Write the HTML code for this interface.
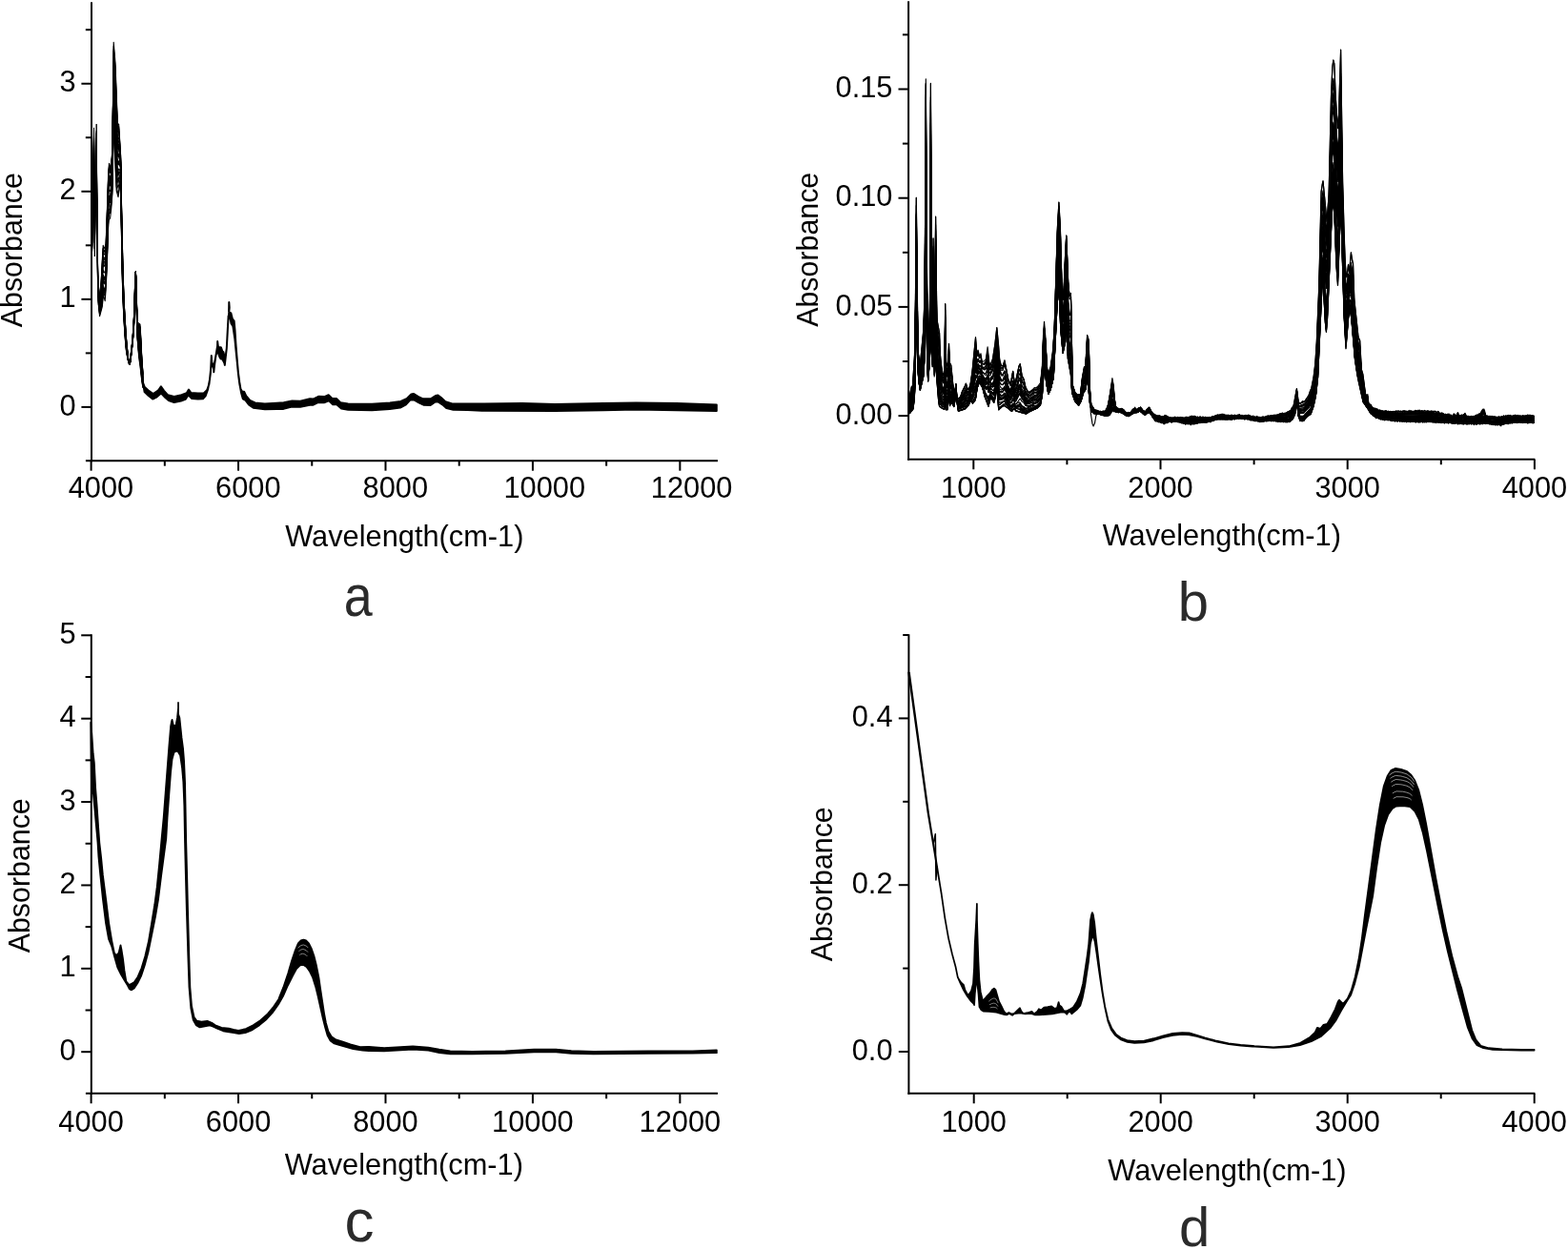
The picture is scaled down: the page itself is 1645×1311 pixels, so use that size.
<!DOCTYPE html>
<html lang="en"><head><meta charset="utf-8"><title>Spectra</title>
<style>
html,body{margin:0;padding:0;background:#fff;}
svg{display:block;font-family:"Liberation Sans", Arial, Helvetica, sans-serif;}
</style></head><body>
<svg width="1645" height="1311" viewBox="0 0 1645 1311">
<rect width="1645" height="1311" fill="#fff"/>
<g id="curves">
<g fill="none" stroke="#000" stroke-width="0.95" stroke-linejoin="round"><path d="M95.80,270.0 96.80,262.0 97.80,230.0 98.50,200.0 98.90,240.0 99.30,269.0 100.60,205.0 101.30,188.0 101.60,215.0 101.90,250.0 102.50,296.0 103.20,318.6 103.60,322.3"/>
<path d="M95.80,267.6 96.60,258.9 96.80,255.9 97.80,220.4 98.50,189.8 98.90,226.6 99.30,253.7 100.00,228.6 100.60,199.2 101.20,180.2 101.30,180.4 101.60,209.9 101.90,246.0 102.50,292.1 103.20,315.9 103.60,320.0"/>
<path d="M95.80,268.5 96.60,260.8 96.80,258.4 97.80,224.7 98.50,194.5 98.90,232.9 99.30,261.0 100.00,231.7 100.60,202.1 101.20,185.3 101.30,184.2 101.60,212.4 101.90,248.0 102.50,294.0 103.20,317.3 103.60,321.1"/>
<path d="M95.80,267.6 96.60,259.1 96.80,256.2 97.80,221.2 98.50,190.7 98.90,227.8 99.30,255.1 100.00,229.2 100.60,199.6 101.20,180.9 101.30,180.9 101.60,210.2 101.90,246.2 102.50,292.2 103.20,315.9 103.60,319.9"/>
<path d="M95.80,264.5 96.60,253.3 96.80,248.7 97.80,210.0 98.50,179.2 98.90,213.0 99.30,238.6 100.00,222.5 100.60,193.7 101.20,170.8 101.30,173.5 101.90,242.3 102.10,260.3 102.50,288.5 103.10,310.9 103.20,313.5 103.60,317.8"/>
<path d="M95.80,263.2 96.60,251.0 96.80,246.0 97.80,206.3 98.50,175.8 98.90,208.7 99.30,234.0 100.00,220.8 100.60,192.2 101.20,168.4 101.30,171.7 101.90,241.4 102.10,259.7 102.50,287.6 103.10,310.4 103.20,312.9 103.60,317.3"/>
<path d="M95.80,261.0 96.60,246.5 96.80,240.0 98.50,164.8 98.90,194.1 99.30,217.2 100.00,213.7 101.20,157.1 101.30,163.3 101.80,225.4 102.10,256.8 102.50,283.4 103.10,308.0 103.20,310.2 103.60,315.0"/>
<path d="M95.80,260.2 96.60,245.1 96.80,238.3 98.50,163.0 98.90,192.0 99.30,215.1 100.00,212.9 101.20,155.9 101.30,162.4 101.80,224.9 102.10,256.5 102.50,282.9 102.70,292.4 103.10,307.6 103.20,309.8 103.60,314.6"/>
<path d="M95.80,259.1 96.60,243.0 96.80,235.5 98.50,157.7 98.90,184.8 99.30,206.6 100.00,209.2 100.60,181.6 101.20,149.7 101.30,157.8 101.80,222.4 102.10,254.8 102.50,280.4 102.70,290.4 103.10,306.1 103.20,308.1 103.60,313.1"/>
<path d="M95.80,257.0 96.60,239.1 97.60,191.2 98.50,150.9 98.90,176.3 99.30,197.3 100.00,205.6 100.60,178.5 101.20,144.5 102.10,253.6 102.70,289.0 103.10,305.1 103.20,306.9 103.60,312.0"/>
<path d="M95.80,255.0 96.60,235.4 97.60,184.6 98.50,144.1 99.20,184.1 99.30,188.0 100.00,202.0 100.60,175.4 101.20,139.4 101.80,218.6 102.10,252.4 102.70,287.8 103.10,304.1 103.60,311.2"/>
<path d="M95.80,254.2 96.60,234.1 97.60,182.4 98.50,141.8 99.20,181.0 99.30,184.7 100.00,200.7 100.60,174.2 101.20,137.4 101.80,217.8 102.10,251.9 102.70,287.1 103.10,303.6 103.60,310.6"/>
<path d="M95.80,254.3 96.60,234.5 97.60,183.5 98.50,143.4 99.20,183.5 99.30,187.4 100.00,201.9 100.60,175.4 101.20,139.5 101.80,218.7 102.10,252.4 102.70,287.8 103.10,304.2 103.60,311.2"/>
<path d="M95.80,252.0 96.60,230.0 97.60,175.0 98.50,133.9 99.20,170.0 100.00,196.0 100.60,170.0 101.20,130.1 101.80,215.0 102.10,250.0 102.70,285.0 103.10,302.0 103.60,309.0"/></g>
<g fill="none" stroke="#000" stroke-width="1.1" stroke-linejoin="round"><path d="M103.40,320.5 104.60,331.6 107.30,321.7 108.40,309.5 110.20,315.6 111.10,303.4 112.20,280.5 113.00,257.6 113.50,240.0 114.20,231.0 115.60,228.8 116.80,218.0 117.90,203.0 118.30,180.0 118.90,150.0 119.50,135.0 121.40,184.0 122.20,200.0 124.00,206.7 125.20,199.0 126.30,190.0 126.53,180.4 126.99,216.4 127.90,272.4 128.22,288.4 128.55,300.4 129.27,320.4 129.65,328.4 130.30,340.4 130.80,348.4 131.38,356.4 131.72,360.4 132.50,368.4 134.00,376.9 135.30,381.1 136.00,382.2 136.85,379.4 138.45,366.5 139.30,358.5 139.98,350.5 140.52,342.5 140.94,334.5 141.28,326.5 141.53,318.5 141.70,302.5 141.84,294.5 141.97,290.5 142.40,285.6 143.10,315.0 143.60,340.1 144.10,355.1 145.73,375.2 146.98,383.9 148.86,400.2 150.00,407.0"/>
<path d="M103.40,319.2 104.60,329.3 106.10,322.8 107.30,316.0 108.20,305.2 108.40,303.3 109.00,305.3 110.20,308.5 111.10,297.6 112.20,273.9 113.00,251.2 113.50,233.9 113.70,231.0 114.20,224.8 114.50,224.2 115.60,223.6 115.80,222.2 116.80,213.6 117.60,203.4 117.90,198.0 118.90,145.0 119.20,136.0 119.50,129.5 121.40,178.7 122.20,195.4 123.40,201.4 124.00,203.6 125.20,196.6 126.30,188.6 126.53,179.6 126.99,214.8 127.90,270.5 128.22,286.3 128.68,302.5 129.27,318.8 129.65,326.9 130.30,339.0 130.80,347.0 131.38,355.0 131.74,359.3 132.50,367.2 134.00,376.3 135.30,381.0 136.00,382.1 136.85,379.2 138.45,365.8 139.30,357.7 139.98,349.5 140.52,341.3 140.94,333.1 141.42,320.5 141.60,312.7 141.76,298.0 141.97,290.4 142.40,285.5 143.10,314.2 143.60,338.4 144.10,353.0 144.48,357.9 145.73,372.6 146.98,381.3 148.86,399.1 150.00,406.5"/>
<path d="M103.40,319.4 104.60,329.9 106.10,324.0 107.30,318.3 108.40,305.7 109.00,307.7 110.20,310.8 111.10,299.1 112.20,275.0 113.00,251.8 113.50,234.1 113.70,231.0 114.20,224.4 114.50,223.5 115.60,222.1 115.80,220.6 116.80,211.3 117.60,200.8 117.90,194.0 118.90,139.8 119.20,128.6 119.50,122.7 120.40,143.7 121.40,169.3 122.20,186.5 123.40,195.0 124.00,197.3 124.60,194.2 125.20,192.3 126.30,186.7 126.53,178.6 126.99,213.0 127.90,268.9 128.22,284.9 128.68,301.5 129.27,318.2 129.65,326.5 130.30,338.9 130.80,347.1 131.38,355.2 131.74,359.6 132.50,367.6 134.00,376.5 135.30,381.1 136.00,382.2 136.85,379.3 137.97,370.1 138.90,362.0 139.66,353.9 140.27,345.7 140.74,337.4 141.17,328.0 141.53,316.7 141.70,301.8 141.84,294.2 141.97,290.4 142.40,285.5 143.10,314.1 143.60,338.0 144.10,352.4 144.48,357.2 145.73,370.7 146.98,378.4 148.86,397.0 150.00,405.1"/>
<path d="M103.40,318.5 103.60,320.5 104.60,328.3 106.10,321.6 107.30,314.2 108.20,303.1 108.40,301.3 109.00,303.3 110.20,306.0 111.10,295.2 112.20,270.8 113.00,247.7 113.50,230.3 113.70,226.9 114.20,220.6 114.50,219.5 115.60,218.9 115.80,217.5 116.80,208.5 117.60,198.2 117.90,190.5 118.90,136.0 119.20,123.4 119.50,118.1 121.00,152.6 121.40,163.3 122.20,180.7 123.40,190.3 124.00,192.2 124.60,189.1 125.20,187.9 126.30,184.1 126.53,177.1 127.05,214.3 127.90,265.3 128.32,285.2 128.81,302.6 129.46,319.7 130.36,337.8 130.80,345.0 131.38,353.3 132.00,360.8 132.50,366.2 134.00,375.9 134.60,378.4 135.30,381.0 136.00,382.1 136.75,379.6 136.85,379.1 138.45,365.7 139.30,357.6 139.98,349.4 140.52,341.1 140.94,332.8 141.42,320.1 141.60,312.4 141.76,297.8 141.92,291.6 141.97,290.3 142.40,285.5 143.10,313.9 143.60,337.7 144.10,352.1 144.48,357.1 145.73,370.7 146.98,378.4 148.86,397.0 150.00,405.0"/>
<path d="M103.40,317.4 103.60,319.5 104.60,326.7 106.10,320.0 107.30,312.0 108.20,301.1 108.40,299.5 109.00,301.8 110.20,304.7 111.10,294.4 112.20,270.1 113.00,247.2 113.50,229.8 113.70,226.5 114.20,220.2 114.50,219.2 115.60,218.7 115.80,217.4 116.80,208.3 117.60,198.0 117.90,190.1 118.90,135.4 119.20,122.6 119.50,117.2 121.00,151.0 121.40,161.5 122.20,178.5 123.40,188.1 124.00,189.6 124.60,186.4 125.20,185.4 126.30,182.4 126.53,176.1 127.11,216.1 127.90,262.7 128.32,282.5 128.81,300.2 129.46,317.7 130.36,335.9 130.80,343.2 131.38,351.6 132.00,359.3 132.50,364.8 134.00,375.2 134.60,378.1 135.30,380.9 136.00,382.0 136.75,379.4 136.85,378.8 137.43,373.4 138.45,365.0 139.12,358.6 139.73,351.5 140.42,341.5 140.94,331.0 141.42,317.7 141.60,310.2 141.76,297.2 141.92,291.3 141.97,290.2 142.40,285.4 143.10,312.8 143.60,335.4 144.10,349.1 144.48,354.4 145.73,366.4 146.98,373.6 148.86,394.5 150.00,403.6"/>
<path d="M103.40,316.5 103.60,318.6 104.60,325.0 106.10,317.4 107.30,307.4 108.20,295.6 108.40,294.3 109.00,296.4 110.20,298.3 111.10,288.9 112.20,263.6 113.00,240.6 113.50,223.3 113.70,219.5 114.20,213.3 114.50,211.9 115.60,212.2 115.80,211.2 116.80,202.2 117.60,192.5 117.90,182.3 118.30,159.4 118.70,140.9 118.90,127.0 119.20,111.3 119.50,107.3 121.00,139.5 121.40,150.3 122.20,168.5 123.40,181.3 124.00,182.9 124.60,180.3 125.20,180.7 126.30,180.1 126.53,174.8 127.12,214.7 127.90,260.4 128.32,280.3 128.92,301.9 129.27,312.0 129.65,320.9 130.54,338.2 131.38,351.0 132.00,358.9 132.50,364.5 134.00,375.1 134.60,378.1 135.30,380.9 136.00,382.0 136.75,379.4 136.85,378.8 137.43,373.5 138.45,365.0 139.12,358.6 139.73,351.6 140.42,341.6 140.94,331.2 141.42,317.9 141.60,310.4 141.76,297.2 141.92,291.3 141.97,290.2 142.40,285.4 143.10,312.9 143.60,335.6 144.10,349.3 144.48,354.6 145.73,366.6 146.98,373.6 148.86,394.3 150.00,403.4"/>
<path d="M103.40,315.5 103.60,317.7 104.60,323.5 106.10,315.8 107.30,305.3 108.20,293.5 108.40,292.4 109.00,294.8 110.20,296.9 111.10,288.1 112.20,263.0 113.00,240.3 113.50,223.2 113.70,219.4 114.20,213.4 114.50,212.1 115.60,212.6 115.80,211.7 116.80,202.8 117.60,193.2 117.90,183.5 118.30,160.6 118.70,142.1 118.90,128.5 119.20,113.3 119.50,109.2 121.00,142.1 121.40,152.9 122.20,171.0 123.40,183.1 124.00,184.7 124.60,182.0 125.20,182.1 126.30,180.8 126.53,175.2 127.12,215.3 127.90,261.0 128.32,280.9 128.82,299.2 129.46,316.7 130.36,335.2 130.80,342.5 131.38,351.0 132.00,358.8 132.50,364.4 134.00,375.0 134.60,378.0 135.30,380.9 136.00,382.0 136.75,379.4 136.85,378.8 137.43,373.3 138.45,364.8 139.12,358.3 139.73,351.2 140.42,341.0 140.94,330.4 141.42,316.7 141.60,309.3 141.76,296.9 141.92,291.2 141.97,290.1 142.40,285.3 143.10,312.3 143.60,334.1 144.10,347.4 144.48,352.8 145.73,363.4 146.98,369.5 147.86,379.4 148.61,389.1 148.86,391.8 150.00,401.8"/>
<path d="M103.40,314.6 103.60,316.9 104.60,322.0 106.10,313.8 107.30,302.1 108.20,289.9 108.40,288.9 109.00,291.4 110.20,292.9 111.10,284.7 112.20,259.1 113.00,236.3 113.50,219.3 113.70,215.2 114.20,209.2 114.50,207.7 115.60,208.7 115.80,207.9 116.80,199.1 117.60,189.8 117.90,178.6 118.30,155.8 118.70,137.7 118.90,123.1 119.20,106.1 119.50,102.8 121.00,134.3 121.40,145.3 122.20,163.9 123.40,178.0 124.00,179.5 124.60,177.1 125.20,178.1 126.30,178.7 126.53,174.0 127.19,217.7 127.90,258.6 128.32,278.4 128.92,300.4 129.46,315.2 130.36,334.0 130.80,341.4 131.38,350.0 132.00,358.0 132.50,363.7 134.00,374.7 134.60,377.9 135.30,380.8 136.00,381.9 136.75,379.4 136.85,378.7 137.43,373.1 138.45,364.6 139.12,358.1 139.73,351.0 140.27,343.2 140.78,333.8 141.28,320.7 141.53,312.2 141.76,296.8 141.92,291.2 141.97,290.1 142.40,285.3 143.10,312.1 143.60,333.8 144.10,347.0 144.48,352.5 145.73,363.0 146.98,369.0 147.86,379.0 148.61,388.9 148.86,391.6 150.00,401.7"/>
<path d="M103.40,314.9 103.60,317.1 104.60,322.4 106.10,314.4 107.30,303.0 108.20,290.9 108.40,289.9 109.00,292.4 110.20,294.2 111.10,285.8 112.20,260.4 113.00,237.7 113.50,220.7 113.70,216.7 114.20,210.8 114.50,209.4 115.60,210.3 115.80,209.5 116.80,200.7 117.60,191.3 117.90,180.8 118.30,158.1 118.70,139.8 118.90,125.7 119.20,109.6 119.50,106.0 121.00,138.4 121.40,149.4 122.20,167.8 123.40,181.0 124.00,182.6 124.60,180.1 125.20,180.6 126.30,180.1 126.53,174.8 127.16,217.3 127.90,260.2 128.32,280.1 128.92,301.7 129.27,311.8 129.65,320.7 130.54,338.0 131.38,350.7 132.00,358.6 132.50,364.2 134.00,374.9 134.60,378.0 135.30,380.9 136.00,382.0 136.75,379.4 136.85,378.7 137.43,373.2 138.45,364.7 139.12,358.2 139.73,351.1 140.27,343.3 140.78,333.9 141.28,320.9 141.53,312.4 141.76,296.8 141.92,291.2 141.97,290.1 142.40,285.3 143.10,312.1 143.60,333.8 144.10,347.0 144.48,352.5 145.73,362.8 146.98,368.7 147.86,378.7 148.61,388.6 148.86,391.3 150.00,401.5"/>
<path d="M103.40,314.7 103.60,317.0 104.60,322.2 106.10,314.0 107.30,302.2 108.20,289.9 108.40,288.9 109.00,291.2 110.00,292.4 110.20,292.6 111.10,284.3 112.20,258.3 113.00,235.3 113.50,218.2 113.70,214.0 114.20,207.9 114.50,206.2 115.60,207.0 115.80,206.3 116.80,197.2 117.60,187.8 117.90,175.7 118.30,152.8 118.70,134.7 119.20,100.9 119.50,98.0 121.00,127.4 121.40,138.1 122.20,156.6 123.40,172.0 124.00,173.0 124.60,170.6 125.20,172.7 126.30,175.5 126.53,172.2 127.22,216.2 127.90,254.2 128.43,278.5 128.96,298.0 129.53,313.8 130.36,331.3 130.80,338.8 131.38,347.6 132.00,355.9 132.50,361.8 133.30,368.5 134.00,373.8 134.60,377.5 135.30,380.7 136.00,381.8 136.75,379.2 137.43,372.3 138.36,364.5 139.12,357.1 139.73,349.7 140.27,341.5 140.78,331.8 141.17,321.6 141.53,309.1 141.74,296.7 141.92,290.8 141.97,289.9 142.40,285.2 143.60,330.7 144.10,343.0 144.48,348.9 145.73,357.0 146.98,361.8 147.86,373.2 148.61,384.6 149.86,398.1 150.00,399.2"/>
<path d="M103.40,314.6 103.60,316.9 104.60,322.0 106.10,313.7 107.30,301.7 108.20,289.3 108.40,288.4 109.00,290.7 110.00,291.8 110.20,291.9 111.10,283.6 112.20,257.5 113.00,234.4 113.50,217.2 113.70,212.9 114.20,206.8 114.50,205.1 115.60,205.9 115.80,205.2 116.80,196.1 117.60,186.7 117.90,174.1 118.30,151.2 118.70,133.1 119.20,98.3 119.50,95.7 121.00,124.5 121.40,135.2 122.20,153.8 123.40,170.0 124.00,171.0 124.60,168.7 125.20,171.1 126.30,174.7 126.53,171.8 127.22,215.5 127.90,253.4 128.47,279.6 129.02,299.6 129.68,316.8 130.54,334.2 131.38,347.4 132.00,355.8 132.50,361.8 133.30,368.5 134.00,373.8 134.60,377.5 135.30,380.7 136.00,381.8 136.75,379.2 137.43,372.4 138.36,364.7 139.12,357.3 139.73,350.0 140.27,342.0 140.78,332.3 141.27,319.1 141.53,310.1 141.76,296.2 141.92,290.9 141.97,289.9 142.40,285.2 143.10,311.2 143.60,331.9 144.10,344.6 144.48,350.4 145.73,359.7 146.98,365.4 147.86,376.3 148.61,387.0 148.86,389.8 150.00,400.7"/>
<path d="M103.40,313.3 103.60,315.6 104.60,319.7 106.10,310.7 107.30,296.7 108.20,283.7 108.40,283.1 109.00,285.4 110.00,285.9 110.20,285.9 111.10,278.7 112.20,251.8 113.00,228.8 113.50,211.7 113.70,207.0 114.20,201.1 114.50,199.1 115.60,200.6 115.80,200.3 116.80,191.2 117.60,182.2 117.90,167.9 118.30,145.0 118.70,127.5 119.20,89.1 119.50,87.6 121.00,114.8 121.40,125.7 122.20,145.1 123.40,163.7 124.00,164.5 124.60,162.6 125.20,166.3 126.30,172.1 126.50,170.2 126.53,170.3 126.97,195.4 127.22,213.1 127.83,246.9 128.47,276.6 129.02,297.2 129.53,311.3 130.36,329.3 130.80,336.9 131.38,346.0 132.00,354.6 132.50,360.7 133.30,367.8 134.00,373.3 134.60,377.3 135.30,380.7 136.00,381.8 136.75,379.1 137.43,372.0 138.36,364.2 139.12,356.7 139.73,349.3 140.21,342.1 140.78,331.3 141.17,321.0 141.53,308.4 141.74,296.5 141.92,290.7 141.97,289.8 142.40,285.2 143.60,330.1 144.10,342.4 144.48,348.4 145.73,356.3 146.98,361.2 147.86,372.8 148.61,384.4 149.65,395.8 150.00,399.2"/>
<path d="M103.40,312.1 103.60,314.5 104.60,317.5 106.10,307.5 107.30,291.3 108.20,277.3 108.40,277.0 109.00,279.3 110.00,278.9 110.20,278.7 111.10,272.6 112.20,244.9 113.00,222.0 113.50,205.2 113.70,200.1 114.20,194.4 114.50,192.2 115.60,195.1 115.80,195.0 116.80,186.5 117.60,178.3 118.30,140.0 118.70,123.2 119.20,82.6 119.50,82.2 121.00,110.0 122.20,141.7 123.40,161.9 124.00,162.9 124.60,161.3 125.20,165.3 126.30,171.6 126.50,169.9 126.53,170.0 126.97,194.8 127.22,212.6 127.83,246.1 128.47,275.7 129.02,296.3 129.53,310.5 130.36,328.5 130.80,336.1 131.38,345.1 132.00,353.8 132.50,359.9 133.30,367.1 134.00,372.8 134.60,377.1 135.30,380.6 136.00,381.7 136.75,379.0 137.43,371.5 138.36,363.7 139.12,356.0 139.73,348.5 140.21,341.2 140.74,330.8 141.05,322.9 141.53,306.6 141.70,297.6 141.84,292.6 141.97,289.7 142.40,285.1 143.60,328.5 144.10,340.3 144.48,346.6 145.73,353.7 146.98,358.4 147.86,370.6 148.61,382.8 149.86,397.2 150.00,398.3"/>
<path d="M103.40,310.8 103.60,313.3 104.60,315.5 106.10,305.2 107.30,287.9 108.20,273.8 108.40,273.8 109.00,276.3 110.00,275.9 110.20,275.7 111.10,270.3 112.20,242.3 113.00,219.5 113.50,202.8 113.70,197.5 114.20,191.8 114.50,189.4 115.60,192.4 115.80,192.5 116.80,183.7 117.60,175.5 118.30,135.9 118.70,119.2 119.20,75.9 119.50,76.1 121.00,101.7 122.20,133.7 123.40,155.9 124.00,156.7 124.60,155.5 125.20,160.7 126.30,169.3 126.50,168.4 126.53,168.7 126.97,192.4 127.22,210.6 127.83,243.8 128.56,277.2 129.11,297.6 129.68,313.0 130.54,331.0 131.08,340.0 131.72,349.7 132.50,359.8 133.30,367.1 134.00,372.9 134.60,377.1 135.30,380.6 136.00,381.7 136.75,379.0 137.43,371.6 138.36,363.8 139.12,356.2 139.73,348.7 140.21,341.3 140.78,330.2 141.12,320.8 141.53,306.7 141.70,297.6 141.84,292.6 141.97,289.7 142.40,285.1 143.60,328.1 144.10,339.6 144.48,345.9 145.73,351.8 146.98,355.2 147.86,367.5 148.61,380.3 149.86,395.5 150.00,396.7"/>
<path d="M103.40,311.5 103.60,313.9 104.60,316.7 106.10,306.7 107.30,290.2 108.20,276.3 108.40,276.1 109.00,278.6 110.00,278.2 110.20,278.0 111.10,272.1 112.20,244.1 113.00,221.1 113.50,204.2 113.70,198.9 114.20,193.1 114.50,190.7 115.60,193.2 115.80,193.2 116.80,184.1 117.60,175.7 118.30,135.9 118.70,119.1 119.20,75.4 119.50,75.5 121.00,100.2 122.20,131.6 123.40,153.9 124.00,154.6 124.60,153.3 126.30,168.1 126.50,167.6 126.53,168.0 126.97,191.0 127.29,213.4 127.83,242.2 128.64,279.2 129.14,297.3 129.84,315.6 130.57,330.6 131.72,349.0 132.58,360.1 133.30,366.8 134.00,372.7 134.60,377.0 135.30,380.6 136.00,381.7 136.75,379.0 137.43,371.5 138.36,363.7 139.12,356.1 139.73,348.6 140.21,341.2 140.78,330.2 141.12,320.8 141.53,306.7 141.70,297.6 141.84,292.6 141.97,289.7 142.40,285.1 143.60,328.4 144.10,340.1 144.48,346.4 145.73,352.9 146.98,356.9 147.86,369.1 148.61,381.6 149.86,396.3 150.00,397.5"/>
<path d="M103.40,310.5 103.60,313.0 104.60,315.0 106.10,304.6 107.30,286.8 108.20,272.6 108.40,272.6 109.00,275.1 110.00,274.4 110.20,274.1 111.10,268.8 112.20,240.4 113.00,217.3 113.70,195.0 114.20,189.2 114.50,186.6 115.60,189.6 115.80,189.7 116.80,180.7 117.60,172.6 118.30,131.4 118.70,114.9 119.20,68.5 119.50,69.4 121.00,92.6 122.20,124.4 123.40,148.5 124.00,148.9 124.60,147.8 126.30,165.6 126.50,166.1 126.53,166.6 126.97,188.3 127.22,207.1 127.71,233.2 128.64,276.4 129.14,294.9 129.84,313.7 130.57,328.9 131.74,347.9 132.58,359.0 133.30,366.0 134.00,372.1 134.60,376.8 135.30,380.5 136.00,381.6 136.75,378.9 137.43,371.1 138.36,363.2 138.90,357.9 139.44,351.7 139.98,344.1 140.52,334.5 140.93,325.4 141.53,305.0 141.76,294.8 141.92,290.3 142.40,285.0 143.60,326.7 144.10,337.9 144.48,344.4 145.73,349.6 146.98,353.0 147.86,365.9 148.61,379.3 149.86,395.0 150.00,396.2"/>
<path d="M103.40,310.1 103.60,312.6 104.60,314.3 106.10,303.5 108.20,270.3 108.40,270.4 109.00,272.9 110.00,271.9 110.20,271.6 111.10,266.7 112.20,238.0 113.00,215.1 113.70,192.8 114.20,187.2 114.50,184.6 115.60,188.1 115.80,188.4 116.80,179.7 117.60,172.0 118.30,131.0 118.70,114.7 119.20,68.7 119.50,69.8 121.00,94.5 122.20,127.3 123.40,151.4 124.00,152.2 124.60,151.3 125.20,157.3 126.30,167.5 126.50,167.2 126.53,167.7 126.97,190.4 127.22,208.9 127.78,239.2 128.56,275.0 129.14,296.7 129.84,315.1 130.57,330.1 131.74,348.8 132.58,359.6 133.30,366.4 134.00,372.3 134.60,376.9 135.30,380.5 136.00,381.6 136.75,378.9 137.43,371.1 138.36,363.2 138.90,357.8 139.44,351.5 139.98,343.9 140.52,334.2 140.93,324.9 141.27,313.9 141.84,292.2 141.97,289.5 142.40,285.0 143.60,325.7 144.10,336.6 144.48,343.2 145.73,347.6 146.98,350.4 147.86,363.8 148.61,377.9 149.86,394.2 150.00,395.4"/>
<path d="M103.40,308.9 103.60,311.6 104.60,312.6 106.10,301.8 108.20,268.3 108.40,268.6 109.00,271.3 110.00,270.5 110.20,270.2 111.10,265.8 112.20,237.2 113.00,214.3 113.70,192.0 114.20,186.4 114.50,183.7 115.60,187.1 115.80,187.5 116.80,178.5 117.60,170.6 118.30,128.8 118.70,112.5 119.20,64.6 119.50,65.9 121.00,88.2 122.20,120.3 123.40,145.3 124.00,145.5 124.60,144.5 126.30,164.0 126.50,165.0 126.97,186.4 127.22,205.4 127.69,230.3 128.64,274.2 129.14,293.0 129.84,312.0 130.54,326.9 131.74,346.6 132.58,357.9 133.30,365.2 134.60,376.6 135.30,380.4 136.00,381.5 136.75,378.8 137.43,370.5 138.36,362.5 139.12,354.7 139.66,347.9 139.98,343.0 140.52,333.0 140.93,323.6 141.84,291.9 141.97,289.4 142.40,284.9 143.60,323.8 144.48,341.0 145.73,343.7 146.98,345.5 147.86,359.6 148.61,374.6 149.86,392.1 150.00,393.4"/>
<path d="M103.40,308.3 103.60,310.9 104.60,311.4 106.10,300.0 108.20,264.2 108.40,264.7 109.00,267.3 110.00,265.6 110.20,265.2 111.10,261.4 112.20,231.7 113.00,208.5 113.70,185.7 114.50,176.9 115.80,181.4 117.60,164.7 117.90,143.2 118.30,120.3 118.70,104.6 119.20,51.5 119.50,54.3 121.00,73.7 122.20,106.7 123.40,135.3 124.00,135.3 124.60,134.8 126.50,162.4 126.97,182.0 127.22,201.6 127.60,221.9 128.73,274.0 129.26,293.6 129.84,309.4 130.57,325.2 131.26,337.1 132.00,348.9 132.50,355.7 132.92,360.6 133.70,368.3 134.60,376.4 135.30,380.4 136.00,381.5 136.75,378.7 137.43,370.2 138.36,362.3 139.12,354.5 139.66,347.6 139.98,342.7 140.52,332.8 140.93,323.3 141.84,291.9 141.97,289.4 142.40,284.9 143.60,323.8 144.48,341.2 145.73,344.2 146.98,346.3 147.86,360.3 148.61,375.2 149.86,392.5 150.00,393.8"/>
<path d="M103.40,307.4 103.60,310.1 104.60,309.9 106.10,298.1 108.20,261.1 108.40,261.8 109.00,264.5 110.00,262.8 110.20,262.3 111.10,259.1 113.00,206.2 113.70,183.3 114.50,174.6 115.80,179.6 117.60,163.2 117.90,141.1 118.30,118.3 118.70,102.8 119.20,48.6 119.50,51.7 121.00,70.7 122.20,103.9 123.40,133.2 124.00,133.1 124.60,132.7 126.50,161.7 126.97,180.7 127.22,200.6 127.52,216.6 128.73,272.7 129.26,292.5 129.84,308.3 130.57,324.2 132.00,348.1 132.58,356.0 132.92,359.9 133.70,367.8 134.60,376.2 135.30,380.3 136.00,381.4 136.75,378.6 137.43,369.9 138.36,361.9 139.12,353.9 139.73,346.0 139.98,342.0 140.61,330.1 140.93,322.2 141.76,293.5 141.92,289.8 142.40,284.8 143.60,322.1 144.48,339.2 145.73,340.9 146.98,342.4 147.86,357.1 148.61,372.9 149.86,391.2 150.00,392.5"/>
<path d="M103.40,306.9 103.60,309.7 104.60,309.2 106.10,297.4 107.30,275.7 108.20,260.4 109.00,264.1 110.00,262.6 110.20,262.1 111.10,259.2 113.00,206.9 113.70,184.3 114.50,175.9 115.80,181.1 117.60,165.1 117.90,143.8 118.30,121.1 118.70,105.5 119.20,53.3 119.50,56.1 121.00,76.8 122.20,110.1 123.40,138.2 124.00,138.4 124.60,137.9 126.30,161.3 126.50,163.3 126.97,183.6 127.22,203.0 127.60,223.4 128.73,275.5 129.26,294.8 129.84,310.4 130.57,326.0 131.26,337.8 132.00,349.4 132.50,356.1 132.92,360.9 133.70,368.5 134.60,376.4 135.30,380.4 136.00,381.5 136.75,378.7 137.43,370.3 138.36,362.3 139.12,354.4 139.66,347.5 139.98,342.6 140.61,330.8 140.93,323.0 141.70,295.5 141.84,291.8 141.97,289.4 142.40,284.9 143.60,323.0 144.48,340.1 145.73,342.2 146.98,343.6 147.86,357.9 148.61,373.4 149.86,391.3 150.00,392.6"/>
<path d="M103.40,306.2 103.60,309.0 104.60,308.0 106.10,295.8 107.30,272.9 108.20,257.2 109.00,261.0 110.00,259.0 111.10,256.0 113.00,202.9 113.70,180.0 114.50,171.3 115.80,177.0 117.60,161.0 117.90,138.0 118.30,115.3 118.70,100.0 119.20,44.2 121.00,66.3 122.20,100.0 123.40,130.5 124.60,130.1 126.50,161.0 126.97,179.6 127.22,199.6 127.52,215.6 128.73,271.6 129.26,291.6 129.84,307.6 130.57,323.6 132.00,347.6 132.58,355.6 132.92,359.6 133.70,367.6 134.60,376.1 135.30,380.3 136.00,381.4 136.75,378.6 137.43,369.7 138.36,361.7 139.12,353.7 139.73,345.7 139.98,341.7 140.61,329.7 140.93,321.7 141.48,301.7 141.74,293.7 141.92,289.7 142.40,284.8 143.60,321.3 144.48,338.2 146.98,340.1 147.86,355.1 148.61,371.4 149.86,390.2 150.00,391.6"/></g>
<path d="M146.0,340.5 L146.9,355.2 L147.6,371.5 L148.9,390.3 L150.1,401.7 L151.8,406.0 L155.7,409.5 L160.7,413.1 L165.8,409.7 L168.9,405.2 L171.9,409.6 L175.9,414.2 L182.7,416.0 L190.5,414.3 L195.8,412.3 L198.0,408.5 L200.4,412.1 L207.7,412.5 L213.7,412.4 L217.3,408.9 L219.4,402.8 L221.0,390.2 L221.8,373.0 L222.3,380.4 L224.5,383.4 L226.5,372.7 L228.1,362.8 L228.2,358.0 L228.8,363.1 L230.7,364.9 L231.8,364.2 L233.2,368.2 L234.4,369.3 L236.3,376.9 L237.8,365.2 L239.1,340.1 L240.7,322.6 L240.3,317.0 L240.1,326.6 L241.4,328.5 L242.3,328.2 L243.8,334.3 L245.6,336.7 L246.5,346.4 L247.4,360.2 L248.7,376.5 L249.9,390.3 L251.2,400.4 L252.5,408.1 L254.2,410.8 L256.1,410.8 L258.2,415.2 L262.2,419.8 L267.6,422.5 L277.8,423.5 L290.4,422.7 L297.6,422.3 L306.4,420.4 L315.1,420.8 L325.2,418.3 L329.0,418.5 L334.1,415.8 L340.3,416.1 L344.7,414.2 L348.5,417.9 L352.9,417.9 L357.2,422.2 L365.1,423.6 L390.2,423.8 L409.1,422.6 L420.5,421.0 L427.1,417.8 L431.4,413.4 L433.8,412.9 L438.6,415.9 L443.8,418.3 L451.8,418.3 L456.9,415.0 L459.5,414.5 L462.8,417.1 L467.3,421.2 L475.2,423.6 L490.4,423.6 L505.5,423.6 L548.1,423.1 L582.1,424.0 L633.2,423.1 L667.2,422.4 L709.8,423.1 L751.8,424.5 L751.8,431.0 L709.8,430.3 L667.2,429.6 L633.2,430.3 L582.1,431.0 L505.6,430.7 L490.4,430.1 L475.5,429.7 L468.3,428.0 L464.1,424.3 L460.0,421.6 L456.3,421.6 L451.3,425.1 L444.3,424.7 L439.5,422.3 L434.3,419.4 L430.5,419.4 L425.9,424.3 L419.9,427.6 L408.9,429.1 L390.2,430.3 L365.2,429.7 L358.1,428.6 L353.0,424.1 L349.2,424.2 L345.0,420.3 L339.9,422.2 L333.6,422.2 L328.6,424.7 L325.0,424.7 L315.0,426.8 L306.2,426.6 L297.4,428.9 L290.4,429.0 L277.9,429.3 L265.7,427.8 L261.0,424.5 L257.2,419.5 L254.8,418.3 L253.2,412.5 L251.3,402.6 L250.0,392.6 L248.8,380.1 L247.5,367.5 L246.3,355.0 L244.4,342.3 L242.5,339.2 L240.8,329.4 L239.6,331.2 L238.7,348.8 L237.8,365.1 L236.4,377.6 L235.8,382.9 L235.5,381.0 L233.4,376.9 L231.5,376.2 L230.6,374.8 L228.1,368.0 L226.5,372.5 L225.1,382.6 L224.3,390.2 L224.3,387.5 L222.3,380.9 L221.3,385.2 L220.1,397.7 L218.0,408.7 L215.6,415.3 L212.9,418.3 L207.7,418.6 L201.3,418.1 L197.6,414.2 L194.5,418.9 L189.9,420.5 L182.7,422.0 L176.9,420.0 L173.4,417.0 L168.9,412.4 L164.6,416.3 L160.2,418.6 L154.5,413.9 L151.6,411.0 L149.8,400.1 L148.0,384.0Z" fill="#000" stroke="#000" stroke-width="2.0" stroke-linejoin="round"/>
<path d="M95.2,757.7 L96.4,770.2 L97.7,790.2 L98.9,800.2 L100.2,826.5 L101.7,845.3 L103.2,867.8 L104.4,884.1 L106.1,898.9 L107.9,917.7 L111.1,942.7 L114.2,967.8 L117.3,986.6 L119.9,999.2 L121.9,1002.3 L124.6,999.3 L126.1,993.0 L126.5,991.3 L127.4,995.4 L129.0,1005.4 L130.5,1017.9 L132.4,1029.4 L135.6,1033.0 L140.7,1030.3 L144.6,1024.4 L148.4,1015.5 L152.2,1002.9 L156.0,986.6 L159.1,967.8 L162.2,949.0 L164.7,930.2 L167.2,905.1 L169.5,880.1 L171.6,857.8 L173.5,832.8 L175.4,807.7 L177.3,782.7 L179.1,761.4 L180.0,756.6 L180.6,754.9 L181.9,760.8 L184.5,760.7 L186.0,752.7 L187.0,742.6 L187.0,736.9 L187.1,749.0 L188.4,752.7 L189.3,761.4 L190.6,773.9 L192.1,785.2 L193.1,797.7 L194.1,820.2 L194.6,845.3 L195.3,884.1 L196.2,917.6 L197.1,955.2 L198.1,992.7 L198.2,997.6 L199.4,1035.2 L201.1,1055.3 L203.6,1066.8 L206.5,1070.7 L211.3,1071.7 L217.5,1070.8 L222.2,1072.8 L225.9,1075.3 L232.4,1077.9 L240.0,1078.6 L244.9,1079.8 L250.1,1080.8 L257.9,1079.1 L265.6,1075.3 L273.2,1070.2 L280.8,1063.3 L287.1,1055.7 L292.2,1048.1 L297.3,1035.4 L302.3,1020.4 L306.0,1007.8 L309.8,996.6 L312.8,989.3 L315.7,986.4 L318.4,985.6 L321.1,986.4 L324.0,989.3 L327.0,995.4 L329.5,1002.8 L332.0,1012.8 L334.5,1025.3 L336.3,1037.8 L338.2,1050.3 L340.1,1062.8 L342.0,1072.9 L344.5,1081.8 L347.8,1087.1 L352.4,1090.4 L358.8,1092.3 L367.6,1095.4 L377.8,1098.0 L386.9,1097.8 L403.1,1099.0 L433.1,1097.3 L449.2,1098.5 L460.7,1100.6 L472.3,1102.4 L495.5,1102.9 L530.2,1102.4 L560.2,1100.6 L583.2,1100.6 L599.4,1102.0 L622.5,1102.9 L680.3,1102.4 L726.5,1102.4 L751.9,1101.3 L751.9,1104.2 L726.5,1104.7 L680.3,1104.9 L622.6,1105.4 L599.5,1104.9 L583.3,1103.5 L560.2,1103.5 L530.1,1104.9 L495.5,1105.4 L472.4,1105.4 L461.0,1104.2 L449.4,1101.7 L433.1,1100.7 L403.1,1102.3 L387.0,1102.1 L380.5,1101.7 L370.5,1100.1 L361.8,1097.6 L355.6,1095.9 L350.7,1094.5 L346.6,1091.6 L343.6,1086.2 L341.1,1077.5 L338.6,1067.5 L336.1,1056.2 L333.6,1045.0 L331.1,1034.9 L327.9,1024.8 L324.7,1018.4 L321.5,1013.9 L317.9,1011.8 L314.8,1012.5 L310.8,1016.5 L307.0,1023.5 L302.0,1033.5 L297.0,1044.8 L292.0,1053.5 L285.8,1062.2 L279.6,1069.0 L272.2,1075.2 L264.8,1080.1 L257.4,1083.2 L250.8,1084.1 L245.2,1083.1 L240.2,1082.5 L234.1,1081.3 L227.9,1078.8 L224.2,1076.9 L220.2,1075.4 L214.9,1076.3 L209.6,1077.5 L205.7,1075.2 L202.7,1069.9 L200.3,1057.6 L198.4,1035.1 L197.1,997.5 L197.0,992.7 L195.8,955.1 L194.8,917.5 L194.0,884.0 L193.3,845.2 L192.3,820.1 L191.0,805.1 L189.1,792.4 L186.1,787.4 L182.6,789.0 L180.6,796.2 L179.1,810.1 L177.4,832.6 L175.6,857.7 L174.3,879.9 L171.8,898.7 L169.3,917.5 L166.2,942.5 L163.1,961.2 L159.3,980.0 L155.5,998.8 L151.8,1012.5 L148.1,1023.7 L144.4,1031.1 L140.8,1036.5 L137.6,1038.4 L135.7,1037.2 L133.9,1033.6 L130.8,1028.6 L127.1,1022.4 L123.4,1014.9 L120.2,1003.8 L117.1,992.4 L114.0,985.0 L110.9,967.5 L107.8,942.5 L105.2,917.5 L103.4,898.7 L102.5,884.0 L101.5,872.7 L99.6,851.4 L97.8,832.1 L96.0,831.9Z" fill="#000" stroke="#000" stroke-width="1.7" stroke-linejoin="round"/>
<path d="M954.0,705.6 L974.1,852.9 L979.3,885.2 L983.3,910.2 L987.7,937.8 L991.3,962.8 L995.1,984.2 L998.9,1000.5 L1002.6,1014.2 L1004.8,1025.2 L1008.2,1030.4 L1010.9,1032.8 L1012.5,1038.5 L1015.7,1044.1 L1019.0,1039.2 L1021.0,1031.5 L1022.0,1015.1 L1022.7,990.0 L1024.2,965.0 L1024.9,947.9 L1025.0,965.0 L1025.8,990.0 L1026.5,1008.8 L1027.4,1027.6 L1028.7,1040.2 L1031.0,1049.7 L1034.6,1045.7 L1038.3,1041.9 L1041.4,1037.6 L1042.9,1036.6 L1044.5,1038.1 L1046.2,1044.1 L1048.1,1050.4 L1050.7,1055.5 L1053.2,1060.6 L1055.7,1063.5 L1058.4,1062.0 L1061.4,1063.5 L1064.4,1062.7 L1067.7,1059.3 L1070.0,1057.2 L1071.4,1060.6 L1073.7,1063.1 L1078.0,1062.2 L1082.5,1060.9 L1085.0,1063.5 L1088.4,1060.7 L1089.9,1058.2 L1092.3,1059.5 L1095.6,1056.5 L1099.2,1056.0 L1103.2,1055.3 L1106.4,1057.8 L1109.0,1057.0 L1110.4,1051.7 L1110.6,1051.0 L1111.5,1054.4 L1113.4,1055.7 L1116.1,1060.2 L1119.3,1060.3 L1122.6,1058.4 L1125.9,1056.4 L1129.8,1050.5 L1133.6,1041.6 L1136.2,1031.5 L1138.7,1015.2 L1140.6,1002.6 L1142.2,990.1 L1144.0,965.2 L1145.2,959.1 L1145.9,957.1 L1146.8,959.1 L1148.2,967.7 L1149.8,983.9 L1152.0,1002.7 L1154.2,1021.5 L1156.7,1040.3 L1159.2,1055.4 L1162.4,1069.3 L1166.2,1078.2 L1170.7,1084.6 L1175.9,1088.5 L1182.4,1091.1 L1190.1,1092.1 L1200.3,1091.7 L1210.4,1089.2 L1220.4,1086.3 L1230.3,1083.9 L1240.2,1083.0 L1247.6,1083.4 L1255.0,1085.5 L1263.8,1088.3 L1276.3,1091.7 L1288.9,1094.3 L1301.5,1095.9 L1314.0,1096.8 L1315.9,1097.2 L1336.0,1098.4 L1352.1,1097.2 L1364.3,1093.8 L1374.5,1087.7 L1379.7,1082.5 L1381.9,1077.8 L1385.3,1078.8 L1388.5,1074.7 L1392.5,1073.7 L1396.7,1066.4 L1400.8,1058.3 L1403.7,1050.5 L1405.0,1048.8 L1409.0,1052.8 L1413.7,1047.4 L1417.8,1038.3 L1421.8,1024.2 L1425.8,1004.1 L1428.8,984.1 L1431.8,960.1 L1435.8,930.1 L1439.8,900.1 L1443.8,870.1 L1447.8,844.1 L1451.8,824.2 L1455.8,813.4 L1459.5,807.7 L1464.1,805.8 L1469.8,806.8 L1475.6,808.7 L1480.4,812.6 L1484.2,818.4 L1488.2,828.3 L1492.2,844.2 L1496.2,864.2 L1501.2,892.1 L1506.2,920.2 L1511.2,946.2 L1517.2,976.2 L1523.2,1002.2 L1529.2,1024.2 L1533.2,1036.2 L1539.2,1060.2 L1544.2,1080.3 L1548.3,1090.4 L1553.5,1096.7 L1561.8,1099.2 L1576.0,1100.4 L1596.0,1100.8 L1609.6,1100.8 L1609.6,1101.6 L1596.0,1101.6 L1576.0,1101.2 L1566.1,1100.8 L1556.2,1099.2 L1549.5,1096.3 L1544.7,1089.6 L1539.8,1077.7 L1534.8,1059.8 L1528.8,1037.8 L1524.8,1021.8 L1518.8,997.8 L1513.8,975.8 L1508.8,951.8 L1504.8,931.8 L1500.8,911.8 L1496.8,891.8 L1492.8,873.8 L1488.8,859.7 L1484.7,851.5 L1479.4,846.2 L1472.0,845.2 L1464.7,845.6 L1460.4,848.4 L1456.2,854.6 L1452.2,865.8 L1448.2,883.8 L1444.2,909.9 L1440.2,939.9 L1436.6,957.8 L1433.2,974.8 L1429.6,993.8 L1425.6,1014.8 L1421.2,1031.8 L1417.2,1043.6 L1413.3,1049.5 L1407.3,1059.6 L1401.3,1070.5 L1395.4,1078.4 L1385.5,1087.3 L1375.7,1092.2 L1363.8,1096.2 L1351.9,1098.2 L1336.0,1098.8 L1316.0,1097.6 L1314.1,1097.6 L1301.7,1096.7 L1289.2,1095.1 L1276.7,1092.6 L1264.2,1089.5 L1255.5,1087.0 L1247.8,1085.4 L1240.2,1085.0 L1230.1,1085.9 L1220.0,1088.2 L1210.0,1091.3 L1200.0,1093.4 L1190.2,1093.8 L1182.8,1093.0 L1175.5,1090.2 L1170.1,1085.9 L1165.8,1079.9 L1162.4,1071.2 L1159.4,1057.6 L1156.9,1043.8 L1154.4,1027.5 L1152.2,1012.5 L1150.3,998.7 L1148.6,987.4 L1146.3,980.5 L1143.9,989.9 L1142.0,1008.7 L1140.1,1021.2 L1138.3,1033.7 L1135.8,1046.2 L1133.3,1054.7 L1129.7,1058.9 L1126.1,1061.9 L1124.3,1063.3 L1122.3,1060.5 L1120.3,1062.1 L1119.3,1063.8 L1117.5,1061.9 L1114.0,1061.5 L1108.9,1062.4 L1103.9,1063.3 L1097.7,1064.0 L1090.2,1064.3 L1085.4,1064.3 L1081.6,1063.0 L1075.3,1063.3 L1070.3,1062.5 L1064.3,1063.1 L1062.0,1064.8 L1059.0,1063.0 L1056.3,1064.3 L1054.1,1064.1 L1050.4,1063.1 L1045.3,1061.6 L1037.7,1060.8 L1031.6,1060.6 L1029.5,1059.3 L1027.5,1056.1 L1026.5,1042.5 L1024.6,1024.8 L1022.8,1042.5 L1022.1,1054.1 L1021.4,1052.6 L1018.3,1049.6 L1014.6,1044.6 L1010.9,1038.4 L1007.4,1031.0 L1004.7,1024.7 L1002.5,1013.8 L998.8,1000.1 L995.0,983.8 L991.3,962.6 L987.7,937.5 L983.1,910.0 L978.9,884.9 L973.5,852.7 L953.2,705.4Z" fill="#000" stroke="#000" stroke-width="1.7" stroke-linejoin="round"/>
<path d="M979.40,883.8 L981.30,874.7 L981.95,923.0 L983.00,908.5" fill="none" stroke="#000" stroke-width="1.5" stroke-linejoin="round"/>
<g fill="none" stroke="#fff" stroke-width="0.55" stroke-linecap="round"><path d="M1458.0,813.0 1459.0,811.5 1464.0,809.2 1470.0,810.0 1476.0,811.9 1481.0,815.7 1483.5,819.3"/>
<path d="M1458.8,816.3 1459.3,815.8 1460.8,814.9 1463.8,813.5 1464.3,813.4 1469.8,814.0 1471.8,814.5 1475.8,815.7 1478.8,817.6 1480.8,819.2 1483.3,822.6"/>
<path d="M1459.6,820.1 1461.1,819.0 1464.1,817.6 1465.1,817.5 1469.6,818.0 1471.6,818.4 1476.1,819.6 1478.6,821.1 1481.1,823.2 1482.6,825.3"/>
<path d="M1460.4,824.7 1461.4,824.0 1463.9,822.7 1464.9,822.5 1469.9,822.8 1471.9,823.2 1475.9,824.2 1478.9,825.7 1480.9,827.5 1481.9,828.7"/>
<path d="M1461.2,831.8 1463.7,830.4 1465.2,829.9 1471.7,830.2 1475.7,831.1 1478.7,832.2 1479.2,832.5 1481.2,834.4"/>
<path d="M1462.0,837.3 1465.0,835.7 1472.0,835.8 1476.0,836.5 1479.0,837.5 1480.5,838.9"/></g>
<g fill="none" stroke="#fff" stroke-width="0.45" stroke-linecap="round"><path d="M1037.5,1050.0 1041.0,1047.4 1043.0,1046.9 1045.0,1047.9 1047.0,1051.8"/>
<path d="M1038.3,1053.6 1040.8,1052.5 1042.8,1052.1 1044.8,1052.8 1045.3,1053.1 1046.8,1055.3"/>
<path d="M1039.1,1056.8 1041.1,1056.4 1043.1,1056.4 1045.1,1056.9 1046.1,1057.8"/></g>
<g fill="none" stroke="#fff" stroke-width="0.5" stroke-linecap="round"><path d="M313.0,994.0 315.0,992.0 315.5,991.7 318.0,991.0 318.5,991.0 321.5,992.2 323.0,993.8"/>
<path d="M313.8,997.6 315.3,996.1 317.8,995.5 318.3,995.5 321.3,996.8 322.8,998.4"/>
<path d="M314.6,1001.5 315.1,1001.0 315.6,1000.7 317.6,1000.2 318.1,1000.2 320.6,1001.3 321.1,1001.6 322.1,1002.7"/></g>
<g fill="none" stroke="#000" stroke-width="1.15" stroke-linejoin="round"><path d="M953.6,434.0 955.0,432.4 955.2,433.1 955.6,431.9 958.1,429.0 959.4,416.6 960.2,397.4 961.3,289.0 962.6,379.5 963.8,399.7 965.3,409.5 968.8,394.8 970.0,374.8 970.7,329.5 971.3,199.7 972.0,329.9 972.8,384.9 973.7,399.8 975.6,369.7 976.4,229.8 977.2,369.7 978.2,384.6 979.1,329.9 980.2,395.0 981.0,384.3 981.6,319.6 982.3,389.8 982.8,398.0 984.8,422.1 985.6,426.2 986.4,427.2 986.8,427.0 988.4,428.4 989.6,428.6 990.4,429.3 991.0,429.4 991.7,394.5 992.6,429.9 992.8,429.2 993.2,429.8 994.0,429.8 995.5,414.5 996.5,425.8 998.0,421.5 1000.8,426.5 1002.9,414.5 1005.4,431.1 1007.6,430.4 1007.6,430.0 1008.9,430.3 1009.2,429.5 1010.4,429.6 1011.2,428.8 1012.4,428.5 1012.6,428.8 1015.0,425.8 1016.0,425.3 1018.9,419.1 1020.4,423.2 1023.3,419.4 1025.2,406.8 1027.6,400.5 1029.6,404.8 1030.8,406.4 1033.3,416.4 1037.0,426.1 1039.6,416.6 1042.8,422.4 1044.5,416.5 1045.8,404.4 1047.7,429.9 1048.5,429.4 1049.6,427.5 1050.0,427.4 1050.0,427.9 1050.8,426.8 1053.0,425.5 1053.2,426.0 1054.4,425.7 1055.8,427.0 1056.8,427.2 1059.6,430.2 1060.4,430.3 1061.2,431.5 1062.0,431.1 1064.0,428.1 1065.8,431.1 1069.6,432.1 1070.2,431.8 1072.4,432.9 1072.8,432.5 1073.2,433.1 1073.6,432.8 1074.0,433.4 1076.4,434.2 1080.8,431.2 1081.5,430.9 1082.0,431.2 1082.8,429.9 1083.2,430.2 1084.0,429.7 1084.4,429.9 1084.8,429.2 1086.4,429.1 1087.2,428.3 1087.6,428.5 1090.4,426.1 1091.5,424.8 1093.4,414.9 1095.9,383.3 1097.8,402.2 1099.9,413.4 1102.2,408.2 1105.2,396.4 1109.0,320.7 1110.9,298.9 1112.8,345.9 1115.1,370.4 1117.8,358.4 1118.7,329.8 1120.3,375.7 1123.4,392.9 1124.7,412.6 1128.0,421.2 1131.6,425.4 1134.0,421.0 1136.6,412.1 1139.1,407.9 1140.6,394.7 1143.5,423.6 1145.4,431.6 1147.9,433.4 1148.0,434.0 1148.0,433.7 1148.8,433.8 1149.2,433.3 1150.4,433.7 1150.4,434.2 1151.2,432.9 1152.0,434.0 1153.2,433.4 1153.6,434.5 1154.4,434.4 1154.8,433.8 1155.2,435.4 1155.6,433.4 1156.0,435.7 1156.4,434.8 1156.8,435.1 1157.2,434.6 1157.6,435.9 1158.0,434.8 1158.4,435.6 1159.2,435.3 1159.6,436.3 1160.0,435.5 1160.4,436.1 1160.8,435.8 1161.6,436.3 1162.4,435.5 1163.2,436.0 1163.6,435.4 1163.8,435.7 1164.8,433.7 1165.6,433.8 1165.7,432.5 1166.9,429.8 1168.2,431.8 1168.4,431.3 1168.8,431.6 1170.0,430.9 1170.4,432.5 1170.8,431.5 1171.2,432.5 1171.6,431.6 1172.4,431.4 1173.2,432.0 1173.6,433.0 1174.0,431.8 1174.8,432.3 1175.2,431.7 1175.6,432.6 1176.8,433.1 1177.2,432.2 1177.6,433.7 1178.0,432.8 1178.8,434.3 1179.6,434.4 1180.8,435.4 1181.6,434.7 1182.0,435.9 1182.0,435.5 1182.8,436.4 1183.6,435.7 1184.4,436.2 1184.8,435.3 1185.2,436.0 1185.7,435.5 1186.0,435.9 1186.4,434.6 1186.8,435.1 1187.2,434.0 1188.0,433.4 1188.4,433.8 1189.2,432.5 1190.0,433.4 1190.1,432.6 1190.4,433.1 1190.7,432.5 1190.8,433.3 1191.6,431.6 1192.0,433.0 1193.2,431.4 1193.6,431.9 1194.0,431.4 1194.4,432.3 1195.1,430.6 1195.6,431.2 1196.0,430.6 1196.4,431.5 1197.2,431.6 1198.0,433.2 1198.4,432.9 1198.8,433.7 1198.9,433.1 1200.0,434.8 1200.4,434.3 1201.2,435.3 1201.4,434.4 1202.0,434.6 1203.6,433.2 1203.9,433.7 1204.8,431.8 1205.6,433.1 1206.4,432.0 1206.8,433.6 1207.6,435.1 1207.6,434.2 1208.8,437.1 1208.9,436.6 1209.6,437.6 1210.0,439.0 1210.4,438.6 1211.2,439.5 1211.6,441.2 1212.0,440.3 1212.8,441.9 1213.2,441.4 1214.4,442.3 1214.8,442.0 1215.6,442.9 1216.0,441.8 1216.4,442.8 1216.4,441.8 1216.8,441.9 1217.2,442.9 1217.6,442.4 1218.0,443.1 1218.4,442.6 1218.8,443.9 1219.6,443.0 1220.2,444.0 1220.4,443.4 1221.2,444.9 1222.0,443.6 1222.4,444.0 1222.8,442.2 1223.2,443.1 1223.6,442.8 1224.0,443.9 1225.2,442.2 1225.6,442.8 1226.0,442.0 1227.7,442.0 1228.4,442.8 1228.8,441.2 1229.2,443.2 1229.6,442.1 1230.0,442.6 1230.4,441.7 1232.0,442.4 1232.8,441.5 1233.6,442.3 1235.6,441.5 1236.0,442.9 1236.4,442.1 1237.2,442.2 1238.0,443.5 1238.4,442.7 1238.8,443.2 1239.2,442.7 1239.6,444.0 1240.4,443.1 1240.8,444.1 1242.4,443.8 1242.8,444.5 1243.6,444.0 1243.9,445.5 1244.0,444.5 1244.4,444.3 1246.4,445.0 1246.8,443.9 1248.4,444.8 1248.8,443.6 1249.2,446.0 1249.6,444.2 1250.4,444.9 1251.2,443.2 1252.0,444.9 1252.8,443.5 1253.2,445.0 1254.0,443.8 1254.8,444.0 1255.2,443.4 1256.8,444.1 1258.4,442.6 1258.8,443.6 1259.0,442.9 1259.6,443.3 1260.0,442.5 1260.4,443.2 1261.6,443.0 1262.4,441.8 1263.6,443.1 1264.4,442.5 1265.2,443.3 1266.4,442.5 1267.7,442.6 1268.8,441.4 1269.6,442.5 1270.4,440.9 1270.8,441.8 1271.6,440.6 1272.0,441.5 1272.4,441.0 1272.7,441.3 1272.8,440.9 1273.2,441.0 1274.0,440.0 1274.8,439.9 1275.2,440.5 1275.6,439.3 1276.0,440.2 1276.8,440.4 1277.6,438.8 1278.4,439.4 1278.8,438.5 1279.2,439.4 1280.0,439.0 1280.4,439.9 1280.8,439.4 1281.6,439.9 1282.4,439.3 1282.8,440.0 1283.6,439.2 1284.0,439.8 1284.4,439.2 1285.2,440.1 1285.3,439.7 1286.0,440.1 1286.8,439.0 1287.6,440.3 1288.4,438.7 1289.2,439.7 1289.6,439.2 1290.0,439.9 1290.8,439.1 1291.6,440.5 1292.0,439.2 1292.4,440.2 1293.6,438.9 1295.2,439.8 1296.4,438.5 1297.2,439.2 1298.0,438.1 1298.4,438.5 1298.8,438.0 1299.2,438.7 1299.6,438.1 1300.8,439.1 1301.6,437.7 1302.4,439.4 1304.0,439.0 1304.4,438.5 1305.2,439.4 1305.3,438.9 1305.6,440.1 1306.0,438.5 1306.8,439.8 1307.8,438.7 1308.4,440.1 1309.2,439.3 1309.6,440.0 1310.4,439.4 1311.6,440.6 1312.0,440.1 1312.8,441.2 1313.6,439.9 1314.0,441.0 1315.3,440.7 1316.4,441.4 1316.8,440.6 1318.4,441.7 1319.2,441.3 1319.6,441.7 1320.4,441.0 1322.8,442.6 1323.6,441.7 1324.0,442.5 1324.8,441.4 1325.6,442.1 1326.0,441.6 1327.2,441.7 1327.6,441.2 1328.4,441.6 1328.8,440.5 1329.6,441.7 1330.8,440.8 1332.4,441.6 1332.8,440.8 1333.2,441.6 1333.6,440.5 1334.8,441.7 1335.6,440.2 1336.0,441.4 1336.4,440.7 1338.0,441.6 1338.4,440.7 1338.8,442.5 1339.6,441.3 1340.0,441.8 1340.4,441.6 1340.8,442.7 1341.6,441.5 1342.4,441.6 1342.8,442.1 1343.2,441.6 1343.6,442.6 1344.0,441.9 1344.8,442.4 1345.2,441.2 1346.0,442.4 1348.0,442.3 1348.8,441.6 1348.8,443.0 1349.2,442.0 1350.0,443.0 1350.8,442.2 1351.6,442.4 1352.0,442.0 1352.4,442.7 1353.6,441.9 1353.8,442.2 1354.4,440.1 1354.8,440.9 1355.6,439.2 1356.0,439.9 1357.2,436.9 1358.0,436.1 1359.8,427.1 1360.4,415.7 1361.9,435.9 1363.6,440.3 1364.4,441.3 1364.4,440.6 1364.8,440.9 1365.2,441.9 1365.6,440.8 1366.3,440.5 1366.8,441.7 1367.6,440.6 1368.4,440.5 1368.8,439.4 1368.8,440.0 1369.2,439.0 1371.3,437.0 1371.6,436.0 1372.6,436.4 1374.0,434.7 1375.1,434.4 1375.7,431.6 1376.0,432.1 1377.2,427.8 1378.2,425.9 1380.8,412.3 1382.6,395.4 1386.8,303.2 1388.0,292.7 1390.3,337.7 1391.4,348.4 1392.5,334.4 1397.5,220.4 1398.9,211.7 1400.5,238.8 1402.0,279.3 1403.5,299.1 1406.6,216.0 1410.0,328.7 1412.0,365.1 1414.6,334.0 1416.0,325.3 1417.6,332.3 1421.6,378.7 1425.2,399.9 1430.2,422.4 1432.0,423.8 1432.8,425.9 1433.2,425.5 1433.6,426.7 1433.9,426.2 1438.4,434.2 1440.0,434.2 1440.8,436.5 1441.2,434.9 1442.7,437.4 1443.6,437.6 1444.0,437.0 1445.2,438.5 1445.6,437.5 1446.4,438.8 1446.8,438.6 1447.2,439.1 1447.6,438.5 1448.8,440.2 1449.6,439.3 1450.4,440.2 1450.8,439.8 1451.2,440.2 1451.6,440.0 1452.4,440.8 1452.8,439.5 1453.2,440.7 1453.6,440.2 1454.4,440.0 1454.8,440.5 1455.2,439.7 1456.8,440.9 1457.6,440.7 1458.4,439.9 1458.8,440.9 1460.0,441.6 1461.2,440.1 1461.5,441.4 1462.0,440.9 1462.4,441.4 1462.8,440.8 1463.6,442.1 1464.0,441.6 1465.6,441.4 1466.0,442.4 1466.4,441.4 1466.8,441.7 1467.6,441.3 1468.0,440.4 1468.8,442.2 1469.6,441.4 1470.4,441.9 1470.8,441.2 1471.2,442.4 1471.6,441.2 1472.0,441.3 1472.4,440.4 1472.8,442.4 1473.2,441.7 1473.6,442.5 1474.0,441.3 1474.0,441.9 1474.8,441.9 1475.6,442.9 1476.4,441.7 1477.2,442.5 1478.4,442.2 1478.8,441.6 1479.6,442.8 1480.0,441.6 1480.8,442.5 1481.2,441.5 1481.6,442.1 1482.0,441.4 1482.4,442.0 1482.8,441.6 1484.4,442.2 1484.8,441.3 1485.2,443.1 1486.0,441.9 1486.5,442.6 1486.8,442.0 1488.0,442.7 1488.4,442.1 1488.8,442.6 1489.6,442.3 1490.0,442.9 1490.8,441.8 1491.2,442.5 1492.4,442.4 1492.8,443.4 1493.2,442.4 1494.0,442.2 1494.4,442.9 1495.6,441.7 1496.4,442.6 1496.8,441.5 1498.0,442.7 1498.4,441.6 1499.2,442.6 1499.6,442.0 1500.8,441.6 1501.2,442.3 1501.6,441.6 1502.4,442.8 1502.8,442.4 1503.2,442.8 1503.6,442.1 1504.0,443.0 1504.4,442.1 1504.8,443.3 1505.6,442.2 1507.2,442.3 1508.4,443.1 1508.8,442.5 1509.2,443.3 1509.6,442.3 1510.4,442.3 1510.8,443.1 1510.9,442.1 1512.0,443.7 1512.8,442.3 1513.6,443.4 1514.3,442.3 1514.4,442.9 1514.8,442.3 1515.6,444.1 1516.4,442.5 1517.2,443.4 1517.6,443.0 1517.6,443.5 1518.0,443.0 1518.8,443.4 1519.6,442.5 1522.0,443.7 1522.4,443.1 1523.2,444.5 1523.6,443.8 1524.3,444.2 1525.6,443.2 1526.4,444.3 1526.8,443.3 1527.6,444.0 1528.4,443.7 1528.8,443.0 1529.6,444.9 1530.4,443.8 1531.2,444.8 1532.4,443.4 1532.8,444.0 1533.6,443.8 1534.0,445.0 1534.4,443.4 1535.6,445.0 1536.0,443.6 1536.8,444.4 1537.6,444.0 1537.8,444.8 1538.0,443.9 1538.4,444.1 1538.8,445.1 1539.6,444.0 1540.8,443.9 1541.6,444.9 1543.2,443.8 1543.6,444.9 1544.0,443.5 1544.4,444.5 1544.8,443.7 1545.6,443.7 1546.4,445.6 1546.8,443.9 1547.8,444.6 1548.4,443.4 1548.8,445.0 1549.6,444.0 1550.0,444.5 1550.4,444.0 1551.2,444.1 1551.6,444.7 1552.0,443.9 1552.8,444.6 1553.6,444.0 1554.0,444.5 1554.4,443.7 1555.2,444.9 1555.6,443.6 1556.0,443.4 1556.4,444.0 1557.1,443.2 1557.9,444.2 1558.0,443.2 1558.4,444.6 1558.8,443.6 1559.2,444.4 1560.0,444.5 1560.8,443.3 1561.2,444.3 1561.6,443.7 1562.4,445.0 1563.6,444.3 1564.4,444.9 1564.6,444.3 1564.8,445.2 1565.2,444.6 1566.4,445.6 1567.6,445.1 1568.4,445.9 1569.6,445.5 1570.0,446.0 1570.4,444.6 1570.8,445.6 1571.2,445.0 1571.6,446.0 1572.0,445.2 1572.8,445.0 1573.6,446.2 1574.0,444.8 1574.8,446.9 1575.2,445.5 1575.6,445.0 1576.0,445.2 1576.4,443.7 1576.8,445.5 1577.6,444.0 1578.0,445.1 1578.8,443.9 1579.2,444.5 1581.2,443.3 1581.6,444.4 1583.6,443.1 1584.0,444.3 1584.4,443.2 1584.8,443.6 1585.6,442.7 1586.0,444.1 1586.8,442.8 1588.0,443.0 1588.4,442.5 1588.8,443.1 1589.6,442.1 1589.8,443.2 1590.4,442.2 1591.6,443.6 1592.0,442.4 1592.4,443.2 1593.6,442.7 1594.4,443.1 1595.2,442.0 1595.6,442.9 1596.8,443.3 1597.2,442.9 1597.6,443.6 1598.0,443.0 1598.4,443.4 1600.0,442.8 1601.2,443.5 1601.6,442.9 1602.8,444.1 1603.2,443.2 1603.6,443.7 1606.0,443.2 1608.4,444.0 1608.8,442.9 1609.6,443.6"/>
<path d="M953.6,433.0 956.5,429.6 956.8,429.7 958.1,427.5 959.4,415.1 960.2,396.6 961.3,289.5 962.6,379.1 963.8,399.5 965.3,409.0 968.8,394.8 970.0,374.7 970.7,329.5 971.3,199.7 972.0,329.6 972.8,385.0 973.7,400.3 975.6,369.5 976.4,229.8 977.3,371.3 978.2,384.7 979.1,329.5 980.4,392.6 981.0,384.4 981.6,319.4 982.3,389.6 982.8,397.7 984.8,422.1 985.6,426.2 986.0,426.1 986.3,426.8 988.6,428.5 989.2,428.4 989.4,429.0 991.0,428.4 991.7,392.4 992.6,428.2 994.0,427.9 995.5,412.0 996.5,423.4 998.0,419.8 1000.8,426.0 1002.9,414.4 1005.6,431.4 1006.8,430.6 1008.4,430.1 1008.8,430.4 1008.9,429.6 1009.5,430.0 1010.4,429.1 1010.8,429.6 1011.2,428.8 1012.4,429.1 1013.4,427.4 1013.6,427.7 1016.4,424.6 1018.9,419.2 1020.4,423.1 1023.3,419.3 1025.2,406.6 1027.6,400.5 1028.4,402.6 1030.8,406.5 1033.2,415.8 1037.0,424.2 1039.5,414.3 1042.0,419.1 1042.8,419.8 1044.4,414.5 1045.8,402.7 1047.7,429.3 1048.4,429.5 1048.5,428.6 1049.2,428.5 1050.0,427.4 1053.6,425.3 1054.6,425.7 1054.8,426.5 1056.4,427.1 1057.6,428.5 1057.7,428.1 1058.0,428.7 1058.4,428.5 1059.2,429.8 1060.0,429.8 1060.2,430.5 1061.5,431.4 1063.2,429.0 1064.0,428.7 1064.0,428.0 1065.8,431.0 1066.4,431.2 1066.8,430.8 1067.1,431.4 1068.4,431.4 1068.8,431.9 1069.2,431.5 1071.6,432.9 1072.0,432.3 1073.2,433.4 1073.6,433.0 1076.4,433.8 1077.2,432.5 1077.6,432.9 1081.6,429.2 1082.4,429.3 1082.7,428.7 1082.8,429.0 1084.0,428.2 1085.2,428.1 1086.0,427.2 1087.8,427.2 1089.6,425.2 1091.5,424.1 1093.4,414.4 1094.6,395.6 1095.9,383.3 1097.8,402.5 1099.9,413.2 1102.2,408.5 1105.3,395.9 1109.0,320.6 1110.9,299.4 1112.8,345.7 1115.1,370.1 1117.8,356.9 1118.7,327.8 1120.3,371.8 1123.4,386.4 1124.7,410.0 1125.6,413.8 1128.0,420.5 1128.4,420.3 1128.8,421.3 1129.6,421.6 1131.6,424.3 1134.4,419.0 1136.6,410.7 1136.8,411.0 1139.1,407.7 1140.6,394.4 1143.6,424.0 1145.6,432.0 1146.8,432.6 1147.9,433.9 1148.4,433.3 1148.8,434.0 1149.2,433.4 1150.0,433.9 1150.4,435.1 1150.4,433.6 1152.0,434.5 1153.2,433.2 1153.6,434.4 1154.0,434.0 1154.4,435.1 1154.8,433.9 1155.2,434.7 1156.0,434.4 1156.0,435.6 1156.4,435.0 1157.2,435.5 1157.6,434.9 1158.4,435.2 1158.8,436.5 1159.2,435.9 1160.0,436.5 1160.8,435.0 1161.2,435.9 1162.0,435.2 1162.4,435.9 1162.5,434.4 1162.8,435.3 1163.2,434.3 1163.6,434.2 1164.0,435.0 1164.8,432.4 1165.2,433.2 1166.0,431.6 1166.8,427.8 1167.6,429.9 1168.0,428.6 1168.2,429.6 1169.1,430.5 1170.0,430.5 1171.6,431.8 1172.0,431.5 1172.4,432.6 1172.8,431.4 1173.2,431.4 1173.6,432.4 1173.8,431.6 1174.4,432.5 1175.2,432.0 1175.6,432.7 1177.2,431.9 1178.4,433.9 1178.8,433.5 1179.6,433.8 1181.2,435.8 1182.0,434.8 1182.0,436.5 1183.6,436.3 1184.0,436.9 1184.4,435.7 1184.8,436.2 1186.4,434.3 1186.8,434.8 1188.4,432.9 1188.8,433.9 1188.8,433.0 1189.6,432.1 1190.0,432.0 1190.1,432.9 1190.7,432.3 1191.2,433.2 1192.6,432.2 1192.8,433.2 1193.2,431.5 1193.6,431.9 1194.0,430.9 1194.8,431.6 1196.0,431.1 1196.6,431.3 1197.2,432.4 1197.6,431.7 1198.8,433.2 1198.9,432.5 1199.2,434.3 1200.4,434.4 1200.8,435.5 1201.2,434.5 1202.0,435.2 1203.2,433.2 1203.9,433.3 1204.0,432.6 1204.4,432.9 1205.2,431.6 1206.0,432.9 1206.4,432.2 1206.8,432.7 1207.6,434.7 1207.6,433.8 1208.0,435.5 1208.4,435.5 1209.6,438.1 1210.0,438.4 1210.1,437.8 1210.4,438.1 1210.8,439.6 1212.0,439.7 1212.4,441.8 1213.2,440.9 1213.6,441.2 1214.0,440.0 1214.8,441.9 1215.1,442.0 1215.2,440.6 1215.6,442.2 1216.4,442.3 1216.4,441.8 1217.2,441.6 1218.0,442.8 1218.4,442.1 1220.0,443.5 1220.2,442.0 1220.8,443.8 1222.0,442.7 1222.7,443.7 1222.8,443.2 1223.2,443.6 1224.4,442.6 1225.2,443.3 1226.4,441.6 1227.6,442.0 1227.7,440.9 1228.0,441.9 1229.2,441.5 1229.6,442.9 1230.4,441.2 1231.2,442.2 1233.6,441.4 1234.0,442.1 1234.4,440.5 1235.2,442.4 1235.2,441.5 1235.6,441.4 1236.0,442.9 1237.2,442.1 1238.8,442.4 1239.2,443.1 1240.0,442.3 1240.8,443.4 1241.6,442.4 1242.0,444.4 1242.8,443.7 1243.6,444.8 1243.9,444.0 1244.0,444.5 1244.4,444.0 1244.8,444.4 1245.6,443.4 1246.0,444.2 1246.8,444.5 1247.2,443.8 1247.6,444.8 1248.0,444.2 1248.4,444.8 1248.8,443.9 1249.2,444.8 1249.6,444.0 1250.2,444.5 1250.4,443.2 1251.2,444.9 1251.6,443.3 1252.7,444.7 1252.8,443.7 1253.2,443.9 1253.6,443.3 1254.4,444.1 1257.2,442.5 1257.6,443.2 1257.7,442.3 1258.0,443.3 1259.0,443.7 1259.2,442.1 1259.6,442.7 1260.8,441.7 1261.6,442.9 1262.8,442.9 1263.6,442.0 1264.8,443.0 1265.6,442.1 1266.0,443.1 1267.2,441.9 1267.6,442.4 1267.7,441.4 1268.0,442.0 1268.8,441.6 1269.6,441.9 1270.0,443.0 1270.2,441.5 1271.2,440.4 1272.0,441.8 1272.4,440.3 1272.8,441.1 1273.6,439.3 1274.0,440.8 1274.4,440.1 1274.8,440.4 1275.2,439.6 1275.3,440.4 1275.6,440.4 1276.0,439.5 1276.4,440.0 1277.6,439.0 1278.4,439.9 1279.2,438.9 1279.6,440.0 1281.6,438.9 1282.8,439.8 1283.2,438.6 1283.6,439.6 1284.0,439.1 1284.8,439.8 1285.3,439.3 1285.6,440.0 1286.0,439.6 1286.8,440.2 1287.6,439.1 1288.4,440.0 1289.6,438.8 1290.3,439.1 1290.4,439.9 1290.8,439.6 1291.2,439.9 1291.6,439.5 1292.0,440.3 1292.8,439.3 1294.4,439.8 1294.8,438.9 1295.3,439.9 1295.6,439.2 1296.8,438.6 1297.6,439.4 1299.2,438.0 1299.6,439.5 1300.0,438.1 1301.2,438.2 1302.0,439.2 1302.4,438.3 1303.6,439.1 1304.0,438.5 1304.4,439.1 1305.2,438.2 1306.8,439.6 1307.2,438.6 1307.6,439.4 1308.4,438.8 1308.8,439.5 1309.2,439.2 1310.0,439.6 1310.4,439.1 1311.6,440.7 1312.0,439.4 1312.8,440.2 1313.2,440.0 1315.2,441.0 1315.3,440.0 1315.6,441.1 1316.0,439.9 1316.4,441.8 1317.2,440.9 1317.6,441.7 1318.0,441.2 1320.0,441.9 1321.6,441.1 1321.6,442.6 1322.4,441.2 1322.8,442.0 1323.2,441.9 1323.6,440.7 1324.8,442.4 1326.0,441.7 1326.4,441.9 1326.8,440.9 1327.6,441.7 1327.9,440.8 1328.4,442.0 1329.2,441.8 1329.6,440.8 1330.4,441.7 1330.8,440.8 1331.6,440.4 1332.0,441.3 1333.2,440.8 1334.0,441.8 1334.4,440.6 1334.8,441.1 1336.0,441.7 1336.4,441.3 1336.8,441.9 1338.4,440.8 1338.8,441.4 1339.6,440.9 1340.0,441.3 1340.4,440.7 1341.6,441.7 1342.0,441.5 1342.5,442.4 1343.2,441.2 1343.6,440.9 1344.4,441.4 1344.8,440.9 1345.6,441.1 1346.8,442.8 1347.2,441.6 1347.6,441.9 1348.4,441.4 1348.8,442.2 1349.2,441.9 1349.6,442.5 1350.0,442.0 1350.4,442.7 1350.8,442.0 1351.2,442.6 1351.6,442.1 1352.4,442.5 1352.5,441.6 1353.8,441.4 1354.4,440.2 1355.2,440.3 1355.6,439.4 1356.0,440.0 1356.9,437.5 1357.2,438.2 1357.6,436.0 1358.4,434.9 1359.8,427.3 1360.4,415.7 1361.9,435.7 1363.6,439.8 1363.8,441.6 1364.0,440.1 1365.2,441.3 1366.0,440.7 1366.3,441.8 1367.6,440.5 1368.0,441.5 1369.2,438.2 1369.6,439.4 1370.0,437.7 1371.2,437.5 1371.6,435.7 1372.0,435.6 1372.4,436.2 1372.6,435.0 1372.8,435.7 1373.2,435.2 1374.0,435.5 1374.4,433.6 1375.1,434.5 1378.2,425.9 1378.4,423.3 1379.6,419.6 1380.7,412.9 1382.6,395.5 1386.8,304.2 1388.0,292.3 1390.3,337.7 1391.2,345.9 1391.4,346.6 1391.6,345.6 1392.5,334.7 1396.8,233.8 1397.5,221.0 1398.9,211.6 1400.4,236.8 1402.0,279.4 1403.5,299.3 1406.6,215.2 1410.2,334.2 1412.0,365.8 1414.6,333.7 1416.0,324.9 1417.4,332.1 1417.5,330.8 1421.2,374.7 1423.9,393.8 1430.0,421.2 1430.2,420.9 1431.2,423.5 1431.4,422.6 1432.7,425.9 1433.2,425.2 1433.9,427.1 1434.8,427.5 1436.4,431.4 1436.8,430.8 1437.6,433.6 1437.7,432.8 1438.4,434.1 1438.8,433.6 1439.2,434.1 1439.6,433.9 1440.0,435.3 1440.8,435.5 1440.8,434.5 1441.2,436.5 1442.0,436.4 1442.4,437.6 1442.7,436.2 1442.8,437.3 1443.2,436.7 1443.6,438.8 1444.0,436.5 1445.2,438.4 1446.4,438.3 1446.8,439.5 1447.2,438.4 1448.0,439.7 1448.4,438.5 1449.0,439.7 1449.6,438.7 1450.4,440.3 1450.8,439.4 1451.2,439.9 1452.0,439.4 1452.4,440.5 1453.2,440.4 1453.6,439.8 1454.8,440.3 1455.6,440.0 1456.0,440.9 1456.4,439.8 1457.2,440.3 1458.0,440.0 1458.8,441.1 1459.6,440.5 1460.0,441.6 1460.4,440.3 1460.8,441.5 1461.5,440.5 1462.4,441.7 1464.0,440.5 1464.4,441.2 1464.8,440.6 1466.4,441.8 1467.6,441.3 1468.8,442.2 1470.0,440.9 1470.8,442.1 1471.2,441.3 1471.6,442.3 1473.6,440.9 1474.8,441.7 1475.2,440.6 1476.0,442.0 1476.4,440.8 1476.8,441.7 1477.6,441.0 1478.0,442.4 1479.2,441.8 1479.6,442.6 1480.4,442.0 1480.8,442.5 1481.6,442.0 1482.0,442.4 1482.4,442.0 1482.8,442.4 1484.0,442.0 1484.8,442.7 1485.6,441.9 1486.0,442.6 1486.5,441.9 1487.2,442.7 1488.4,443.0 1489.2,442.2 1489.6,442.7 1490.0,442.2 1490.8,442.6 1491.6,441.6 1492.0,442.2 1492.8,442.2 1494.0,441.6 1494.4,442.6 1495.6,442.2 1496.0,443.1 1496.8,442.2 1498.0,442.5 1499.6,442.0 1500.4,442.7 1501.2,441.7 1501.6,442.6 1502.0,442.1 1502.4,442.7 1502.8,441.9 1503.2,442.7 1503.6,442.1 1504.4,442.6 1505.2,442.2 1505.6,442.9 1506.0,442.5 1506.8,443.7 1507.2,442.3 1508.0,441.9 1508.8,442.9 1510.0,443.0 1510.8,442.0 1510.9,443.3 1511.2,442.9 1511.6,443.4 1512.0,442.9 1512.4,443.2 1512.8,442.7 1514.3,443.6 1514.8,441.7 1515.2,443.0 1516.0,443.4 1516.8,442.8 1517.6,442.8 1518.0,443.8 1518.8,443.2 1519.6,444.2 1520.0,443.1 1521.2,442.7 1523.2,443.8 1523.6,443.1 1524.0,443.9 1524.3,443.0 1524.8,444.0 1525.6,444.4 1526.4,443.5 1527.2,443.3 1527.6,443.8 1527.7,443.4 1528.8,443.0 1529.2,444.9 1529.6,442.9 1530.0,444.0 1530.8,443.0 1531.2,444.1 1532.0,444.5 1532.4,443.7 1533.2,444.4 1534.4,444.2 1534.8,444.8 1535.3,443.6 1535.6,445.0 1537.2,444.1 1538.4,444.3 1539.2,445.1 1539.6,444.1 1540.4,444.8 1541.2,443.3 1541.6,444.6 1543.2,444.1 1543.6,444.9 1544.4,444.5 1545.2,444.8 1546.0,443.9 1546.4,444.7 1546.8,444.4 1547.2,444.9 1548.0,443.8 1548.8,445.4 1549.5,444.0 1550.0,444.9 1550.8,443.8 1552.0,444.2 1552.8,445.2 1554.0,443.6 1554.8,444.4 1555.4,443.7 1555.6,444.0 1556.8,443.5 1557.6,444.0 1558.0,443.5 1558.8,444.3 1559.2,443.5 1559.6,444.5 1560.4,443.5 1560.8,444.0 1561.2,443.6 1562.4,444.7 1562.8,443.8 1564.0,445.2 1564.4,444.7 1564.8,445.3 1565.2,444.2 1565.6,444.5 1566.0,444.0 1566.8,444.9 1567.6,445.0 1570.0,444.2 1570.8,445.2 1572.0,444.1 1572.8,445.2 1573.0,444.6 1573.2,445.3 1573.6,444.9 1574.0,445.1 1574.8,444.2 1575.6,445.0 1576.8,444.2 1577.6,444.9 1578.4,443.8 1578.8,444.4 1579.6,443.8 1580.0,444.2 1580.4,442.6 1581.2,444.6 1581.6,442.9 1582.4,444.7 1583.2,443.0 1584.8,443.8 1585.6,442.2 1586.8,443.8 1587.6,442.3 1588.4,442.9 1588.8,441.9 1589.2,443.2 1589.6,442.6 1591.2,443.4 1591.6,442.5 1592.4,443.1 1593.2,442.4 1594.4,442.5 1594.8,441.2 1595.6,443.5 1597.2,442.4 1597.6,443.0 1598.8,442.5 1600.0,443.2 1600.4,442.8 1600.8,443.1 1601.6,441.7 1602.4,442.6 1602.8,442.2 1603.2,443.0 1603.6,442.1 1606.8,443.0 1607.6,442.5 1608.8,442.6 1609.6,444.0"/>
<path d="M953.6,433.6 957.2,429.2 958.1,427.3 959.4,414.1 960.2,394.2 961.3,285.1 962.6,377.6 963.8,398.1 965.3,407.9 968.8,391.9 970.0,371.1 970.7,323.0 971.3,193.7 972.0,323.4 972.8,381.2 973.7,397.4 974.6,388.5 975.6,367.4 976.4,224.9 977.2,366.6 978.2,382.3 979.1,328.0 980.2,393.5 981.0,383.6 981.6,319.0 982.3,389.4 984.8,422.0 985.6,426.1 991.0,429.6 991.7,394.6 992.5,429.6 994.0,429.6 995.5,414.6 996.5,425.6 998.0,421.6 1000.8,426.6 1002.9,414.6 1005.4,431.2 1012.6,428.7 1016.4,424.4 1018.9,419.3 1020.4,423.1 1023.3,419.3 1025.2,406.8 1027.6,400.6 1030.8,406.8 1033.3,416.2 1037.0,425.1 1039.5,414.9 1042.7,419.4 1044.5,412.1 1045.8,400.2 1047.7,424.6 1048.5,424.8 1053.0,421.4 1053.9,421.2 1060.2,427.9 1061.5,428.3 1062.7,426.5 1064.0,425.9 1065.8,428.5 1070.2,429.2 1072.1,430.8 1076.5,433.4 1087.8,428.3 1091.5,424.6 1093.4,414.6 1094.6,395.8 1095.9,383.3 1097.8,402.1 1099.9,413.3 1102.2,408.3 1105.3,395.8 1109.0,320.6 1110.9,299.6 1112.8,344.7 1115.1,369.0 1117.8,354.1 1118.7,325.5 1120.3,370.5 1123.4,386.3 1124.7,409.6 1125.3,412.9 1127.8,419.8 1130.3,422.5 1131.6,423.7 1133.5,420.7 1136.6,408.8 1137.5,406.8 1138.5,406.3 1139.1,404.1 1140.6,387.9 1142.2,400.2 1143.5,421.1 1145.4,430.6 1148.0,433.0 1150.4,433.2 1160.0,435.7 1163.8,434.4 1166.9,428.7 1170.1,431.3 1176.9,432.7 1182.0,436.2 1185.7,435.4 1190.1,432.4 1192.6,432.4 1195.1,431.3 1197.6,432.0 1200.7,435.1 1203.9,432.9 1206.0,432.3 1212.0,440.9 1221.4,443.7 1227.7,441.8 1235.2,441.8 1243.9,444.4 1252.7,444.5 1259.0,443.0 1267.7,442.5 1277.8,439.5 1292.8,439.6 1300.3,438.4 1309.1,439.5 1321.6,441.9 1329.6,441.1 1336.3,441.1 1352.5,442.4 1356.3,439.3 1358.6,434.3 1359.8,426.7 1360.4,415.5 1361.9,435.5 1363.8,440.5 1367.6,441.1 1371.3,436.8 1375.1,434.3 1378.2,425.5 1380.7,413.0 1382.6,395.4 1386.8,302.8 1388.0,291.5 1390.3,334.3 1391.4,344.4 1392.5,330.9 1397.5,215.2 1398.9,204.6 1400.3,226.8 1402.0,270.9 1403.5,290.7 1406.6,206.2 1410.2,329.5 1412.0,360.7 1414.6,331.1 1416.0,322.8 1417.5,327.6 1421.4,373.7 1423.9,390.5 1430.2,420.7 1437.7,432.8 1442.7,437.1 1449.0,439.0 1461.5,440.7 1486.5,441.4 1500.8,441.2 1537.8,444.3 1547.8,444.3 1557.9,443.7 1564.6,444.8 1573.0,445.3 1589.8,442.6 1609.6,443.4"/>
<path d="M953.6,434.1 956.5,431.1 958.1,428.7 959.4,416.2 960.2,397.6 961.3,289.6 962.6,379.6 963.8,399.6 965.3,409.4 968.8,394.0 970.0,373.0 970.7,325.7 971.3,195.3 972.0,324.1 972.8,381.0 973.7,396.7 974.6,387.9 975.6,365.3 976.4,218.8 977.3,364.5 978.2,376.8 979.1,322.5 980.4,383.7 981.0,375.3 981.6,310.7 982.3,380.6 982.8,391.4 984.8,414.6 985.6,418.8 986.3,421.4 987.9,424.2 989.4,426.0 990.8,426.6 991.7,389.5 992.5,426.1 992.6,426.6 994.0,427.3 995.5,412.5 996.5,424.2 998.0,421.0 1000.8,426.6 1002.9,414.6 1005.4,431.2 1012.6,428.7 1016.4,424.4 1018.9,419.3 1020.4,423.1 1023.3,419.3 1025.2,406.5 1027.6,399.7 1030.8,405.0 1033.3,412.8 1036.1,417.2 1037.0,419.9 1039.5,411.7 1042.7,414.9 1044.5,407.4 1045.8,396.0 1047.7,420.8 1048.5,422.1 1053.9,420.8 1057.7,426.1 1061.5,430.1 1064.0,427.7 1065.8,430.7 1076.5,434.0 1087.8,427.1 1091.5,422.5 1093.4,411.3 1094.6,390.2 1095.9,378.0 1097.8,397.8 1099.9,409.8 1102.2,404.3 1104.7,392.9 1105.3,389.2 1106.3,370.0 1109.0,309.2 1110.9,286.3 1112.8,332.7 1115.1,363.2 1117.8,348.7 1118.7,321.9 1120.3,369.0 1123.4,389.0 1124.7,411.0 1127.8,420.7 1131.6,425.2 1134.1,420.8 1136.6,412.1 1139.1,408.3 1140.6,394.6 1143.5,423.1 1145.4,431.4 1148.0,433.5 1150.4,433.4 1159.2,435.1 1160.0,435.6 1163.8,433.8 1166.9,427.4 1170.1,431.0 1176.9,432.5 1182.0,436.1 1185.7,435.3 1190.1,432.4 1192.6,432.4 1195.1,431.3 1197.6,432.0 1200.7,435.2 1203.9,433.0 1206.0,432.4 1212.0,440.9 1221.4,443.6 1227.7,441.8 1235.2,441.8 1243.9,444.5 1252.7,444.5 1259.0,443.0 1267.7,442.5 1277.8,439.4 1292.8,439.5 1300.3,438.4 1309.1,439.5 1321.6,441.9 1329.6,441.1 1336.3,441.1 1352.5,442.3 1356.3,439.2 1358.6,434.2 1359.8,426.7 1360.4,415.5 1361.9,435.5 1363.8,440.5 1367.6,441.1 1371.3,436.8 1375.1,434.3 1378.2,425.5 1380.7,413.0 1382.6,395.4 1386.8,304.2 1388.0,293.2 1390.3,337.2 1391.4,347.6 1392.5,334.2 1397.5,220.0 1398.9,209.2 1400.3,231.3 1402.0,275.2 1403.5,294.6 1406.6,209.3 1410.2,330.7 1412.0,361.9 1414.6,331.8 1416.0,323.4 1417.5,328.6 1421.4,374.7 1423.9,391.5 1430.2,421.3 1437.7,433.0 1442.7,437.3 1449.0,439.1 1461.5,440.6 1486.5,441.7 1500.8,441.7 1527.7,443.1 1529.4,442.8 1531.1,443.2 1536.9,443.1 1538.6,443.6 1547.8,443.7 1557.1,443.1 1564.6,444.7 1573.0,445.1 1589.8,442.1 1609.6,443.0"/>
<path d="M953.6,432.6 957.2,428.9 958.1,427.2 959.4,414.6 960.2,395.4 961.3,287.5 962.6,379.0 963.8,399.3 965.3,409.2 968.8,394.6 970.0,374.6 970.7,329.4 971.3,199.3 972.0,329.0 972.8,384.1 973.7,399.3 975.6,368.4 976.4,226.0 977.3,368.6 978.2,381.2 979.1,326.1 980.4,387.3 981.0,378.8 981.6,313.6 982.3,383.1 982.8,392.8 984.8,414.8 986.3,420.7 989.4,424.2 990.8,423.9 991.0,421.7 991.7,383.4 992.6,422.1 994.0,422.3 995.5,405.6 996.5,418.0 998.0,415.3 1000.8,423.5 1002.9,412.6 1005.4,429.1 1012.6,426.3 1015.2,424.4 1016.4,423.4 1018.9,418.4 1020.4,422.1 1023.3,419.0 1025.2,406.8 1027.6,400.6 1030.8,406.8 1033.3,416.2 1037.0,426.2 1039.5,415.7 1042.7,420.4 1044.5,412.8 1045.8,400.6 1047.7,424.5 1048.5,424.5 1053.9,419.6 1054.8,420.2 1060.2,426.4 1061.5,426.3 1062.7,424.2 1064.0,424.3 1064.6,425.7 1065.8,426.7 1069.0,426.3 1070.2,426.8 1072.1,429.2 1076.5,432.7 1087.8,428.3 1091.5,424.6 1093.4,414.6 1094.6,395.8 1095.9,383.3 1097.8,402.1 1099.9,413.3 1102.2,408.3 1105.3,395.1 1109.0,317.1 1110.9,293.9 1112.8,338.4 1115.1,365.0 1117.8,348.2 1118.7,320.5 1120.3,365.9 1123.4,383.5 1124.7,409.0 1125.3,412.7 1127.8,419.9 1131.6,424.4 1134.1,420.1 1136.6,411.4 1139.1,408.1 1140.6,394.6 1143.5,423.3 1145.4,431.6 1148.0,433.7 1150.4,433.6 1160.0,436.1 1163.8,435.5 1166.9,430.5 1170.1,431.7 1176.9,432.7 1182.0,436.2 1185.7,435.3 1190.1,432.4 1192.6,432.4 1195.1,431.3 1197.6,432.0 1200.7,435.2 1203.9,433.1 1206.0,432.5 1212.0,441.1 1221.4,444.0 1227.7,442.0 1235.2,441.9 1243.9,444.4 1252.7,444.4 1259.0,443.0 1267.7,442.5 1277.8,439.5 1292.8,439.6 1300.3,438.4 1309.1,439.4 1321.6,441.9 1329.6,441.1 1336.3,441.1 1348.8,442.3 1352.5,442.2 1356.3,438.8 1358.6,433.6 1359.8,426.0 1360.4,415.1 1361.9,434.7 1363.8,439.5 1367.6,439.9 1371.3,435.6 1375.1,432.8 1378.2,423.8 1380.7,410.9 1382.6,392.5 1386.8,300.7 1388.0,290.2 1390.3,334.2 1391.4,344.9 1392.5,331.9 1397.5,218.8 1398.9,208.7 1400.3,231.4 1402.0,276.0 1403.5,295.8 1406.6,210.6 1410.2,331.0 1412.0,361.7 1414.6,331.2 1416.0,322.6 1417.5,327.0 1421.4,372.2 1423.9,388.8 1430.2,419.3 1437.7,432.3 1442.7,436.7 1449.0,438.7 1461.5,440.7 1500.8,441.0 1522.4,443.1 1538.6,443.7 1547.8,443.4 1557.1,442.2 1558.8,443.1 1564.6,444.2 1573.0,444.9 1589.8,442.3 1609.6,442.7"/>
<path d="M953.6,432.2 957.2,428.2 958.1,426.1 959.4,413.0 960.2,392.9 961.3,284.2 962.6,377.5 963.8,398.2 965.3,408.2 968.8,393.0 970.0,372.7 970.7,326.2 971.3,196.6 972.0,326.5 972.8,382.9 973.7,398.7 975.6,368.4 976.4,226.8 977.3,369.5 978.2,382.8 979.1,328.0 980.2,392.8 981.0,382.3 981.6,317.3 982.3,387.2 982.8,395.8 984.8,419.4 985.6,423.3 987.9,425.9 989.4,426.9 990.8,427.1 991.0,426.2 991.7,389.7 992.6,426.2 994.0,426.0 995.5,409.9 996.5,421.4 998.0,417.9 1000.8,424.4 1002.9,413.0 1005.4,429.2 1007.6,428.2 1012.6,424.4 1013.4,423.3 1016.4,421.5 1018.9,415.2 1020.4,416.0 1023.3,407.6 1025.2,400.1 1027.6,395.9 1029.0,397.9 1033.3,410.7 1036.1,416.2 1037.0,419.7 1039.5,412.6 1042.7,418.2 1044.5,412.1 1045.8,401.1 1047.7,427.0 1048.5,427.1 1053.0,425.1 1054.6,425.7 1061.5,431.5 1064.0,428.3 1065.8,430.9 1076.5,434.0 1081.5,430.6 1087.8,427.2 1091.5,423.0 1093.4,412.2 1094.6,391.9 1095.9,379.6 1097.8,399.2 1099.9,411.0 1102.2,405.6 1105.3,391.3 1109.0,312.5 1110.9,289.9 1112.8,335.8 1115.1,364.6 1117.8,349.9 1118.7,322.6 1120.3,369.1 1123.4,388.3 1124.7,410.7 1127.8,420.5 1131.6,425.1 1134.1,420.8 1136.6,412.1 1139.1,408.3 1140.6,394.6 1143.5,423.3 1145.4,431.6 1148.0,433.7 1150.4,433.6 1160.0,436.1 1163.8,435.5 1166.9,430.5 1170.1,431.7 1176.9,432.7 1182.0,436.2 1185.7,435.3 1190.1,432.3 1192.6,432.3 1195.1,431.2 1197.6,431.8 1200.7,435.0 1203.9,432.8 1206.0,432.2 1212.0,440.8 1221.4,443.7 1227.7,441.8 1235.2,441.8 1243.9,444.3 1252.7,444.1 1259.0,442.6 1267.7,442.0 1277.8,439.0 1292.8,439.1 1300.3,438.1 1309.1,439.1 1321.6,441.6 1330.0,440.8 1336.3,440.7 1348.8,441.5 1352.5,441.2 1356.3,437.9 1358.6,432.4 1359.8,424.7 1360.4,414.6 1361.9,433.6 1363.8,438.4 1367.6,438.7 1371.3,434.4 1375.1,431.3 1378.2,422.0 1380.1,412.0 1382.6,388.5 1386.1,307.8 1386.8,294.3 1388.0,284.1 1390.3,327.2 1391.4,338.1 1392.5,326.0 1397.5,212.7 1398.9,203.0 1400.3,226.1 1402.0,271.5 1403.5,292.3 1406.6,209.4 1410.2,331.9 1412.0,363.3 1414.6,333.0 1416.0,324.3 1417.5,329.9 1421.4,375.6 1423.9,392.0 1430.2,421.1 1437.7,432.8 1442.7,437.0 1449.0,438.9 1461.5,440.7 1486.0,442.4 1500.8,442.2 1538.6,444.0 1547.8,443.8 1557.1,443.0 1564.6,444.6 1573.0,445.2 1589.8,442.4 1609.6,442.8"/>
<path d="M953.6,433.6 956.5,430.3 958.1,427.8 959.4,414.8 960.2,395.4 961.3,286.6 962.6,378.2 963.8,398.5 965.3,408.1 968.8,391.3 970.0,369.8 970.7,319.8 971.3,190.1 972.0,318.6 972.8,378.0 973.7,394.4 974.6,386.9 975.6,363.0 976.4,213.4 977.2,357.4 978.2,373.1 979.1,319.1 980.2,381.5 981.0,370.7 981.6,306.1 982.3,375.8 982.8,387.9 984.8,409.5 986.3,417.2 987.9,420.6 989.4,422.5 990.8,422.4 991.7,380.7 992.6,420.5 994.0,421.1 995.5,404.6 996.5,417.3 998.0,415.0 1000.8,423.5 1002.9,412.6 1005.4,429.2 1012.6,426.2 1015.2,424.3 1016.4,423.3 1018.9,418.2 1020.4,421.6 1023.3,418.0 1025.2,406.5 1027.6,400.6 1030.8,406.8 1033.3,416.2 1037.0,426.2 1039.5,416.2 1042.7,422.5 1044.5,416.2 1045.8,404.6 1047.7,429.7 1050.0,426.8 1053.0,424.0 1053.9,423.8 1054.8,423.9 1060.2,428.2 1061.2,428.3 1062.7,426.2 1064.0,425.4 1064.6,426.6 1065.8,427.4 1070.2,425.9 1072.1,427.8 1076.5,430.7 1081.5,428.6 1087.8,426.6 1091.5,423.4 1093.4,413.4 1094.6,394.4 1095.9,382.4 1097.8,401.9 1099.9,413.3 1102.2,408.3 1105.3,395.8 1109.0,320.6 1110.9,299.6 1112.8,345.7 1115.1,370.5 1117.8,358.2 1118.7,329.6 1120.3,375.8 1123.4,393.3 1124.7,412.1 1127.8,420.8 1131.6,425.1 1134.1,420.4 1136.6,411.0 1139.1,406.5 1140.6,391.3 1142.2,403.9 1143.5,422.0 1145.4,430.9 1148.0,433.2 1152.8,433.7 1159.2,435.2 1160.0,435.8 1163.8,434.3 1166.9,428.4 1170.1,431.3 1176.9,432.6 1182.0,436.1 1185.7,435.3 1190.1,432.4 1192.6,432.3 1195.1,431.2 1197.6,431.9 1200.7,435.1 1203.9,432.8 1206.4,432.3 1208.9,436.6 1212.0,440.7 1221.4,443.2 1227.7,441.5 1235.2,441.5 1243.9,443.7 1252.7,443.7 1259.0,442.5 1267.7,442.1 1277.8,439.1 1292.8,439.1 1300.3,438.0 1309.1,438.9 1321.6,441.3 1330.0,440.5 1336.3,440.6 1348.8,441.6 1352.5,441.5 1356.3,438.3 1358.6,433.0 1359.8,425.4 1360.4,414.9 1361.9,434.2 1363.8,439.0 1367.6,439.4 1371.3,434.9 1375.1,431.7 1378.2,422.3 1380.7,408.2 1382.6,388.0 1386.1,305.7 1386.8,292.1 1388.0,281.7 1390.3,323.5 1391.4,334.1 1392.5,322.1 1397.5,206.5 1398.9,196.4 1400.3,218.9 1402.0,263.8 1403.5,284.5 1406.6,202.1 1410.2,328.4 1412.0,360.2 1414.6,331.1 1416.0,323.0 1417.5,328.2 1421.4,374.6 1423.9,391.5 1430.2,421.2 1437.7,432.9 1442.7,437.2 1449.0,439.0 1461.5,440.6 1538.6,443.9 1547.8,443.7 1557.1,442.7 1564.6,444.4 1573.0,445.0 1589.8,442.3 1609.6,442.7"/>
<path d="M953.6,430.3 956.4,425.6 957.2,425.7 958.1,422.3 959.4,407.8 960.2,384.7 961.3,274.1 963.0,383.1 963.8,395.2 965.3,405.2 968.8,388.3 970.0,367.0 970.7,315.5 971.3,187.1 972.0,316.6 972.8,377.6 973.7,394.8 974.6,387.4 975.6,364.9 976.4,219.1 977.3,365.5 978.2,378.6 979.1,324.6 980.4,386.9 981.0,378.9 981.6,314.3 982.3,384.4 982.8,394.0 984.8,417.5 985.6,421.5 986.3,423.2 987.9,425.1 989.4,426.2 990.8,426.3 991.0,425.0 991.7,387.9 992.6,425.0 994.0,424.9 995.5,408.3 996.5,420.0 998.0,416.6 1000.8,423.7 1002.9,412.4 1005.4,428.6 1007.6,427.5 1013.4,422.0 1016.4,420.9 1018.9,414.4 1020.4,415.0 1025.2,400.0 1027.6,396.2 1029.0,398.5 1030.8,403.2 1033.3,412.0 1036.1,418.8 1037.0,422.1 1039.5,414.2 1042.7,420.4 1044.5,414.2 1045.8,402.9 1047.7,428.2 1053.0,424.0 1053.9,423.8 1054.6,423.9 1060.2,428.2 1061.5,428.4 1062.7,426.0 1064.0,425.2 1064.6,426.3 1065.8,427.0 1070.2,424.4 1072.1,426.4 1074.0,427.2 1076.5,429.3 1079.0,428.8 1085.3,425.8 1087.8,425.3 1091.5,422.1 1093.4,411.8 1094.6,392.1 1095.9,380.6 1097.8,400.7 1099.9,412.6 1102.2,408.0 1105.3,395.8 1109.0,320.6 1110.9,299.6 1112.8,345.7 1115.1,370.5 1117.8,358.2 1118.7,329.6 1120.3,375.8 1123.4,391.6 1124.7,411.3 1127.8,420.3 1131.6,424.2 1133.5,421.0 1136.6,409.4 1137.5,407.5 1138.5,406.8 1139.1,404.7 1140.6,388.8 1142.2,401.2 1143.5,421.3 1145.4,430.7 1148.0,433.1 1150.4,433.3 1160.0,435.9 1163.8,434.9 1166.9,429.5 1170.1,431.5 1176.9,432.7 1182.0,436.2 1185.7,435.3 1190.7,432.0 1192.6,432.3 1195.1,431.1 1197.6,431.8 1200.7,434.9 1203.9,432.7 1206.0,432.0 1212.0,440.5 1221.4,443.3 1227.7,441.7 1235.2,441.7 1243.9,444.0 1252.7,443.7 1259.0,442.4 1267.7,441.8 1277.8,438.8 1292.8,439.1 1300.3,438.1 1309.1,439.1 1321.6,441.3 1330.0,440.3 1336.3,440.2 1352.5,440.9 1356.3,437.7 1358.6,432.4 1359.8,424.8 1360.4,414.7 1361.9,433.8 1363.8,438.7 1367.6,439.3 1371.3,435.0 1375.1,431.8 1378.2,422.4 1380.1,412.2 1382.6,388.1 1386.1,305.3 1386.8,291.6 1388.0,281.0 1390.3,322.1 1391.4,332.5 1392.0,326.8 1394.1,285.1 1396.5,222.2 1397.5,202.9 1398.9,192.4 1400.3,214.4 1402.0,258.7 1403.5,279.2 1406.6,196.6 1410.2,325.6 1412.0,357.5 1414.6,329.4 1416.0,321.6 1417.5,326.2 1421.4,373.1 1423.9,390.3 1430.2,420.7 1437.7,432.7 1442.7,437.0 1449.0,438.8 1461.5,440.4 1486.5,442.1 1500.8,441.9 1546.2,443.8 1557.1,443.0 1564.6,444.5 1573.0,444.8 1581.4,442.9 1589.8,441.7 1609.6,442.5"/>
<path d="M953.6,430.9 956.4,427.0 957.2,426.9 958.1,424.3 959.4,410.7 960.2,389.5 961.3,280.3 962.6,376.0 963.8,397.2 965.3,407.2 968.8,391.0 970.0,370.0 970.7,320.5 971.3,191.0 972.0,320.0 972.8,378.9 973.7,395.3 974.6,387.3 975.6,364.1 976.4,215.7 977.3,362.7 978.2,374.4 979.1,320.1 980.4,380.2 981.0,371.2 981.6,306.3 982.3,375.7 982.8,387.7 984.8,408.5 986.3,416.0 987.9,419.3 989.4,421.2 990.8,420.7 991.0,417.1 991.7,377.1 992.6,418.1 994.0,418.7 995.5,401.6 996.5,414.7 998.0,412.9 1000.8,422.5 1002.9,412.0 1005.4,428.6 1012.6,425.9 1015.6,423.9 1016.4,423.2 1018.9,418.0 1020.4,421.1 1023.3,416.3 1025.2,405.0 1027.6,399.1 1030.8,404.7 1033.3,412.5 1034.5,414.8 1036.1,416.4 1037.0,419.1 1039.5,410.8 1041.4,412.4 1042.7,412.6 1044.5,404.1 1045.8,392.4 1047.7,416.1 1048.5,418.2 1052.1,417.6 1053.9,416.3 1057.7,423.1 1060.2,426.4 1061.5,426.8 1062.7,425.2 1064.0,425.3 1065.8,428.2 1069.0,429.3 1072.1,431.6 1076.5,433.7 1087.8,426.8 1091.5,422.2 1093.4,410.8 1094.6,389.5 1095.9,377.4 1097.8,397.4 1099.9,409.5 1102.2,404.1 1104.7,392.7 1105.3,389.0 1106.3,369.9 1109.0,309.4 1110.9,287.1 1112.8,334.2 1115.1,364.5 1117.8,351.4 1118.7,324.4 1120.3,371.8 1123.4,391.8 1124.7,411.9 1127.8,420.8 1131.6,425.2 1134.1,420.8 1136.6,412.0 1139.1,407.7 1140.6,393.0 1142.2,405.6 1143.5,422.4 1145.4,431.1 1148.0,433.2 1151.6,433.5 1159.2,435.0 1160.0,435.6 1163.8,433.9 1166.9,427.8 1170.1,431.1 1176.9,432.6 1182.0,436.1 1185.7,435.3 1190.7,432.1 1192.6,432.3 1195.1,431.2 1197.6,431.8 1200.7,434.9 1203.9,432.7 1206.0,432.0 1212.0,440.5 1221.4,443.3 1227.7,441.7 1235.2,441.7 1243.9,444.1 1252.7,443.8 1259.0,442.4 1267.7,441.9 1277.8,439.0 1292.8,439.3 1300.3,438.1 1309.1,439.0 1321.6,441.2 1330.0,440.4 1348.8,441.2 1352.5,440.9 1356.3,437.4 1358.6,431.7 1359.8,423.9 1360.4,414.2 1361.9,432.8 1363.8,437.4 1367.6,437.5 1375.1,429.4 1378.2,419.7 1380.7,405.0 1381.3,398.6 1382.6,383.4 1383.9,357.7 1386.1,299.4 1386.8,286.7 1388.0,276.9 1390.3,318.5 1391.4,329.5 1392.0,324.4 1394.1,283.7 1396.5,220.6 1397.5,201.5 1398.9,190.9 1400.3,212.5 1402.0,256.2 1403.5,275.8 1406.6,191.0 1410.2,320.9 1412.0,352.0 1414.6,324.5 1416.0,317.3 1417.4,318.8 1418.8,331.0 1421.4,365.6 1423.9,383.3 1426.7,396.4 1428.3,408.2 1430.2,416.7 1432.7,423.1 1434.9,425.9 1435.8,428.7 1437.7,431.6 1442.7,436.1 1449.0,438.1 1461.5,439.8 1500.8,441.0 1524.3,442.7 1525.2,442.4 1527.7,442.8 1529.4,442.4 1531.1,442.9 1536.9,442.8 1538.6,443.4 1547.8,443.6 1557.1,442.9 1564.6,444.5 1573.0,444.9 1581.4,443.0 1589.8,442.0 1609.6,443.1"/>
<path d="M953.6,430.5 956.4,425.3 957.2,425.3 957.6,423.7 959.4,406.4 960.2,382.1 961.3,270.0 963.0,382.0 963.8,393.3 965.3,403.0 968.8,383.0 970.2,348.5 971.3,173.0 972.6,356.0 973.7,387.5 974.6,383.9 975.6,357.0 976.4,200.3 977.3,354.9 978.2,366.7 979.1,314.4 980.4,375.5 981.0,367.3 981.6,303.5 982.3,374.0 982.8,387.0 984.8,410.3 986.3,418.7 988.6,423.6 989.4,424.6 990.8,425.2 991.7,386.8 992.6,424.8 994.0,425.6 995.5,410.4 996.5,422.4 998.0,419.3 1000.8,425.7 1002.9,414.1 1005.4,430.8 1012.6,428.0 1016.4,423.9 1018.9,418.4 1020.4,421.3 1023.3,415.5 1025.2,404.2 1027.6,398.4 1030.8,404.0 1033.3,411.7 1034.5,414.1 1036.1,415.9 1037.0,418.8 1039.5,411.0 1041.4,413.0 1042.7,413.6 1044.5,405.6 1045.8,394.0 1047.7,418.0 1048.5,419.6 1052.1,418.5 1053.9,417.0 1057.7,422.9 1060.2,425.7 1061.5,425.6 1062.7,423.5 1064.0,423.9 1064.6,425.4 1065.8,426.3 1069.0,425.7 1070.2,426.1 1072.1,428.5 1076.5,431.9 1087.8,427.9 1091.5,424.5 1093.4,414.5 1094.6,395.7 1095.9,383.2 1097.8,402.0 1099.9,413.2 1102.2,408.1 1105.3,395.0 1109.0,317.9 1110.9,295.3 1112.8,340.1 1115.1,366.0 1117.8,349.3 1118.7,321.3 1120.3,366.1 1123.4,381.9 1124.7,408.1 1125.3,412.4 1127.8,419.3 1130.3,422.0 1131.6,423.2 1133.5,420.3 1136.6,407.8 1137.5,405.6 1138.5,405.5 1139.1,402.9 1140.6,386.0 1142.2,397.9 1143.5,420.5 1145.4,430.3 1148.0,432.8 1160.0,435.4 1163.8,433.3 1166.9,426.6 1169.1,429.7 1170.7,431.2 1176.9,432.4 1182.0,435.9 1185.7,435.1 1190.7,431.8 1192.6,432.1 1195.1,430.9 1196.6,431.0 1197.6,431.6 1200.7,434.7 1203.9,432.4 1206.0,431.7 1212.0,440.1 1221.4,442.5 1226.8,441.3 1235.2,441.2 1243.9,443.2 1252.7,443.2 1259.0,442.2 1267.7,441.8 1277.8,438.8 1282.1,438.5 1285.3,439.0 1292.8,438.9 1300.3,437.8 1309.1,438.7 1321.6,441.1 1332.4,440.2 1348.8,441.1 1352.5,440.9 1356.3,437.6 1358.6,432.2 1359.8,424.6 1360.4,414.5 1361.1,424.8 1362.3,434.8 1363.8,438.3 1367.6,438.6 1371.3,434.2 1375.1,430.8 1378.2,421.2 1380.7,406.7 1382.6,385.5 1386.1,301.2 1386.8,287.9 1388.0,277.5 1390.3,318.2 1391.4,328.7 1392.5,317.1 1397.5,198.8 1398.9,188.1 1400.3,209.7 1402.0,253.7 1403.5,273.9 1406.6,190.9 1410.2,322.3 1412.0,354.1 1414.6,326.8 1416.0,319.5 1417.4,322.5 1418.8,335.6 1421.4,370.0 1423.9,387.6 1430.2,419.3 1437.7,432.4 1442.7,436.8 1449.0,438.7 1461.5,440.4 1486.5,441.1 1500.8,441.0 1524.3,443.1 1538.6,443.8 1547.8,443.6 1557.1,442.1 1558.8,443.0 1564.6,443.9 1573.0,444.3 1581.4,442.6 1589.8,441.6 1609.6,442.5"/>
<path d="M953.6,431.5 956.4,427.9 957.2,427.6 958.1,425.4 959.4,412.3 960.2,392.0 961.3,283.5 962.6,377.4 963.8,398.2 965.3,408.3 968.8,393.3 970.0,373.0 970.7,326.5 971.3,196.7 972.0,326.3 972.8,382.6 973.7,398.1 974.6,388.7 975.6,367.2 976.4,223.1 977.3,366.9 978.2,379.2 979.1,324.3 980.4,385.1 981.0,376.4 981.6,311.2 982.3,380.6 982.8,391.0 984.8,412.4 986.3,418.8 989.4,422.9 990.8,422.5 991.0,419.6 991.7,380.6 992.6,420.2 994.0,420.6 995.5,403.7 996.5,416.5 998.0,414.2 1000.8,423.1 1002.9,412.4 1005.4,429.0 1012.6,426.5 1015.0,424.7 1016.4,423.5 1018.9,418.4 1020.4,421.9 1023.3,417.6 1025.2,405.7 1027.6,399.6 1030.8,405.2 1033.3,413.1 1034.5,415.3 1036.1,417.1 1037.0,419.7 1039.5,411.0 1041.4,412.6 1042.7,412.8 1044.5,404.1 1045.8,392.3 1047.7,415.8 1048.5,417.9 1052.1,417.1 1053.9,415.7 1057.7,422.5 1060.2,425.8 1061.5,426.0 1062.7,424.2 1064.0,424.5 1064.6,426.0 1065.8,427.3 1070.2,428.3 1072.1,430.2 1076.5,432.6 1087.8,425.6 1091.5,420.8 1093.2,410.2 1094.6,386.6 1095.9,374.7 1098.4,400.4 1099.9,408.0 1102.2,402.3 1104.7,390.3 1105.3,386.1 1106.3,367.2 1109.0,303.8 1110.9,280.1 1112.8,326.6 1115.1,359.5 1117.8,343.2 1118.7,317.1 1120.3,363.9 1123.4,383.8 1124.7,409.2 1125.3,412.8 1127.8,420.0 1131.6,424.2 1133.6,420.8 1136.6,409.5 1137.5,407.5 1138.5,406.7 1139.1,404.6 1140.6,388.0 1142.2,399.5 1143.5,420.7 1145.4,430.3 1148.0,432.6 1159.2,434.5 1160.0,434.9 1162.5,433.3 1163.8,431.7 1166.9,423.6 1168.2,425.6 1169.1,428.5 1170.7,430.8 1176.9,432.0 1182.0,435.8 1185.7,434.9 1190.7,431.5 1192.6,432.0 1195.1,430.6 1196.6,430.6 1200.7,434.5 1203.9,432.1 1205.7,431.3 1206.4,431.6 1208.9,435.9 1212.0,439.7 1215.1,440.7 1221.4,442.3 1226.8,441.3 1235.2,441.3 1243.9,443.2 1252.7,442.9 1259.0,441.8 1267.7,441.5 1277.8,438.7 1292.8,439.0 1300.3,437.9 1309.1,438.8 1321.6,441.1 1330.0,440.3 1348.8,441.2 1352.5,440.9 1356.3,437.4 1358.6,431.7 1359.8,424.0 1360.4,414.3 1361.9,432.9 1363.8,437.5 1367.6,437.7 1371.3,433.4 1375.1,430.1 1378.2,420.7 1380.1,410.5 1382.3,388.9 1386.1,304.2 1386.8,291.1 1388.0,281.1 1390.3,323.7 1391.4,334.6 1392.0,329.0 1396.5,226.3 1397.5,207.3 1398.9,196.8 1400.3,218.7 1402.0,262.6 1403.5,282.2 1406.6,197.1 1410.2,324.1 1412.0,355.1 1414.6,326.7 1416.0,319.1 1417.4,321.6 1418.8,334.1 1421.4,368.2 1423.9,385.7 1430.2,418.1 1432.7,423.8 1434.9,426.7 1435.8,429.1 1437.7,432.1 1442.7,436.5 1449.0,438.5 1461.5,440.2 1500.8,441.2 1524.3,442.5 1525.2,442.1 1527.7,442.6 1529.4,442.2 1531.1,442.7 1536.9,442.5 1538.6,443.2 1547.8,443.3 1557.1,442.1 1558.8,443.0 1564.6,443.9 1573.0,444.1 1581.4,442.3 1589.8,441.3 1609.6,442.3"/>
<path d="M953.6,431.3 956.4,427.6 957.2,427.3 958.1,424.8 959.4,410.9 960.2,389.2 961.3,278.5 962.6,374.5 963.8,395.4 965.3,404.5 968.8,382.6 970.2,346.4 971.3,166.6 972.6,351.0 973.7,382.5 974.5,383.1 975.6,350.7 976.4,184.9 977.3,345.9 978.2,356.6 979.1,305.8 980.4,366.2 981.0,357.8 981.6,294.9 982.8,381.8 984.8,405.4 986.3,415.9 987.9,420.8 989.4,423.4 990.8,423.8 991.0,421.7 991.7,383.8 992.6,422.6 994.0,422.9 995.5,406.0 996.5,417.9 998.0,414.6 1000.8,422.3 1002.9,411.2 1003.9,420.1 1005.4,427.1 1007.6,425.9 1009.5,423.6 1013.4,420.4 1015.0,420.9 1016.4,420.6 1018.9,414.7 1020.4,416.2 1023.3,409.5 1025.2,401.3 1027.6,396.4 1029.0,397.9 1033.3,407.3 1034.5,408.5 1036.1,407.2 1037.0,410.6 1037.7,410.3 1039.5,405.2 1041.4,405.8 1042.7,405.0 1044.5,396.7 1045.8,386.3 1047.7,411.6 1048.5,415.4 1050.8,417.4 1052.1,417.8 1053.9,417.5 1057.7,424.0 1060.2,426.4 1061.5,426.1 1062.7,423.3 1064.0,423.0 1064.6,424.3 1065.8,424.2 1070.2,418.0 1072.1,421.1 1074.0,422.2 1075.9,425.4 1079.0,426.5 1081.5,425.7 1087.8,425.1 1091.5,421.8 1093.4,410.7 1094.6,389.4 1095.9,377.2 1097.8,396.9 1099.9,408.6 1102.2,402.3 1104.7,389.4 1106.3,365.7 1109.0,300.0 1110.9,275.4 1112.8,322.4 1115.1,357.8 1117.8,342.4 1118.7,316.9 1120.3,364.4 1123.4,384.5 1124.7,409.3 1125.3,412.8 1127.8,419.8 1131.6,423.3 1133.5,420.2 1136.6,406.8 1137.5,404.2 1138.5,404.3 1140.6,383.1 1142.2,394.6 1143.5,419.7 1145.4,430.1 1148.0,432.8 1160.0,435.7 1163.8,432.9 1166.9,425.0 1170.7,430.9 1176.9,432.1 1182.0,435.8 1185.7,435.1 1190.7,431.8 1192.6,432.1 1195.1,430.9 1196.6,431.0 1197.6,431.6 1200.7,434.7 1203.9,432.4 1206.0,431.7 1212.0,440.2 1221.4,443.2 1227.7,441.5 1235.2,441.4 1243.9,443.5 1252.7,443.7 1259.0,442.4 1267.7,441.8 1277.8,438.8 1292.8,439.1 1300.3,437.9 1309.1,438.8 1321.6,441.3 1336.3,440.0 1352.5,440.5 1356.3,437.2 1358.6,431.5 1359.8,423.7 1360.4,414.1 1361.9,432.5 1363.8,437.0 1367.6,436.7 1375.1,428.2 1378.2,418.4 1380.1,407.8 1381.3,397.0 1382.6,381.4 1383.9,355.6 1386.1,296.1 1386.8,283.5 1388.0,273.6 1390.3,313.6 1391.4,323.9 1392.0,319.1 1394.1,277.9 1396.0,221.5 1397.8,185.5 1398.9,176.7 1400.3,196.2 1402.0,238.0 1403.5,257.0 1406.6,173.2 1410.2,313.5 1412.0,346.0 1414.6,321.6 1416.0,315.5 1417.4,316.8 1418.8,329.5 1421.4,365.0 1423.9,382.8 1426.7,395.5 1428.3,407.4 1430.2,415.5 1432.7,422.5 1434.9,424.8 1435.8,428.2 1437.7,430.8 1442.7,435.1 1449.0,437.3 1461.5,439.0 1473.2,439.0 1486.5,440.2 1500.8,439.5 1523.2,442.2 1525.2,441.9 1527.7,442.4 1529.4,441.8 1531.1,442.4 1536.9,441.8 1538.6,442.7 1546.2,443.0 1552.9,442.5 1557.1,441.6 1558.8,442.7 1573.0,443.9 1589.8,441.8 1609.6,442.3"/>
<path d="M953.6,429.3 956.4,424.2 957.2,424.6 958.1,420.8 959.4,405.8 960.2,381.6 961.3,270.1 963.0,382.2 963.8,393.8 965.3,403.8 968.8,385.0 970.2,350.9 971.3,178.1 972.0,306.4 972.8,371.5 973.7,389.9 974.6,385.0 975.6,359.2 976.4,205.1 977.3,357.2 978.2,368.9 979.1,315.9 980.4,376.4 981.0,367.8 981.6,303.5 982.3,373.4 982.8,386.4 984.8,408.0 986.3,416.2 987.9,419.8 989.4,421.8 990.8,421.3 991.0,418.0 991.7,378.4 992.6,418.8 994.0,419.2 995.5,401.8 996.5,414.6 998.0,412.3 1000.8,421.7 1001.7,418.7 1002.9,411.1 1003.9,420.1 1005.4,427.2 1007.6,426.0 1013.4,419.3 1015.0,419.6 1016.4,419.0 1018.9,411.6 1020.4,410.0 1023.5,395.9 1024.8,396.1 1026.1,392.1 1027.6,391.6 1029.0,392.8 1030.2,397.3 1033.3,404.7 1034.5,406.6 1035.3,406.3 1036.1,406.9 1037.0,411.4 1037.7,411.5 1039.5,407.2 1041.4,409.3 1042.7,409.7 1044.5,402.3 1045.8,391.6 1047.7,416.5 1048.5,418.8 1051.6,418.8 1053.9,417.6 1057.7,423.5 1060.2,426.1 1061.5,426.0 1062.7,423.8 1064.0,423.8 1064.6,425.3 1065.8,425.9 1070.2,423.5 1072.1,425.8 1074.0,426.6 1076.5,428.6 1079.0,427.9 1085.3,423.5 1087.8,422.4 1091.5,417.9 1093.4,405.5 1094.6,381.6 1095.9,370.7 1098.4,398.7 1099.9,406.3 1102.2,400.7 1104.7,388.3 1106.3,364.9 1109.0,299.2 1110.9,274.1 1112.8,319.7 1114.1,344.5 1115.1,354.6 1116.3,348.1 1117.8,334.6 1118.7,309.3 1120.3,355.4 1122.0,368.8 1123.4,375.2 1124.7,406.4 1125.3,411.9 1127.8,419.1 1131.6,423.4 1133.5,420.7 1136.6,409.2 1137.5,407.4 1138.5,406.9 1139.1,405.0 1140.6,389.5 1142.2,402.4 1143.5,421.7 1145.4,430.9 1148.0,433.2 1150.4,433.2 1160.0,435.2 1162.5,433.6 1163.8,432.1 1166.9,424.0 1168.2,425.8 1169.1,428.5 1170.7,430.8 1176.9,431.9 1182.0,435.6 1185.7,434.8 1190.7,431.4 1192.6,431.9 1195.1,430.7 1196.6,430.7 1200.7,434.6 1203.9,432.3 1205.7,431.6 1206.4,431.8 1208.9,436.2 1212.0,440.2 1215.1,441.2 1221.4,442.9 1227.7,441.4 1235.2,441.4 1243.9,443.5 1252.7,443.2 1259.0,442.1 1267.7,441.6 1277.8,438.7 1282.1,438.5 1285.3,439.0 1292.8,439.0 1300.3,438.0 1309.1,439.0 1321.6,441.3 1330.0,440.3 1348.8,440.5 1352.5,440.1 1356.3,436.7 1358.6,431.0 1359.8,423.2 1360.4,413.9 1361.9,432.3 1363.8,437.0 1367.6,437.3 1375.1,429.7 1378.2,420.1 1380.7,405.4 1381.3,399.0 1382.6,383.9 1383.9,358.0 1386.8,286.2 1388.0,276.1 1390.3,316.7 1391.4,327.3 1392.0,322.3 1394.1,281.3 1396.5,216.2 1397.5,196.5 1398.9,185.4 1400.3,206.4 1402.0,249.4 1403.5,268.8 1406.6,184.0 1410.2,317.5 1412.0,348.8 1414.6,322.4 1416.0,315.6 1417.4,316.4 1418.8,328.4 1421.4,363.4 1423.9,381.3 1426.7,394.2 1428.3,406.9 1430.2,415.2 1432.7,422.5 1434.9,424.9 1435.8,428.2 1437.7,430.9 1442.7,435.3 1449.0,437.2 1461.5,439.1 1486.5,439.9 1500.8,439.3 1524.3,441.6 1525.2,440.9 1527.7,441.7 1529.4,441.0 1531.1,441.9 1535.3,441.9 1536.9,441.4 1538.6,442.5 1540.0,442.5 1547.8,442.4 1552.9,441.8 1555.4,440.6 1557.1,440.6 1558.8,442.2 1564.6,443.1 1573.0,443.5 1581.4,441.8 1589.8,440.7 1609.6,441.6"/>
<path d="M953.6,430.4 956.4,426.1 957.2,426.2 958.1,423.2 959.4,409.2 960.2,387.0 961.3,277.0 962.6,374.5 963.8,396.0 965.3,405.9 968.8,388.3 970.2,354.4 971.3,184.3 972.0,312.6 972.8,374.7 973.7,392.0 974.6,385.8 975.6,360.5 976.4,207.4 977.3,357.9 978.2,369.1 979.1,315.5 980.4,375.0 981.0,365.8 981.6,301.2 982.3,370.7 982.8,384.2 984.8,404.5 986.3,413.2 987.9,417.3 989.4,419.6 990.8,418.8 991.7,373.6 992.6,415.8 994.0,416.6 995.5,399.0 996.5,412.5 998.0,411.0 1000.8,421.5 1001.7,418.8 1002.9,411.3 1003.9,420.2 1005.4,427.8 1007.6,427.1 1013.4,423.3 1016.4,422.1 1018.9,416.4 1020.4,418.5 1023.3,412.5 1025.2,403.0 1027.6,397.9 1030.8,403.8 1033.3,411.6 1034.5,413.8 1036.1,415.3 1037.0,418.2 1039.5,410.2 1041.4,411.7 1042.7,411.6 1044.5,402.7 1045.8,390.6 1047.7,413.6 1048.5,416.0 1050.2,415.8 1052.1,414.8 1053.9,412.6 1057.7,419.8 1060.2,423.0 1061.5,422.1 1062.7,419.6 1064.0,421.1 1064.6,423.0 1065.8,423.5 1069.0,421.9 1070.2,422.2 1072.1,425.8 1076.5,430.3 1079.0,429.9 1087.8,425.9 1091.5,421.7 1093.4,410.3 1094.6,388.7 1095.9,376.6 1097.8,396.7 1099.9,408.8 1102.2,402.9 1105.3,385.9 1109.0,300.5 1110.9,274.1 1114.1,343.0 1115.1,352.7 1116.3,345.5 1117.8,330.2 1118.7,305.1 1120.3,350.5 1122.0,364.3 1123.4,370.0 1125.3,411.3 1127.8,418.6 1131.6,422.9 1133.5,420.3 1136.6,408.4 1137.5,406.6 1138.5,406.3 1139.1,404.1 1140.6,388.3 1142.2,400.9 1143.5,421.3 1145.4,430.7 1148.0,433.0 1160.0,434.8 1162.5,432.8 1163.8,430.9 1166.9,421.5 1168.2,423.8 1169.1,427.4 1170.7,430.4 1176.9,431.6 1182.0,435.5 1185.7,434.7 1190.7,431.2 1192.6,431.8 1195.1,430.5 1196.6,430.5 1200.7,434.4 1201.4,434.3 1203.9,432.0 1205.7,431.3 1206.4,431.6 1208.9,435.9 1212.0,439.6 1220.2,441.7 1226.4,440.8 1235.2,440.7 1243.9,442.5 1252.7,442.5 1259.0,441.7 1267.7,441.3 1277.8,438.3 1282.1,437.9 1290.3,438.5 1300.3,437.5 1309.1,438.5 1321.6,441.0 1330.0,440.0 1348.8,439.9 1352.5,439.4 1356.3,435.9 1356.9,434.7 1358.8,428.7 1359.8,422.3 1360.4,413.6 1362.3,433.3 1363.8,436.3 1367.6,436.7 1375.1,429.1 1378.2,419.4 1380.7,404.3 1382.6,382.1 1386.1,295.3 1386.8,282.5 1388.0,272.3 1390.3,311.6 1391.4,322.0 1392.0,317.4 1394.1,276.8 1396.5,209.0 1397.5,189.0 1398.9,177.5 1400.3,197.9 1402.0,240.6 1403.5,260.1 1406.6,176.5 1410.2,314.6 1412.0,346.6 1414.6,321.6 1416.0,315.3 1417.4,316.4 1418.8,329.1 1421.4,364.9 1423.9,383.2 1426.7,396.9 1428.3,408.5 1430.2,417.1 1432.7,423.3 1434.9,426.1 1435.8,428.8 1437.7,431.6 1442.7,435.9 1449.0,437.7 1461.5,439.2 1486.5,440.4 1500.8,440.3 1524.3,441.9 1525.2,441.4 1527.7,442.1 1529.4,441.4 1531.1,442.2 1536.9,441.8 1538.6,442.8 1547.8,442.7 1552.9,442.2 1555.4,441.2 1557.1,441.1 1558.8,442.5 1564.6,443.3 1573.0,443.6 1581.4,441.8 1589.8,440.8 1609.6,441.8"/>
<path d="M953.6,428.7 956.4,422.4 957.2,423.0 958.1,418.1 959.4,401.6 960.2,374.7 961.3,260.9 963.0,380.1 963.8,390.6 965.3,400.4 968.8,378.8 970.2,343.9 971.3,164.4 972.6,351.5 973.7,384.0 974.5,384.1 975.6,353.7 976.4,193.1 977.3,351.0 978.2,362.6 979.1,311.0 980.4,371.8 981.0,363.3 981.6,299.8 982.8,384.4 984.8,406.8 986.3,415.9 987.9,420.0 989.4,422.2 990.8,422.1 991.0,419.2 991.7,380.1 992.6,420.1 994.0,420.5 995.5,403.4 996.5,416.0 998.0,413.4 1000.8,422.1 1002.9,411.3 1003.9,420.1 1005.4,427.2 1007.6,426.0 1013.4,418.6 1015.0,419.0 1016.4,418.5 1018.9,410.8 1020.4,408.6 1023.5,393.6 1024.8,394.8 1026.1,391.0 1027.6,390.9 1029.0,392.0 1030.2,396.8 1033.3,404.4 1034.5,406.4 1035.3,406.2 1036.1,406.8 1037.0,411.4 1037.7,411.6 1039.5,407.3 1041.4,409.4 1042.7,409.8 1044.5,402.2 1045.8,391.1 1047.7,415.4 1048.5,417.7 1050.2,417.7 1052.1,416.7 1053.9,414.6 1055.8,416.9 1057.7,420.4 1060.2,422.7 1061.5,421.1 1062.7,417.7 1064.0,419.2 1064.6,421.1 1065.8,420.3 1069.0,414.4 1070.2,413.4 1072.1,417.8 1074.0,419.2 1076.5,423.4 1079.0,424.0 1085.3,420.7 1087.8,420.5 1091.5,417.1 1093.4,405.2 1094.6,381.8 1095.9,371.5 1098.4,399.7 1099.9,407.7 1102.2,402.5 1105.3,386.9 1109.0,304.6 1110.9,279.6 1112.8,324.0 1114.1,346.3 1115.1,355.8 1116.3,348.3 1117.8,332.9 1118.7,306.7 1120.3,350.4 1122.0,362.3 1123.4,365.8 1125.3,410.5 1127.8,417.5 1130.3,420.1 1131.6,420.9 1133.5,418.6 1136.6,403.3 1137.5,400.4 1138.5,401.8 1140.6,377.9 1142.2,388.6 1143.5,418.0 1144.7,426.9 1145.4,429.3 1148.0,432.2 1160.0,434.9 1162.5,432.7 1163.8,430.8 1166.9,421.9 1168.2,424.1 1169.1,427.6 1170.7,430.5 1176.9,431.6 1182.0,435.4 1185.7,434.6 1190.7,431.0 1192.6,431.7 1195.1,430.3 1196.6,430.2 1200.7,434.2 1201.4,434.2 1203.9,431.8 1205.7,431.1 1206.4,431.4 1208.9,435.8 1212.0,439.6 1221.4,442.3 1226.8,441.2 1235.2,441.0 1243.9,442.8 1252.7,442.5 1259.0,441.6 1267.7,441.5 1277.8,438.7 1282.1,438.4 1285.3,438.9 1292.8,438.9 1300.3,437.7 1309.1,438.6 1321.6,441.0 1330.0,440.1 1348.8,440.7 1352.5,440.2 1356.3,436.6 1356.9,435.3 1358.8,429.3 1359.8,422.9 1360.4,413.8 1362.3,433.4 1363.8,436.3 1367.6,436.3 1375.1,427.9 1378.2,417.8 1380.7,402.2 1382.6,379.1 1386.1,291.7 1386.8,279.5 1388.0,270.0 1390.3,310.2 1391.4,321.3 1392.0,317.1 1394.1,277.5 1396.5,211.3 1397.5,191.9 1398.9,181.2 1400.3,202.3 1402.0,245.7 1403.5,265.4 1406.6,181.2 1410.2,316.1 1412.0,347.4 1414.6,321.3 1416.0,314.7 1417.4,314.9 1418.8,326.7 1421.4,361.9 1423.9,379.8 1426.7,392.7 1428.3,406.0 1430.2,414.4 1432.7,422.1 1434.9,424.5 1435.8,428.0 1437.7,430.7 1442.7,435.1 1449.0,437.1 1461.5,438.9 1500.8,438.8 1524.3,441.6 1525.2,440.9 1527.7,441.7 1529.4,440.8 1531.1,441.7 1535.3,441.5 1536.9,440.8 1538.6,442.0 1546.2,441.9 1552.9,440.7 1555.4,439.1 1557.1,439.1 1558.8,441.4 1564.6,442.5 1573.0,443.2 1589.8,440.6 1604.9,440.7 1609.6,441.2"/>
<path d="M953.6,429.3 956.4,424.6 957.2,425.0 958.1,421.4 959.4,406.8 960.2,383.3 961.3,272.4 963.0,382.7 963.8,394.5 965.3,404.3 968.8,384.9 970.2,350.2 971.3,175.3 972.6,356.4 973.7,387.1 974.6,383.4 975.6,355.0 976.4,194.0 977.2,343.3 978.0,358.5 979.1,307.5 980.2,366.9 981.0,355.8 981.6,291.7 982.8,377.6 986.3,407.7 987.9,413.4 989.4,416.5 990.8,415.7 991.7,368.0 992.6,412.4 994.0,413.9 994.2,412.8 995.5,396.4 996.5,410.8 997.8,409.7 998.0,410.0 1000.8,421.4 1001.7,418.7 1002.9,411.3 1003.9,420.2 1005.4,428.0 1007.6,427.5 1016.4,422.0 1018.9,415.8 1020.4,416.9 1023.3,407.6 1025.2,399.3 1026.1,396.8 1027.6,394.5 1029.0,395.5 1030.2,399.0 1033.3,405.3 1034.5,406.5 1035.3,405.5 1036.1,405.3 1037.0,409.3 1037.7,409.4 1039.5,404.8 1041.4,405.5 1042.7,404.5 1044.5,395.7 1045.8,384.8 1047.7,409.0 1048.5,412.9 1050.2,414.4 1052.1,414.6 1053.9,413.5 1057.7,421.7 1060.2,425.1 1061.5,425.1 1062.7,423.0 1064.0,423.5 1064.6,425.1 1065.8,425.8 1070.2,423.9 1072.1,426.0 1074.0,426.6 1075.9,428.3 1076.5,428.4 1079.0,427.5 1085.3,422.3 1087.8,421.1 1091.5,416.5 1093.4,403.8 1094.6,379.3 1095.9,368.9 1098.4,398.1 1099.9,405.9 1102.2,400.8 1105.3,384.8 1109.0,303.3 1110.9,279.8 1112.8,326.2 1115.1,358.7 1117.8,340.0 1118.7,313.6 1120.3,358.6 1122.0,370.1 1123.4,375.1 1124.7,405.9 1125.3,411.6 1127.8,418.5 1130.3,421.0 1131.6,421.8 1133.5,419.2 1136.6,404.2 1137.5,401.3 1138.5,402.2 1140.6,378.0 1142.2,388.0 1143.5,417.7 1144.7,426.8 1145.4,429.1 1148.0,431.9 1160.0,434.6 1162.5,432.3 1163.8,430.2 1166.9,420.7 1168.2,423.2 1169.1,427.1 1170.7,430.3 1173.8,431.2 1176.9,431.5 1182.0,435.3 1185.7,434.5 1190.7,430.7 1192.6,431.6 1195.1,430.0 1196.6,429.9 1200.7,434.0 1201.4,434.0 1203.9,431.6 1205.7,430.7 1210.1,437.2 1212.0,439.2 1220.2,441.6 1226.4,440.8 1235.2,440.6 1243.9,442.1 1265.2,441.4 1267.7,441.2 1277.8,438.3 1282.1,437.9 1285.3,438.4 1292.8,438.4 1300.3,437.4 1309.1,438.4 1321.6,440.9 1330.0,440.0 1348.8,439.8 1352.5,439.3 1356.3,435.9 1356.9,434.7 1358.8,428.7 1359.8,422.4 1360.4,413.6 1362.3,433.3 1363.8,436.3 1367.6,436.7 1375.1,428.8 1378.2,418.7 1380.7,403.1 1382.6,379.8 1386.1,290.4 1386.8,277.8 1388.0,267.6 1390.3,305.6 1391.4,315.9 1392.0,312.0 1394.1,272.2 1396.5,202.1 1397.5,182.1 1398.9,170.7 1400.3,191.1 1402.0,234.1 1403.5,254.2 1406.6,172.1 1410.2,313.1 1412.0,345.4 1414.6,320.9 1415.5,318.4 1416.0,314.8 1417.4,315.7 1418.8,328.1 1421.4,363.8 1423.9,381.9 1426.7,395.0 1428.3,407.3 1430.2,415.6 1432.7,422.6 1434.9,424.9 1435.8,428.2 1437.7,430.8 1442.7,434.9 1449.0,436.7 1461.5,438.5 1481.6,439.1 1500.8,438.4 1524.3,441.4 1525.2,440.7 1527.7,441.5 1529.4,440.6 1531.1,441.6 1535.3,441.4 1536.9,440.7 1538.6,441.9 1546.2,441.7 1552.9,440.4 1555.4,438.6 1557.1,438.6 1558.8,441.1 1564.6,442.3 1573.0,443.0 1589.8,440.4 1604.9,440.6 1609.6,441.1"/>
<path d="M953.6,430.0 956.4,423.9 957.2,424.0 958.1,419.3 959.4,402.5 960.2,375.1 961.3,259.9 963.0,379.3 963.8,389.1 965.3,398.3 968.8,373.2 970.2,337.1 971.3,150.3 972.6,343.7 973.7,377.6 974.5,381.4 975.6,347.6 976.4,179.5 977.3,343.8 978.2,355.1 979.1,304.9 980.4,365.4 981.0,356.8 981.6,293.7 982.8,380.3 984.8,401.5 986.3,411.6 987.9,416.1 989.4,418.3 990.8,416.9 991.7,369.2 992.6,412.3 994.0,412.5 994.2,411.3 995.5,392.9 996.5,406.9 997.8,405.2 998.0,405.7 1000.0,416.3 1000.8,418.4 1001.7,417.1 1002.9,409.0 1003.9,419.4 1005.4,425.4 1007.6,424.8 1009.5,422.7 1013.4,419.9 1015.0,420.5 1016.4,420.0 1018.9,413.1 1020.1,412.7 1020.4,412.2 1023.5,397.1 1024.8,395.9 1026.1,391.0 1027.2,390.2 1029.0,389.8 1030.2,394.3 1033.3,398.6 1034.5,399.3 1035.3,397.1 1036.1,396.4 1037.7,403.7 1039.0,402.8 1039.5,401.3 1041.4,402.7 1042.7,402.2 1044.5,394.8 1045.8,384.9 1047.7,409.9 1048.5,413.8 1050.2,414.9 1051.6,414.6 1053.9,412.0 1055.8,414.4 1057.7,418.1 1060.2,420.1 1061.5,417.5 1062.7,413.3 1064.6,418.3 1067.1,414.5 1069.0,410.4 1070.2,409.9 1072.1,416.4 1074.0,419.3 1076.5,424.7 1079.0,426.0 1087.8,422.3 1091.5,417.2 1092.8,408.1 1093.4,403.8 1095.5,368.0 1095.9,367.2 1098.4,396.4 1099.7,403.5 1099.9,403.8 1102.2,398.0 1104.7,385.4 1106.3,362.3 1109.0,296.5 1110.9,273.0 1112.8,320.5 1114.1,345.5 1115.1,356.0 1116.3,349.7 1117.8,336.4 1118.7,310.3 1120.3,354.9 1122.0,366.2 1123.4,369.8 1125.3,410.8 1127.8,417.6 1131.6,420.8 1133.5,418.5 1136.6,403.4 1137.5,400.8 1138.5,402.3 1140.6,380.1 1142.2,392.3 1143.5,419.2 1145.4,430.0 1148.0,432.7 1160.0,434.6 1162.5,432.3 1163.8,430.0 1166.9,420.2 1168.2,422.8 1169.1,426.9 1170.7,430.3 1176.9,431.6 1182.0,435.5 1185.7,434.8 1190.7,431.1 1192.6,431.8 1195.1,430.3 1196.6,430.3 1200.7,434.2 1201.4,434.1 1203.9,431.8 1205.7,431.0 1212.0,439.6 1215.1,440.7 1221.4,442.1 1226.4,441.0 1235.2,440.8 1243.9,442.7 1252.7,442.6 1259.0,441.5 1267.7,441.1 1277.8,438.3 1282.1,438.0 1285.3,438.5 1290.3,438.6 1300.3,437.3 1309.1,438.3 1315.3,439.7 1321.6,440.6 1330.0,439.4 1348.8,439.4 1352.5,438.7 1356.3,434.9 1358.6,428.4 1360.4,412.6 1361.9,429.3 1362.3,431.4 1363.8,433.6 1367.6,433.3 1372.6,428.2 1375.1,424.8 1378.2,414.5 1380.1,402.9 1381.3,390.7 1383.9,345.2 1386.1,278.1 1386.8,266.6 1388.0,256.9 1390.3,292.3 1391.4,302.5 1392.0,299.9 1394.1,261.5 1396.5,185.1 1397.8,160.1 1398.9,152.1 1400.3,171.3 1402.0,213.4 1403.5,233.8 1404.8,208.2 1406.6,153.5 1410.2,304.4 1412.0,337.4 1413.0,331.6 1414.5,315.9 1415.5,314.1 1416.0,310.3 1417.4,308.9 1419.5,328.6 1421.4,357.0 1423.9,375.4 1425.2,382.9 1426.7,387.9 1428.3,403.4 1432.7,421.0 1434.9,423.1 1435.8,427.4 1440.8,433.1 1442.7,434.4 1449.0,436.6 1461.5,437.9 1485.2,439.2 1500.8,438.5 1518.4,441.1 1524.3,441.5 1525.2,440.8 1527.7,441.6 1529.4,440.7 1531.1,441.6 1535.3,441.5 1536.9,441.0 1538.6,442.2 1546.2,442.5 1552.9,441.6 1555.4,440.2 1557.1,440.0 1558.8,441.8 1573.0,443.3 1589.8,440.8 1604.9,441.0 1609.6,441.6"/>
<path d="M953.6,429.2 956.4,423.4 957.2,423.8 958.1,419.2 959.4,403.1 960.2,376.7 961.3,262.9 963.0,380.3 963.8,390.7 965.3,400.1 968.8,376.2 970.2,339.7 971.3,153.9 972.6,344.3 973.7,376.9 974.5,380.7 975.6,344.5 976.4,169.7 977.3,336.7 978.2,345.4 979.1,295.1 980.4,352.0 981.0,341.9 981.6,278.9 982.8,369.4 985.6,392.0 986.3,401.8 987.9,409.3 989.4,413.3 990.8,412.4 991.7,361.7 992.6,408.4 994.0,410.3 994.2,409.4 995.5,392.1 996.5,407.1 997.8,406.5 998.0,407.0 1000.0,417.5 1000.8,419.7 1001.7,417.9 1002.9,410.1 1003.9,419.8 1005.4,426.6 1007.6,425.9 1013.4,420.7 1015.0,420.9 1016.4,420.3 1018.9,413.7 1020.4,413.6 1023.5,402.2 1024.8,399.8 1026.1,395.4 1027.6,393.9 1029.0,395.2 1033.3,406.0 1034.5,407.6 1035.3,406.9 1036.1,407.0 1037.0,410.8 1037.7,410.6 1039.5,405.7 1041.4,406.2 1042.7,404.9 1044.5,395.3 1045.8,383.5 1047.7,406.0 1048.5,410.0 1050.2,410.8 1052.1,410.1 1053.9,407.1 1055.8,410.8 1057.7,416.0 1060.2,419.2 1061.5,417.1 1062.7,413.6 1064.6,419.1 1065.8,418.3 1069.0,413.4 1070.2,413.0 1072.1,418.4 1074.0,420.6 1075.9,424.5 1079.0,425.8 1085.3,423.2 1087.8,422.8 1091.5,419.2 1093.4,407.7 1094.6,385.4 1095.9,374.3 1097.8,395.7 1099.9,408.5 1102.2,403.1 1105.3,387.0 1109.0,303.4 1110.9,277.5 1112.8,321.4 1114.1,344.6 1115.1,354.0 1116.3,346.3 1117.8,330.1 1118.7,304.2 1120.3,348.0 1122.0,360.5 1123.4,364.1 1125.3,410.4 1127.8,417.4 1131.6,420.9 1133.5,418.6 1136.6,403.4 1137.5,400.6 1138.5,401.9 1140.6,377.9 1142.2,388.5 1143.5,417.9 1144.7,426.9 1145.4,429.2 1148.0,432.1 1160.0,434.7 1162.5,432.5 1163.8,430.5 1166.9,421.3 1168.2,423.7 1169.1,427.4 1170.7,430.4 1176.9,431.6 1182.0,435.4 1185.7,434.6 1190.7,430.9 1192.6,431.7 1195.1,430.2 1196.6,430.1 1200.7,434.1 1201.4,434.0 1203.9,431.6 1205.7,430.8 1210.1,437.1 1212.0,439.1 1215.1,440.1 1221.4,441.4 1222.7,440.9 1226.4,440.7 1235.2,440.7 1243.9,442.4 1267.7,441.0 1277.8,438.0 1282.1,437.4 1285.3,438.1 1290.3,438.2 1300.3,437.3 1305.3,438.1 1309.1,438.1 1321.6,440.5 1330.0,439.4 1348.8,438.7 1352.5,437.8 1353.8,436.9 1356.9,432.8 1358.8,426.1 1360.4,412.3 1361.9,428.7 1362.3,430.9 1363.8,433.0 1367.6,432.8 1372.6,427.5 1375.1,423.7 1378.2,412.9 1380.1,400.9 1381.3,388.1 1383.9,341.5 1386.1,273.1 1387.2,259.1 1388.0,253.6 1390.3,290.3 1391.4,301.5 1392.0,299.4 1394.1,262.3 1396.0,201.4 1397.8,164.0 1398.9,156.3 1399.8,167.0 1402.0,217.7 1403.5,237.2 1404.8,210.4 1406.6,153.9 1410.2,302.4 1412.0,334.4 1413.0,328.9 1414.5,312.9 1415.5,311.7 1416.0,307.7 1417.4,304.8 1419.5,323.3 1421.4,353.4 1425.2,380.5 1426.7,385.5 1428.3,402.2 1432.7,420.6 1434.9,422.4 1435.8,427.1 1440.8,432.5 1442.7,433.7 1449.0,435.8 1461.5,437.6 1486.5,438.3 1500.8,437.9 1510.9,438.8 1524.3,440.8 1525.2,439.9 1527.7,441.0 1529.4,440.0 1531.1,441.2 1535.3,441.2 1536.9,440.5 1538.6,441.9 1540.0,441.9 1547.8,441.8 1552.9,441.0 1555.4,439.4 1557.1,439.3 1558.8,441.5 1564.6,442.4 1573.0,442.8 1581.4,441.1 1589.8,440.3 1609.6,441.4"/>
<path d="M953.6,428.2 956.4,421.0 957.2,421.6 958.1,415.6 959.5,395.1 960.2,366.9 961.3,249.6 963.0,377.2 963.8,386.1 965.3,395.7 968.8,370.5 970.2,335.0 971.3,147.8 972.6,343.1 973.7,377.5 974.5,381.5 975.6,347.9 976.4,179.7 977.3,343.5 978.2,353.9 979.1,302.9 980.4,361.2 981.0,351.3 981.6,287.4 982.8,374.4 984.8,391.2 985.6,394.2 986.3,402.6 987.9,408.6 989.4,411.8 990.8,409.9 991.7,356.2 992.6,404.5 994.0,406.6 994.2,405.9 995.5,388.0 996.5,404.1 997.8,404.4 1000.0,417.1 1000.8,419.5 1001.7,417.8 1002.9,410.2 1003.9,419.9 1005.4,426.8 1007.6,425.9 1013.4,417.5 1015.0,417.8 1016.4,417.2 1018.9,408.5 1020.1,405.7 1023.5,387.6 1024.8,391.7 1026.1,388.8 1029.0,391.4 1030.2,396.6 1033.3,404.3 1034.5,406.0 1036.1,405.0 1037.0,408.9 1037.7,408.8 1039.5,403.6 1041.4,402.6 1042.7,399.6 1043.9,392.8 1045.8,376.1 1048.5,404.0 1050.2,406.7 1052.1,407.8 1053.9,406.5 1057.7,418.3 1060.2,422.3 1061.5,421.3 1062.7,418.3 1064.0,419.7 1064.6,421.5 1065.8,420.8 1070.2,411.8 1072.1,415.9 1074.0,417.2 1075.9,421.4 1079.0,423.5 1081.5,422.8 1087.8,422.3 1090.0,420.0 1091.5,418.2 1093.4,405.4 1094.6,380.7 1095.9,369.0 1098.4,396.9 1099.7,403.6 1099.9,403.9 1102.2,397.7 1104.7,384.4 1106.3,361.1 1109.0,294.3 1110.9,270.7 1112.8,318.7 1114.1,344.6 1115.1,355.0 1116.3,348.5 1117.8,334.3 1118.7,308.1 1120.3,351.6 1122.0,362.5 1123.4,364.8 1125.3,410.2 1127.8,417.0 1131.6,420.4 1133.5,418.4 1136.6,404.1 1137.5,401.9 1138.5,403.2 1140.6,382.6 1142.2,395.0 1143.5,419.8 1145.4,430.0 1148.0,432.5 1160.0,434.2 1162.5,431.8 1163.8,429.5 1166.9,420.0 1168.2,422.8 1169.1,427.0 1170.7,430.3 1173.8,431.2 1176.9,431.4 1182.0,435.3 1185.7,434.4 1190.7,430.8 1192.6,431.6 1195.1,430.2 1196.6,430.2 1200.7,434.2 1201.4,434.1 1203.9,431.7 1205.7,430.8 1206.4,431.2 1210.1,437.1 1212.0,439.0 1220.2,441.3 1235.2,440.6 1243.9,442.0 1252.7,442.0 1267.7,440.8 1277.8,438.1 1282.1,437.6 1285.3,438.2 1290.3,438.3 1300.3,437.2 1321.6,440.2 1330.0,439.2 1348.8,438.3 1352.5,437.4 1353.8,436.6 1356.9,432.6 1358.8,426.1 1360.4,412.4 1361.9,429.1 1362.3,431.2 1363.8,433.5 1367.6,433.2 1372.6,427.2 1375.1,422.8 1378.2,411.3 1380.1,398.7 1381.3,385.4 1383.9,337.7 1386.1,268.1 1387.2,255.1 1388.0,250.1 1390.3,287.0 1391.4,298.4 1392.0,296.7 1394.1,259.7 1396.5,182.7 1397.8,157.0 1398.9,148.2 1399.8,157.3 1402.0,205.4 1403.5,223.6 1404.8,197.0 1406.6,140.0 1410.2,296.6 1412.0,329.9 1413.0,326.0 1414.5,311.0 1415.5,310.6 1416.0,306.8 1417.4,304.2 1419.5,323.5 1421.4,353.8 1423.9,372.8 1425.2,380.5 1426.7,385.2 1428.3,401.9 1432.7,420.3 1434.9,422.1 1435.8,426.9 1440.8,432.5 1442.7,433.8 1449.0,435.9 1451.6,436.2 1475.2,437.9 1490.0,437.5 1500.8,438.1 1513.2,439.1 1524.3,440.9 1525.2,440.0 1527.7,441.2 1529.4,440.2 1531.1,441.4 1535.3,441.1 1536.9,440.3 1538.6,441.6 1546.2,441.5 1552.9,440.7 1555.4,439.2 1557.1,439.2 1558.8,441.5 1564.6,442.3 1573.0,442.5 1589.8,440.5 1603.6,440.6 1609.6,441.3"/>
<path d="M953.6,425.8 956.4,417.6 957.2,419.2 958.3,410.0 959.5,391.4 960.2,361.9 961.3,244.6 963.0,376.4 965.3,394.8 968.8,368.2 970.2,331.5 971.3,139.0 972.6,337.1 973.7,371.7 974.5,378.8 975.6,340.8 976.4,162.7 977.3,333.9 978.2,343.4 979.1,294.4 980.4,352.8 981.0,343.5 981.6,281.1 982.8,371.7 986.3,405.4 987.9,412.3 989.4,415.9 990.8,415.2 991.7,367.0 992.6,411.6 994.0,412.8 994.2,411.7 995.5,394.4 996.5,408.6 997.8,407.0 998.0,407.5 1000.0,417.2 1000.8,419.2 1001.7,417.4 1002.9,409.3 1003.9,419.4 1005.4,425.1 1007.6,423.8 1013.4,414.7 1015.0,416.2 1016.4,416.2 1020.1,404.5 1023.5,384.6 1024.8,389.4 1026.1,386.0 1027.6,387.3 1029.0,387.9 1030.2,393.5 1033.3,399.7 1034.5,401.3 1035.3,399.9 1036.1,399.9 1037.0,405.2 1037.7,406.5 1039.0,404.9 1039.5,403.3 1041.4,404.5 1042.7,403.6 1044.5,394.9 1045.8,383.9 1047.7,407.2 1048.5,411.2 1050.2,412.0 1052.1,411.3 1053.9,408.2 1055.8,411.4 1057.7,416.1 1060.2,418.8 1062.7,412.0 1064.6,417.6 1067.1,413.4 1069.0,408.3 1070.2,407.1 1072.1,413.3 1074.0,415.4 1076.5,420.9 1079.0,422.4 1085.3,419.6 1087.8,419.6 1091.5,416.3 1093.4,404.1 1094.6,380.2 1095.9,369.9 1098.4,398.7 1099.9,406.4 1102.2,400.9 1105.3,383.5 1109.0,296.8 1110.9,269.0 1114.1,338.7 1115.1,347.6 1116.3,339.1 1117.8,319.3 1118.7,294.7 1120.3,337.8 1122.0,351.7 1123.4,354.1 1125.3,409.3 1127.8,416.5 1130.3,419.2 1131.6,419.9 1133.5,418.0 1136.6,402.4 1137.5,399.7 1138.5,401.4 1140.6,377.6 1142.2,388.7 1144.0,421.9 1145.4,429.4 1148.0,432.2 1160.0,434.6 1162.5,431.8 1163.8,429.4 1166.9,418.8 1168.2,421.5 1169.1,426.2 1170.7,430.0 1173.8,431.0 1176.9,431.1 1182.0,435.1 1185.7,434.4 1190.7,430.6 1192.6,431.5 1195.1,430.0 1196.6,430.0 1200.7,434.0 1201.4,434.0 1203.9,431.6 1205.7,430.8 1210.1,437.2 1212.0,439.2 1215.1,440.1 1220.4,441.3 1226.0,440.6 1235.2,440.4 1243.9,441.9 1267.7,441.0 1277.8,438.0 1282.1,437.4 1285.3,438.0 1290.3,438.2 1300.3,437.1 1305.3,438.0 1309.1,438.0 1321.6,440.4 1330.0,439.3 1348.8,438.2 1352.5,437.4 1353.8,436.5 1356.9,432.4 1358.8,425.8 1360.4,412.2 1361.9,428.5 1362.3,430.8 1363.8,432.9 1367.6,432.8 1372.6,427.6 1375.1,423.8 1378.2,412.7 1380.1,400.3 1381.3,387.1 1383.9,339.0 1386.1,267.7 1387.2,253.4 1388.0,247.7 1390.3,281.6 1391.4,292.1 1392.0,290.8 1394.1,254.1 1396.5,174.4 1397.8,148.7 1398.9,140.5 1399.8,149.8 1402.0,199.5 1403.5,218.8 1404.8,193.2 1406.6,136.6 1408.6,238.0 1410.2,294.4 1412.0,327.3 1413.0,323.7 1414.5,308.5 1415.5,308.7 1416.0,304.7 1417.4,300.9 1419.5,319.5 1421.4,351.2 1425.2,379.6 1426.7,384.8 1428.3,401.9 1432.7,420.5 1434.9,422.4 1435.8,427.0 1440.8,432.4 1442.7,433.5 1449.0,435.2 1461.5,436.5 1486.5,437.6 1500.8,437.1 1510.9,438.0 1524.3,440.2 1525.2,439.2 1527.7,440.5 1529.4,439.2 1531.1,440.7 1535.3,440.5 1536.9,439.7 1538.6,441.4 1546.2,441.4 1552.9,439.9 1555.4,437.7 1557.1,437.6 1558.8,440.6 1573.0,442.0 1581.4,440.7 1589.8,440.0 1609.6,440.8"/>
<path d="M953.6,426.6 956.4,420.0 957.2,421.2 958.1,415.7 959.5,396.6 960.2,370.5 961.3,255.9 963.0,379.0 963.8,389.0 965.3,398.7 968.8,374.6 970.2,338.3 971.3,151.5 972.6,343.1 973.7,376.0 974.5,380.4 975.6,343.6 976.4,167.5 977.3,335.3 978.2,343.6 979.1,293.3 980.4,349.6 981.0,339.0 981.6,275.9 982.8,366.9 985.6,387.5 986.3,398.2 987.9,406.1 989.4,410.1 990.8,408.3 991.7,353.1 992.6,402.4 994.0,404.1 994.2,403.5 995.5,384.0 996.5,399.9 997.8,399.7 1000.0,413.7 1000.8,416.1 1001.7,415.9 1002.9,407.5 1003.9,418.8 1005.4,423.5 1007.6,422.5 1009.5,419.2 1013.4,414.3 1015.0,416.3 1016.4,416.5 1018.9,408.4 1020.1,406.2 1023.5,388.9 1024.8,392.1 1026.1,388.6 1029.0,389.9 1030.2,395.0 1032.7,400.2 1034.5,402.6 1035.3,401.3 1036.1,401.0 1037.0,405.8 1037.7,406.8 1039.0,404.8 1039.5,403.1 1041.4,403.5 1042.7,401.9 1043.9,396.3 1045.8,380.8 1047.7,403.3 1048.5,407.9 1050.2,409.1 1052.1,408.3 1053.9,405.0 1055.8,408.7 1057.7,414.2 1060.2,417.2 1062.7,410.1 1064.6,416.5 1067.1,412.1 1069.0,407.0 1070.2,405.8 1072.1,412.4 1074.0,414.6 1076.5,420.2 1079.0,421.8 1085.3,418.5 1087.8,418.4 1091.5,414.8 1093.4,402.2 1094.6,377.2 1095.5,367.8 1095.9,367.4 1098.4,397.5 1099.9,405.4 1102.2,400.0 1105.3,383.0 1109.0,298.0 1110.9,272.0 1114.1,342.0 1115.1,351.6 1116.3,344.0 1117.8,327.1 1118.7,301.9 1120.3,345.8 1122.0,358.8 1123.4,362.2 1125.3,410.1 1127.8,417.2 1130.3,419.7 1131.6,420.4 1133.5,418.2 1135.4,407.4 1137.5,398.7 1138.5,400.4 1140.6,374.1 1142.2,383.5 1143.5,416.5 1144.7,426.4 1145.4,428.5 1148.0,431.5 1156.0,433.6 1160.0,434.0 1162.5,431.2 1163.8,428.5 1166.9,417.7 1168.2,420.8 1169.1,425.9 1170.7,429.9 1173.8,431.0 1176.9,431.2 1182.0,435.2 1185.7,434.4 1190.7,430.6 1192.6,431.5 1195.1,429.9 1196.6,429.8 1200.7,433.8 1201.4,433.8 1203.9,431.2 1205.7,430.3 1210.1,436.7 1212.0,438.5 1215.1,439.5 1220.2,440.6 1222.7,440.0 1235.2,440.2 1243.9,441.6 1267.7,440.5 1277.8,437.5 1282.1,436.8 1285.3,437.6 1290.3,437.8 1300.3,436.9 1305.3,437.7 1309.1,437.7 1315.3,439.2 1321.6,440.0 1327.9,439.5 1330.0,438.9 1348.8,437.8 1352.5,436.8 1353.8,436.0 1356.9,431.7 1358.8,424.7 1360.4,411.7 1362.3,429.8 1363.8,431.5 1367.6,431.2 1368.8,430.3 1372.6,426.1 1375.1,422.0 1378.2,410.9 1380.1,398.5 1381.3,385.2 1383.9,337.2 1386.1,266.5 1387.2,253.2 1388.0,248.0 1390.3,283.8 1391.4,295.2 1392.0,294.0 1394.1,257.8 1396.5,181.6 1397.8,157.1 1398.9,149.4 1399.8,159.7 1402.0,210.4 1403.5,229.9 1404.8,203.6 1406.6,147.0 1410.2,299.0 1412.0,331.2 1413.0,326.4 1414.5,310.7 1415.5,310.1 1416.0,306.0 1417.4,302.4 1419.5,320.6 1421.4,351.5 1425.2,379.2 1426.7,384.1 1428.3,401.5 1432.7,420.4 1434.9,422.2 1435.8,426.9 1440.8,432.5 1442.7,433.7 1449.0,435.7 1461.5,437.6 1484.4,438.0 1500.8,437.5 1524.3,440.6 1525.2,439.6 1527.7,440.8 1529.4,439.7 1531.1,440.9 1535.3,440.8 1536.9,440.0 1538.6,441.5 1546.2,441.5 1552.9,440.0 1555.4,437.9 1557.1,437.8 1558.8,440.6 1564.6,441.4 1573.0,441.7 1581.4,440.1 1589.8,439.4 1604.9,439.9 1609.6,440.5"/>
<path d="M953.6,427.0 956.4,418.9 957.2,420.0 958.3,411.0 959.5,392.5 960.2,363.4 961.3,246.3 963.0,376.9 965.3,396.0 968.8,372.6 970.2,337.7 971.3,153.1 972.6,345.8 973.7,379.4 974.5,382.2 975.6,348.9 976.4,181.2 977.2,335.0 977.8,350.6 978.2,353.4 979.1,301.9 980.2,360.1 980.8,352.2 981.6,284.7 982.8,372.2 984.8,388.5 985.6,391.6 986.3,400.8 987.9,407.5 989.4,411.1 990.8,409.4 991.7,355.5 992.6,404.2 994.0,406.5 994.2,405.9 995.5,388.1 996.5,404.2 997.8,404.4 1000.0,417.0 1000.8,419.4 1001.7,417.8 1002.9,410.1 1003.9,419.8 1005.4,426.6 1007.6,425.7 1013.4,417.3 1015.0,417.6 1016.4,417.0 1020.1,404.9 1023.5,384.6 1024.8,389.5 1026.1,386.5 1029.0,389.0 1030.2,394.7 1033.3,401.9 1034.5,403.7 1035.3,402.6 1036.1,402.5 1037.0,407.0 1037.7,407.6 1039.5,403.1 1041.4,402.3 1042.7,399.2 1043.9,392.3 1045.8,374.8 1048.5,401.2 1050.2,403.1 1052.1,403.2 1053.9,400.2 1057.7,413.6 1060.2,418.3 1061.5,416.7 1062.7,413.8 1064.6,419.5 1065.8,418.8 1070.2,411.0 1072.1,415.2 1074.0,415.9 1075.9,419.5 1079.0,420.6 1081.5,418.8 1085.3,416.9 1087.8,417.3 1091.5,414.4 1093.4,401.7 1094.6,376.4 1095.5,366.7 1095.9,366.3 1098.4,396.2 1099.9,403.3 1102.2,396.5 1104.7,381.2 1105.3,374.3 1109.3,271.2 1110.9,246.8 1114.1,327.4 1115.1,336.9 1116.3,329.4 1117.8,309.1 1118.7,287.7 1120.6,338.6 1122.0,351.3 1123.4,355.6 1125.3,409.6 1127.8,416.7 1130.3,419.1 1131.6,419.5 1133.5,417.4 1135.4,405.1 1137.5,395.1 1138.5,397.8 1140.6,368.0 1142.2,376.7 1143.5,414.8 1144.7,425.9 1145.4,428.0 1147.9,431.2 1150.4,432.3 1156.0,433.6 1160.0,433.6 1162.5,429.8 1163.8,426.1 1166.9,412.5 1168.2,416.5 1169.1,423.5 1170.7,429.1 1173.8,430.5 1176.9,430.6 1182.0,434.9 1185.7,434.1 1190.7,430.1 1192.6,431.2 1195.1,429.5 1196.6,429.3 1198.9,431.8 1201.4,433.5 1203.9,430.9 1205.7,429.9 1210.1,436.6 1212.0,438.4 1220.2,440.5 1222.7,439.8 1235.2,440.1 1243.9,441.7 1259.0,440.6 1265.2,440.8 1267.7,440.6 1277.8,437.9 1282.1,437.2 1285.3,437.8 1290.3,438.0 1300.3,437.2 1305.3,438.0 1309.1,438.0 1321.6,440.1 1348.8,438.0 1352.5,437.2 1353.8,436.4 1356.9,432.4 1358.8,425.7 1360.4,412.2 1362.3,430.7 1363.8,432.8 1367.6,432.2 1372.6,426.1 1375.1,421.4 1378.2,409.6 1380.1,396.7 1382.6,361.0 1386.1,261.4 1386.8,251.8 1388.0,243.9 1390.3,279.2 1391.4,290.6 1392.0,289.8 1394.1,253.7 1396.5,173.5 1397.8,147.2 1398.9,138.4 1399.8,146.7 1402.0,194.2 1403.5,212.0 1404.5,194.0 1406.6,127.6 1408.6,232.6 1410.2,289.4 1412.0,322.6 1413.0,320.2 1414.5,305.5 1415.5,306.5 1416.0,302.5 1417.4,297.8 1419.5,316.1 1421.4,348.7 1425.2,377.0 1426.7,381.4 1428.3,399.9 1432.7,419.4 1434.9,420.7 1435.8,426.2 1440.8,431.6 1442.7,432.7 1449.0,435.0 1455.6,435.7 1482.8,436.8 1500.8,436.4 1514.8,438.8 1524.3,439.9 1525.2,438.6 1527.7,440.0 1529.4,438.5 1531.1,440.2 1535.3,440.1 1536.9,439.3 1538.6,441.1 1541.2,441.2 1546.2,441.1 1552.9,439.4 1555.4,437.0 1557.1,437.0 1558.8,440.3 1564.6,441.5 1573.0,442.3 1581.4,440.4 1589.8,439.6 1609.6,440.6"/>
<path d="M953.6,423.9 956.4,415.4 957.2,417.6 958.3,408.1 959.5,389.5 960.4,343.4 961.3,242.8 963.0,376.4 965.3,395.6 968.8,371.3 970.2,335.6 971.3,147.8 972.6,342.2 973.7,376.0 974.5,380.6 975.6,345.0 976.4,171.9 977.2,328.5 977.8,345.4 978.2,347.8 979.1,297.5 980.2,355.7 981.0,345.0 981.6,281.7 982.8,371.0 984.8,388.7 985.6,392.3 986.3,401.6 987.9,408.5 989.4,411.9 990.8,410.0 991.7,356.1 992.6,404.1 994.0,405.4 994.2,404.7 995.5,385.3 996.5,400.9 997.8,400.4 1000.0,414.1 1000.8,416.4 1001.7,416.1 1002.9,407.8 1003.9,418.9 1005.4,424.0 1007.6,423.1 1009.5,420.3 1013.4,416.5 1015.0,418.0 1016.4,418.0 1018.9,410.7 1020.4,408.7 1023.5,394.1 1024.8,394.8 1026.1,390.7 1027.6,390.2 1029.0,390.5 1030.2,395.1 1033.3,399.4 1034.5,399.7 1036.1,395.5 1037.7,401.8 1039.0,400.2 1039.5,398.4 1041.4,396.9 1042.7,393.3 1043.9,386.9 1045.8,370.9 1048.5,400.0 1050.2,403.1 1052.1,403.7 1053.9,401.1 1057.7,413.8 1060.2,418.1 1061.5,416.1 1062.7,412.9 1064.6,419.0 1065.8,418.3 1069.0,413.1 1070.2,412.4 1072.1,417.3 1074.0,418.7 1075.9,422.2 1079.0,422.8 1085.3,416.9 1087.8,415.9 1091.5,410.9 1093.4,396.4 1094.6,367.9 1095.5,357.7 1096.8,369.1 1098.4,393.1 1099.9,400.7 1102.2,395.2 1104.7,381.9 1105.3,375.9 1109.0,287.1 1110.9,259.8 1114.1,335.2 1115.1,344.5 1116.3,336.3 1117.8,316.1 1118.7,292.1 1120.6,339.2 1122.0,349.3 1123.4,350.7 1125.3,408.7 1127.8,415.7 1130.3,418.1 1131.6,418.4 1133.5,416.7 1135.4,403.8 1137.5,394.0 1138.5,397.1 1140.6,367.0 1142.2,375.5 1143.5,414.4 1144.7,425.8 1145.4,427.7 1148.0,431.1 1156.0,433.5 1160.0,433.6 1162.5,429.8 1163.8,426.1 1166.9,412.8 1168.2,416.7 1169.1,423.6 1170.7,429.1 1173.8,430.4 1176.9,430.3 1182.0,434.6 1185.7,433.9 1190.7,429.8 1192.6,431.1 1195.1,429.4 1196.6,429.2 1198.9,431.8 1200.7,433.4 1201.4,433.5 1203.9,430.9 1205.7,429.9 1210.1,436.5 1212.0,438.2 1220.2,440.2 1222.7,439.4 1235.2,439.9 1243.9,441.3 1265.2,440.7 1267.7,440.4 1277.8,437.5 1282.1,436.9 1285.3,437.8 1290.3,438.0 1300.3,437.1 1305.3,437.9 1309.1,437.8 1321.6,439.9 1327.9,439.4 1330.0,438.8 1348.8,438.1 1352.5,437.1 1353.8,436.1 1356.9,431.7 1358.8,424.6 1360.4,411.5 1362.3,429.4 1363.8,431.0 1367.6,430.3 1372.6,424.8 1375.7,418.6 1378.2,408.8 1380.1,395.9 1382.6,359.7 1383.9,332.0 1386.1,257.9 1386.8,248.3 1388.0,240.1 1390.3,273.7 1391.4,284.7 1392.0,284.4 1394.1,249.0 1396.5,166.7 1397.8,140.3 1398.9,131.9 1399.8,140.1 1402.0,188.3 1403.5,206.5 1404.5,188.9 1406.6,122.2 1408.6,229.1 1410.2,285.6 1412.0,318.2 1413.0,316.4 1414.5,301.5 1415.5,303.3 1417.4,292.4 1419.5,309.1 1421.4,343.7 1425.2,373.9 1426.7,378.7 1428.3,398.8 1432.7,419.4 1434.9,421.0 1435.8,426.4 1440.8,431.8 1442.7,432.8 1449.0,434.5 1461.5,435.8 1485.2,436.8 1500.8,436.4 1510.9,437.7 1524.3,440.3 1525.2,439.2 1527.7,440.4 1529.4,439.2 1531.1,440.6 1535.3,440.2 1536.9,439.3 1538.6,441.0 1546.2,440.8 1552.9,439.2 1555.4,436.9 1557.1,436.9 1558.8,440.3 1564.6,441.4 1573.0,442.0 1589.8,439.3 1604.9,439.5 1609.6,440.2"/>
<path d="M953.6,423.6 956.4,415.1 957.2,417.3 958.3,407.7 959.5,389.0 960.4,342.6 961.3,241.5 963.0,376.1 965.3,394.9 968.8,369.2 970.2,332.8 971.3,141.5 972.6,338.3 974.0,374.9 974.5,379.0 975.6,340.7 976.4,161.5 977.2,320.8 977.8,339.1 978.2,340.8 978.6,326.6 979.1,291.2 980.4,347.5 981.0,337.1 981.6,274.1 982.8,365.8 985.6,386.0 986.3,397.1 987.9,405.1 989.4,409.1 990.8,406.9 991.7,350.0 992.6,400.1 994.0,401.6 994.2,401.1 995.5,380.6 996.4,396.3 996.5,396.8 997.8,396.7 1000.0,412.0 1000.8,414.5 1001.7,415.1 1002.9,406.3 1003.9,418.3 1005.4,422.1 1007.6,421.0 1009.5,417.2 1013.4,411.8 1015.0,414.5 1016.4,415.0 1020.1,403.3 1023.5,383.5 1024.8,388.7 1026.1,385.4 1027.6,386.7 1029.0,386.8 1030.2,392.4 1032.7,396.2 1034.5,397.1 1036.1,392.7 1037.7,400.1 1039.0,399.0 1039.5,397.2 1041.4,395.4 1042.7,391.3 1043.9,384.5 1045.8,367.6 1048.5,395.8 1050.2,398.6 1052.1,398.5 1053.9,393.9 1057.7,407.8 1060.2,412.1 1062.7,403.7 1064.6,413.2 1067.1,408.4 1069.0,403.5 1070.2,402.9 1072.1,411.1 1074.0,414.2 1075.9,419.7 1079.0,422.2 1085.3,418.6 1087.8,418.0 1091.5,413.2 1093.4,399.0 1094.6,371.4 1095.5,360.9 1095.9,361.4 1096.8,370.9 1098.4,393.5 1099.9,400.6 1102.2,394.0 1104.7,379.0 1105.3,371.9 1106.3,354.0 1109.3,269.4 1110.9,245.2 1114.1,325.9 1115.2,335.1 1116.3,326.4 1118.7,281.9 1120.6,331.8 1122.0,344.7 1123.4,348.2 1125.3,408.9 1127.8,416.4 1130.3,419.3 1131.6,420.2 1133.5,418.3 1136.6,402.7 1137.5,399.8 1138.5,401.3 1140.6,376.4 1142.2,386.1 1143.5,417.1 1144.7,426.6 1145.4,428.7 1147.9,431.5 1150.4,432.2 1156.0,433.3 1160.0,433.3 1162.5,429.8 1163.8,426.2 1166.9,413.3 1168.2,417.2 1169.1,423.9 1170.7,429.3 1173.8,430.6 1176.9,430.7 1182.0,434.9 1185.7,434.2 1190.7,430.3 1192.6,431.3 1195.1,429.7 1196.6,429.5 1200.0,432.9 1201.4,433.6 1203.9,430.9 1205.7,429.9 1210.1,436.4 1212.0,438.0 1220.2,440.0 1222.7,439.3 1227.7,439.9 1235.2,440.0 1243.9,441.1 1250.2,440.5 1265.2,440.2 1267.7,439.9 1276.0,437.6 1282.1,436.4 1285.3,437.3 1290.3,437.7 1300.3,436.7 1305.3,437.5 1309.1,437.3 1315.3,438.7 1321.6,439.4 1327.9,438.9 1330.0,438.2 1348.8,437.3 1352.5,436.3 1353.8,435.5 1356.9,431.1 1358.8,423.9 1360.4,411.2 1362.3,428.9 1363.8,430.3 1367.6,429.6 1372.6,423.9 1375.7,417.3 1378.2,407.1 1380.1,393.8 1381.3,379.2 1383.9,327.9 1386.1,251.7 1386.8,242.8 1388.0,235.3 1390.3,269.2 1391.4,281.0 1392.0,281.5 1394.1,247.7 1396.5,167.1 1397.8,142.2 1398.9,134.9 1399.8,144.3 1402.0,195.1 1403.5,214.9 1404.5,197.7 1406.6,132.9 1408.6,235.6 1410.2,291.8 1412.0,324.2 1413.0,321.0 1414.5,305.6 1415.5,306.3 1416.0,302.1 1417.4,296.5 1419.5,313.3 1421.4,346.1 1425.2,374.9 1426.7,379.4 1428.3,399.0 1432.7,419.4 1434.9,421.0 1435.8,426.4 1440.8,431.9 1442.7,433.0 1449.0,435.2 1461.5,436.7 1480.8,436.4 1500.8,436.8 1524.3,439.7 1525.2,438.4 1527.7,439.7 1529.4,438.0 1531.1,439.7 1535.3,439.2 1536.9,438.0 1538.6,440.2 1546.2,440.2 1552.9,438.7 1555.4,436.2 1557.1,436.2 1558.8,439.8 1564.6,440.7 1573.0,441.0 1581.4,439.3 1589.8,438.5 1604.9,438.9 1609.6,439.7"/>
<path d="M953.6,423.9 956.4,416.1 957.2,418.3 958.3,409.5 959.5,391.9 960.2,363.6 961.3,248.6 963.0,377.8 963.8,387.5 965.3,397.5 968.8,372.9 970.2,335.9 971.3,145.7 972.6,339.0 973.7,371.8 974.5,378.3 975.6,337.8 976.4,152.4 977.3,326.0 977.8,331.9 978.2,332.2 978.6,319.7 979.1,282.8 979.7,321.9 980.4,336.8 981.1,319.8 981.6,262.9 982.8,358.1 985.6,378.9 986.3,392.6 987.9,403.1 989.4,408.7 990.8,408.0 991.7,354.1 992.6,404.0 994.0,407.0 994.2,406.4 995.5,388.9 996.5,404.7 997.8,404.4 1000.0,416.3 1000.8,418.4 1001.7,417.1 1002.9,408.9 1003.9,419.2 1005.4,424.5 1007.6,422.9 1013.4,412.0 1015.0,414.2 1016.4,414.5 1020.1,401.9 1023.5,382.1 1024.8,388.3 1026.1,385.5 1027.6,387.2 1029.0,387.7 1030.2,393.3 1032.7,397.5 1034.5,398.4 1036.1,393.9 1037.7,400.4 1039.0,398.8 1039.5,396.8 1041.4,394.3 1042.7,389.3 1045.8,365.0 1048.5,394.4 1050.2,398.3 1052.1,399.5 1053.9,396.7 1057.7,411.6 1060.2,416.3 1062.7,410.1 1064.6,416.8 1066.8,413.0 1069.0,406.3 1070.2,404.2 1072.1,410.0 1074.0,411.2 1075.9,416.1 1079.0,418.3 1085.3,414.7 1087.8,415.2 1091.5,412.0 1093.4,398.5 1094.6,371.5 1095.5,361.6 1095.9,362.1 1096.8,371.9 1098.4,394.2 1099.9,401.3 1102.2,394.4 1104.7,378.6 1105.3,371.1 1106.3,352.8 1109.3,264.4 1110.9,238.3 1112.4,268.6 1114.1,321.0 1115.2,330.2 1116.3,321.1 1118.7,276.3 1120.6,327.3 1122.0,341.1 1123.4,344.6 1125.3,408.5 1127.8,415.9 1130.3,418.5 1131.6,419.0 1133.5,417.0 1137.5,393.9 1138.5,396.8 1140.6,364.8 1142.2,371.6 1143.5,413.1 1144.7,425.3 1145.4,427.0 1147.9,430.5 1150.4,431.8 1156.0,433.3 1160.0,433.2 1162.5,429.0 1163.6,425.5 1166.9,410.1 1168.2,414.4 1169.1,422.3 1170.7,428.7 1173.8,430.2 1176.9,430.0 1182.0,434.4 1185.7,433.7 1190.7,429.7 1192.6,431.0 1195.1,429.2 1196.6,428.9 1198.9,431.5 1201.4,433.2 1203.9,430.4 1205.7,429.2 1210.1,435.9 1212.0,437.4 1220.2,439.7 1222.7,439.0 1227.7,439.7 1235.2,439.6 1243.9,440.4 1250.2,440.0 1265.2,440.2 1270.2,439.4 1277.8,437.2 1282.1,436.5 1285.3,437.5 1290.3,437.8 1300.3,436.7 1305.3,437.5 1309.1,437.4 1315.3,439.0 1321.6,439.9 1332.0,438.4 1348.8,437.7 1352.5,436.9 1353.8,436.1 1356.9,431.7 1358.8,424.6 1360.4,411.5 1362.3,429.4 1363.8,430.9 1367.6,430.1 1372.6,424.7 1375.7,418.7 1378.2,409.2 1380.1,396.5 1382.6,360.9 1383.9,333.4 1386.1,259.6 1386.8,249.7 1388.0,240.9 1390.3,273.5 1391.4,283.9 1392.0,283.4 1394.1,247.4 1396.5,163.3 1397.8,136.4 1398.9,128.0 1399.8,136.2 1402.0,185.4 1403.5,205.0 1404.5,188.6 1406.6,124.6 1408.6,232.0 1410.2,289.4 1412.0,322.9 1413.0,320.4 1414.5,305.5 1415.5,306.4 1416.0,302.3 1417.4,297.1 1419.5,314.2 1421.4,346.7 1425.2,374.6 1426.7,378.7 1428.3,398.4 1432.7,418.9 1434.9,420.2 1435.8,426.0 1440.8,431.5 1442.7,432.6 1449.0,434.7 1452.8,435.1 1482.0,436.0 1500.8,435.2 1517.6,438.2 1524.3,438.9 1525.2,437.3 1527.7,438.9 1529.4,436.9 1531.1,438.9 1535.3,438.5 1536.9,437.3 1538.6,439.8 1546.2,440.0 1552.9,437.9 1555.4,434.8 1557.1,434.6 1558.8,438.9 1573.0,440.6 1589.8,438.3 1604.9,438.7 1609.6,439.6"/>
<path d="M953.6,424.0 956.4,416.6 957.2,418.6 958.3,409.8 959.5,391.8 960.2,363.0 961.3,246.5 963.0,376.9 963.8,385.8 965.3,395.2 968.8,366.2 970.2,327.5 971.3,128.1 972.6,328.9 973.6,360.9 974.5,374.8 975.6,329.5 976.4,133.7 977.3,316.1 977.8,322.3 978.2,322.0 978.6,312.2 979.1,274.8 979.7,315.0 980.4,329.0 981.1,313.1 981.6,256.5 982.8,354.6 985.6,376.6 986.8,394.7 987.9,402.3 989.4,408.2 990.8,407.4 991.7,352.8 992.6,403.0 994.0,405.8 994.2,405.2 995.5,387.2 996.5,403.0 997.8,402.8 1000.0,415.3 1000.8,417.5 1001.7,416.6 1002.9,408.2 1003.9,419.0 1005.4,423.8 1007.6,422.3 1013.4,411.3 1015.0,413.7 1016.4,414.1 1020.1,400.6 1023.5,379.0 1024.8,386.4 1026.1,383.6 1027.6,385.8 1029.0,386.3 1030.2,392.3 1032.7,396.9 1034.5,398.5 1036.1,395.1 1037.7,402.0 1039.0,400.5 1039.5,398.7 1041.4,397.0 1042.7,393.0 1043.9,386.0 1045.8,368.6 1048.5,396.1 1050.2,398.8 1052.1,398.7 1053.9,394.6 1057.7,409.1 1060.2,414.0 1062.7,407.4 1064.6,415.9 1067.1,412.7 1069.0,408.7 1070.2,408.1 1072.1,414.3 1074.0,416.1 1075.9,420.2 1079.0,421.2 1085.3,415.0 1087.8,414.1 1091.5,409.5 1093.4,394.9 1094.6,366.1 1095.5,356.2 1096.8,368.3 1098.4,392.9 1099.9,400.8 1102.2,395.5 1104.7,382.3 1105.3,376.3 1109.0,285.7 1110.9,255.9 1114.1,330.1 1115.2,338.3 1116.3,328.3 1118.7,279.5 1120.6,325.6 1122.0,336.5 1123.4,336.2 1125.3,407.2 1127.8,414.6 1130.3,417.3 1131.6,417.8 1133.5,416.6 1136.8,398.4 1137.5,395.9 1138.5,398.7 1140.6,371.6 1142.2,381.3 1143.5,416.0 1144.7,426.3 1145.4,428.3 1148.0,431.3 1156.0,433.1 1160.0,432.7 1162.5,428.4 1164.4,421.6 1166.9,409.2 1168.2,414.0 1169.1,422.2 1170.7,428.7 1173.8,430.3 1176.9,430.2 1182.0,434.5 1185.7,433.8 1190.7,429.5 1192.6,430.9 1195.1,429.0 1196.6,428.6 1198.9,431.3 1201.4,433.1 1203.9,430.2 1205.7,429.1 1210.1,435.9 1212.0,437.4 1215.1,438.5 1220.2,439.5 1222.7,438.6 1227.7,439.4 1235.2,439.3 1242.7,440.0 1250.2,439.5 1265.2,439.8 1270.2,439.0 1275.3,437.4 1282.1,436.0 1285.3,437.1 1290.3,437.4 1300.3,436.4 1305.3,437.2 1309.1,437.0 1315.3,438.5 1321.6,439.4 1348.8,436.5 1353.8,434.8 1356.9,430.6 1358.8,423.4 1360.4,411.1 1362.3,428.8 1363.8,430.3 1367.6,429.8 1368.8,428.7 1372.6,424.0 1375.7,417.0 1378.2,406.4 1380.1,392.6 1381.3,377.5 1383.9,324.8 1386.1,246.5 1386.8,238.0 1388.0,230.7 1390.3,263.8 1391.4,275.9 1392.0,277.0 1394.1,244.2 1396.5,162.1 1397.8,136.8 1398.9,129.5 1399.8,138.5 1402.0,188.5 1403.5,207.7 1404.5,190.5 1406.6,124.2 1408.6,230.2 1410.2,286.4 1411.8,316.5 1412.0,318.6 1413.0,316.5 1414.5,301.3 1415.5,303.1 1417.4,291.6 1419.5,307.7 1421.4,342.5 1425.2,373.0 1426.7,377.7 1428.3,398.3 1432.7,419.3 1434.9,420.9 1435.8,426.3 1440.8,431.7 1442.7,432.7 1449.0,434.4 1461.5,435.7 1475.2,436.2 1492.0,435.5 1500.8,435.7 1524.3,439.0 1525.2,437.5 1527.7,439.0 1529.4,437.1 1531.1,439.1 1535.3,438.7 1536.9,437.5 1538.6,439.9 1546.2,440.1 1552.9,438.1 1555.4,435.0 1557.1,434.9 1558.8,439.0 1564.6,439.7 1573.0,440.4 1589.8,438.4 1604.9,438.2 1609.6,439.1"/>
<path d="M953.6,421.1 956.4,410.8 957.2,413.8 959.5,381.2 960.4,332.1 961.3,225.0 963.0,372.3 965.3,388.9 968.8,357.4 970.2,318.9 971.3,113.2 972.6,322.3 974.5,373.3 975.3,350.6 975.6,320.9 976.4,130.0 977.3,315.1 977.8,321.9 978.2,321.9 978.6,312.5 979.1,275.5 979.7,316.1 980.4,330.8 981.1,315.1 981.6,258.7 982.8,356.2 985.6,377.7 986.3,391.6 987.9,402.1 989.4,407.4 990.8,405.8 991.7,348.9 992.6,400.0 994.0,402.3 994.2,401.9 995.5,382.3 996.4,398.1 996.5,398.7 997.8,398.8 1000.0,413.3 1000.8,415.7 1001.7,415.7 1002.9,407.1 1003.9,418.6 1005.4,422.8 1007.6,421.5 1013.4,410.7 1015.0,413.1 1016.4,413.5 1018.3,406.9 1020.1,398.0 1023.5,370.0 1024.8,379.9 1026.1,376.6 1027.6,379.9 1029.0,378.5 1030.2,385.6 1032.7,387.1 1034.5,386.2 1036.1,378.6 1037.7,390.5 1039.0,391.8 1039.5,390.4 1041.4,388.2 1042.7,383.5 1043.9,377.4 1045.8,362.2 1048.5,393.6 1050.2,398.0 1052.1,399.0 1053.9,395.7 1057.7,409.9 1060.2,414.2 1062.7,406.7 1064.6,414.9 1067.1,410.2 1069.0,404.8 1070.2,403.6 1072.1,410.7 1074.0,412.8 1075.9,417.9 1079.0,419.9 1085.3,414.7 1087.8,414.0 1091.5,408.8 1093.4,393.3 1094.6,362.8 1095.5,352.0 1096.8,364.0 1098.4,390.0 1099.9,397.1 1102.2,390.7 1104.7,375.2 1105.3,367.4 1106.3,350.1 1109.3,262.3 1110.9,237.7 1112.4,269.1 1114.1,321.6 1115.2,330.7 1116.3,321.5 1118.7,275.5 1120.6,325.1 1122.0,338.3 1123.4,340.5 1125.3,408.0 1127.8,415.4 1130.3,418.3 1131.6,418.9 1133.5,417.3 1135.4,405.6 1137.5,396.8 1138.5,399.2 1140.6,371.7 1142.2,380.8 1143.5,415.7 1144.7,426.2 1145.4,428.2 1147.9,431.1 1150.4,432.0 1156.0,433.2 1160.0,432.8 1162.5,428.7 1164.4,422.0 1166.9,409.7 1168.2,414.2 1169.1,422.3 1170.7,428.7 1173.8,430.2 1176.9,430.0 1182.0,434.4 1185.7,433.7 1190.7,429.6 1192.6,431.0 1195.1,429.2 1196.6,429.0 1198.9,431.6 1201.4,433.3 1203.9,430.6 1205.7,429.6 1210.1,436.2 1212.0,437.8 1220.2,439.8 1222.7,439.0 1227.7,439.7 1235.2,439.6 1242.7,440.3 1250.2,439.6 1265.2,440.1 1270.2,439.4 1275.3,437.8 1282.1,436.4 1285.3,437.3 1290.3,437.6 1300.3,436.6 1305.3,437.4 1309.1,437.2 1315.3,438.6 1321.6,439.3 1327.9,438.8 1330.0,438.1 1348.8,436.8 1353.8,435.0 1356.9,430.5 1358.8,423.2 1360.4,410.9 1362.3,428.4 1363.8,429.7 1367.6,428.8 1372.6,423.1 1375.7,416.0 1378.2,405.2 1380.1,391.1 1381.3,375.5 1383.9,321.1 1386.1,239.3 1386.8,231.0 1388.0,223.2 1390.3,253.0 1391.4,264.3 1392.0,266.3 1394.1,234.0 1396.5,144.9 1397.8,117.9 1398.9,110.3 1399.8,117.7 1403.3,187.3 1404.5,171.4 1406.6,105.9 1408.6,221.1 1410.2,278.9 1411.8,310.4 1412.0,312.3 1413.0,312.1 1414.5,297.7 1415.5,300.6 1417.4,288.3 1419.5,304.1 1421.4,339.9 1425.2,370.5 1426.7,374.6 1428.3,396.4 1432.7,418.3 1434.9,419.4 1435.8,425.6 1440.8,430.8 1442.7,431.7 1449.0,433.4 1461.5,434.5 1500.8,434.8 1524.3,438.3 1525.2,436.5 1527.7,438.3 1529.4,436.1 1531.1,438.3 1535.3,437.7 1536.9,436.1 1538.6,439.0 1546.2,439.0 1552.9,437.1 1555.4,433.8 1557.1,433.8 1558.8,438.6 1564.6,439.6 1573.0,440.2 1581.4,438.7 1589.8,437.9 1604.9,437.9 1609.6,438.7"/>
<path d="M953.6,423.3 956.4,414.3 957.2,416.6 958.3,406.2 959.5,386.5 960.4,338.8 961.3,234.8 963.0,374.2 965.3,391.2 968.8,359.9 970.2,320.8 971.3,115.5 972.6,322.4 974.5,372.7 975.3,349.4 975.6,318.6 976.4,122.8 977.3,310.0 977.8,316.1 978.2,315.1 978.6,306.8 979.1,268.5 979.7,309.1 980.4,321.1 981.1,305.0 981.6,247.6 982.8,347.6 985.6,365.1 986.3,382.1 987.9,394.4 989.4,400.6 990.8,397.9 991.7,333.3 992.6,389.7 994.2,392.8 995.5,370.9 996.4,388.9 997.8,390.7 1000.0,409.4 1001.7,413.9 1002.9,404.9 1003.9,417.9 1004.5,419.9 1005.4,420.8 1007.6,419.8 1009.5,415.6 1013.4,409.6 1015.0,412.8 1016.4,413.6 1020.1,399.8 1023.5,376.3 1024.8,384.3 1026.1,381.2 1027.6,383.6 1029.0,383.2 1030.2,389.6 1033.3,393.1 1034.5,393.3 1036.1,388.2 1037.7,397.4 1039.0,397.2 1039.5,395.6 1041.4,394.2 1042.7,390.3 1043.9,384.0 1045.8,368.0 1048.5,397.0 1050.2,399.9 1052.1,399.8 1053.9,395.5 1057.7,408.3 1060.2,412.0 1062.7,402.4 1064.6,411.7 1067.1,405.0 1069.0,397.6 1070.2,395.9 1072.1,404.6 1074.0,407.3 1075.9,413.8 1079.0,417.1 1085.3,412.8 1087.8,412.7 1091.5,408.4 1093.4,393.5 1094.6,363.7 1095.5,353.4 1096.8,365.8 1098.4,391.3 1099.9,398.8 1102.2,392.9 1104.7,378.6 1105.3,371.8 1106.3,354.3 1109.0,278.5 1110.9,248.9 1114.1,328.4 1115.1,337.5 1116.3,329.0 1118.7,284.1 1120.6,332.7 1122.0,344.4 1123.4,346.5 1125.3,408.5 1127.8,415.7 1130.3,418.3 1131.6,418.8 1133.5,417.1 1135.4,404.8 1137.5,395.2 1138.5,397.9 1140.6,368.1 1142.2,375.8 1143.5,414.3 1144.7,425.7 1145.4,427.5 1147.9,430.6 1150.4,431.7 1156.0,432.9 1160.0,432.5 1162.5,428.0 1164.4,420.8 1166.9,407.8 1168.2,412.8 1169.1,421.5 1170.7,428.5 1173.8,430.0 1176.9,429.8 1182.0,434.3 1185.7,433.6 1190.7,429.4 1192.6,430.9 1195.1,429.0 1196.6,428.7 1198.9,431.4 1201.4,433.1 1203.9,430.2 1205.7,429.1 1210.1,435.8 1212.0,437.2 1215.1,438.2 1220.2,439.1 1222.7,438.2 1227.7,439.2 1242.7,439.6 1250.2,438.6 1265.2,439.5 1270.2,438.8 1282.1,435.7 1285.3,436.8 1290.3,437.1 1300.3,436.3 1305.3,437.1 1309.1,436.8 1315.3,438.3 1321.6,438.9 1327.9,438.5 1330.0,437.6 1348.8,435.8 1353.8,433.8 1356.9,429.4 1358.8,421.8 1360.4,410.3 1362.3,427.5 1363.8,428.5 1367.6,428.0 1368.8,427.1 1372.6,422.7 1375.7,416.0 1378.2,405.5 1380.1,391.7 1381.3,376.5 1383.9,323.3 1386.1,243.4 1386.8,234.8 1388.0,227.1 1390.3,257.9 1391.4,269.2 1392.0,270.7 1394.1,237.5 1396.5,150.0 1397.8,123.0 1398.9,115.0 1399.8,122.4 1403.3,190.5 1404.5,174.0 1406.6,107.4 1408.6,221.3 1410.2,278.7 1411.8,309.8 1412.0,311.7 1413.0,311.4 1414.5,296.8 1415.5,299.8 1417.4,286.8 1419.5,301.9 1421.4,338.2 1425.2,369.1 1426.7,373.1 1428.3,395.7 1429.9,402.3 1432.7,418.1 1434.9,419.2 1435.8,425.5 1440.8,430.9 1442.7,431.9 1449.0,433.9 1461.5,435.4 1500.8,434.6 1510.9,435.8 1524.3,438.4 1525.2,436.7 1527.7,438.5 1529.4,436.5 1531.1,438.6 1535.3,438.2 1536.9,436.7 1538.6,439.4 1546.2,439.4 1552.9,437.4 1555.4,434.1 1557.1,434.0 1558.8,438.6 1564.6,439.4 1573.0,439.7 1581.4,438.1 1589.8,437.5 1604.9,437.6 1609.6,438.5"/>
<path d="M953.6,423.7 956.4,415.2 957.2,417.4 958.3,407.6 959.5,388.6 960.4,341.7 961.3,239.4 963.0,375.3 965.3,392.9 968.8,362.9 970.2,324.2 971.3,122.2 972.6,326.0 974.5,373.9 975.6,321.3 976.4,129.3 977.3,313.5 977.8,319.6 978.2,318.8 978.6,309.6 979.1,271.6 979.7,311.8 980.4,324.5 981.1,308.1 981.6,250.8 982.8,349.7 985.6,367.4 986.3,383.7 987.9,395.6 989.4,401.6 990.8,399.2 991.7,335.9 992.6,391.6 994.2,394.6 995.5,373.4 996.4,391.0 997.8,392.8 1000.0,410.6 1000.8,413.4 1001.7,414.6 1002.9,405.9 1003.9,418.2 1005.4,422.0 1007.6,421.1 1009.5,417.4 1013.4,412.2 1015.0,414.7 1016.4,415.1 1020.1,402.6 1023.5,380.1 1024.8,386.2 1026.1,382.6 1027.6,384.3 1029.0,383.5 1030.2,389.5 1032.7,391.7 1034.5,391.1 1036.1,384.2 1037.7,393.7 1039.0,393.8 1039.5,392.1 1041.4,389.2 1042.7,383.6 1045.8,359.6 1048.5,389.4 1050.2,393.6 1052.1,394.1 1053.9,389.4 1057.7,405.3 1060.2,410.0 1062.7,400.7 1064.6,411.3 1067.1,405.5 1069.0,399.6 1070.2,398.7 1072.1,407.7 1074.0,410.8 1075.9,417.0 1079.0,419.9 1085.3,416.0 1087.8,415.5 1091.5,410.6 1093.4,395.7 1094.6,366.4 1095.5,355.6 1096.8,366.8 1098.4,391.3 1099.9,398.3 1102.2,391.5 1104.7,375.5 1105.3,367.5 1106.3,349.9 1109.3,259.5 1110.9,233.2 1112.4,262.7 1114.1,317.0 1115.2,325.5 1116.3,315.0 1118.7,265.8 1120.6,314.7 1122.0,328.2 1123.4,328.6 1125.3,406.6 1127.8,414.1 1130.3,416.9 1131.6,417.3 1133.5,416.2 1135.4,403.2 1137.5,393.9 1138.5,397.2 1140.6,367.6 1142.2,376.3 1143.5,414.6 1144.7,425.8 1145.4,427.7 1147.9,430.9 1150.4,431.9 1156.0,433.1 1160.0,432.5 1162.5,427.8 1164.4,420.4 1166.9,406.9 1168.2,411.9 1169.1,421.0 1170.7,428.3 1173.8,429.9 1176.9,429.6 1182.0,434.1 1185.7,433.4 1190.7,429.1 1192.6,430.7 1195.1,428.8 1196.6,428.4 1198.9,431.2 1201.4,433.0 1203.9,430.1 1205.7,428.9 1208.9,434.0 1210.8,436.2 1215.1,438.0 1220.2,438.9 1222.7,437.9 1227.7,439.1 1242.7,439.4 1250.2,438.5 1265.2,439.5 1270.2,438.8 1282.1,435.6 1285.3,436.6 1290.3,436.9 1300.3,436.0 1305.3,436.9 1309.1,436.5 1315.3,438.1 1321.6,438.8 1327.9,438.4 1330.0,437.6 1348.8,435.4 1353.8,433.1 1356.9,428.3 1358.8,420.3 1360.4,409.5 1362.3,425.9 1363.8,426.4 1366.3,425.8 1368.8,424.5 1372.6,419.8 1375.7,412.3 1378.2,401.1 1380.1,386.5 1381.3,370.1 1383.9,313.9 1386.1,229.1 1387.2,219.0 1388.0,215.2 1390.3,244.7 1392.0,259.7 1394.1,228.8 1396.5,137.7 1397.8,110.3 1398.9,102.7 1399.8,109.4 1401.2,142.9 1403.3,178.0 1404.5,162.1 1406.6,95.0 1408.6,214.3 1410.2,272.1 1411.8,303.5 1412.0,305.2 1413.0,306.3 1414.5,291.9 1415.5,296.1 1417.4,280.9 1419.5,294.4 1420.8,326.5 1425.2,364.3 1426.7,367.7 1428.3,392.8 1429.9,399.2 1432.7,416.8 1434.9,417.6 1435.8,424.8 1440.8,430.0 1442.7,430.9 1449.0,433.0 1461.5,434.5 1500.8,434.0 1524.3,438.6 1525.2,437.0 1527.7,438.7 1529.4,436.7 1531.1,438.7 1535.3,438.2 1536.9,436.7 1538.6,439.3 1546.2,439.2 1552.9,437.0 1555.4,433.6 1557.1,433.5 1558.8,438.4 1564.6,439.4 1573.0,440.1 1581.4,438.8 1589.8,438.2 1604.9,438.2 1609.6,438.9"/>
<path d="M953.6,422.2 956.4,413.5 957.2,416.2 958.3,406.1 959.5,386.9 960.4,339.8 961.3,237.2 963.0,375.0 965.3,392.9 968.8,363.6 970.2,325.2 971.3,124.3 972.6,327.3 973.6,359.8 974.5,374.3 975.6,322.1 976.4,130.9 977.3,314.2 977.8,320.2 978.2,319.3 978.6,309.9 979.1,271.8 979.7,311.8 980.4,324.2 981.1,307.6 981.6,250.0 982.8,348.8 985.6,365.5 986.3,382.2 987.9,394.3 989.4,400.4 990.8,397.7 991.7,333.0 992.6,389.6 994.2,392.9 995.5,371.3 996.4,389.4 997.8,391.5 1000.0,410.0 1000.8,412.9 1001.7,414.4 1002.9,405.6 1003.9,418.1 1005.4,421.7 1007.6,420.8 1009.5,417.0 1013.4,411.4 1015.0,413.9 1016.4,414.3 1020.1,400.0 1023.5,373.3 1024.8,381.6 1026.1,377.8 1027.6,380.4 1029.0,378.6 1030.2,385.4 1032.7,385.8 1034.5,383.7 1036.1,374.0 1037.7,386.4 1039.0,388.1 1041.4,383.0 1042.7,376.5 1045.8,353.7 1048.5,386.2 1050.2,391.8 1052.1,393.4 1053.9,389.5 1057.7,406.2 1060.0,410.6 1060.2,411.0 1062.7,402.1 1064.6,411.9 1067.1,405.6 1069.0,398.4 1070.2,396.6 1072.1,404.8 1074.0,407.0 1075.9,413.1 1079.0,415.8 1085.3,409.7 1087.8,409.2 1091.5,404.2 1093.4,387.7 1094.6,354.8 1095.5,343.9 1096.8,358.2 1098.4,387.3 1099.9,394.7 1102.2,388.7 1104.7,373.3 1105.3,365.3 1106.3,348.5 1109.3,260.3 1110.9,235.8 1112.4,266.9 1114.1,320.0 1115.1,328.3 1116.3,318.6 1118.7,269.8 1120.6,317.2 1122.0,329.3 1123.4,328.2 1125.3,406.2 1127.8,413.4 1130.3,415.7 1131.6,415.6 1133.5,414.6 1135.4,398.9 1137.5,387.4 1138.5,392.3 1140.6,355.8 1142.2,361.7 1143.5,410.6 1144.7,424.5 1148.0,429.8 1150.4,431.3 1156.0,432.7 1160.0,432.2 1162.5,427.0 1166.9,404.9 1168.2,410.4 1169.1,420.2 1170.7,428.0 1173.8,429.7 1176.9,429.3 1182.0,433.9 1185.7,433.2 1190.7,428.7 1192.6,430.5 1195.1,428.4 1196.6,428.0 1198.9,430.9 1201.4,432.7 1203.9,429.7 1205.7,428.5 1207.6,432.0 1210.4,435.6 1215.1,437.8 1220.2,438.7 1222.7,437.7 1227.7,439.0 1242.7,439.3 1250.2,438.6 1265.2,439.7 1270.2,438.9 1282.1,435.6 1285.3,436.6 1290.3,437.0 1300.3,436.2 1305.3,437.1 1309.1,436.9 1315.3,438.4 1321.6,439.1 1327.9,438.6 1330.0,437.7 1348.8,435.8 1353.8,433.8 1356.9,429.4 1358.8,421.8 1360.4,410.3 1362.3,427.4 1363.8,428.3 1367.6,427.5 1368.8,426.6 1372.6,421.7 1375.7,414.2 1378.2,402.9 1380.1,388.2 1381.3,371.8 1383.9,315.3 1386.1,229.7 1388.0,214.8 1390.3,243.1 1392.0,257.8 1394.1,227.0 1396.5,135.0 1397.8,107.7 1398.9,100.4 1399.8,107.3 1403.3,177.7 1404.5,162.5 1406.6,96.8 1408.6,216.1 1410.2,274.2 1411.8,305.9 1412.0,307.7 1413.0,308.4 1414.5,294.0 1415.5,297.8 1417.4,283.5 1419.5,297.6 1421.4,334.7 1425.2,365.6 1426.7,368.9 1428.3,393.2 1429.9,399.4 1432.7,416.8 1434.9,417.4 1435.8,424.6 1440.8,429.8 1442.7,430.6 1449.0,432.6 1461.5,434.0 1486.5,433.0 1500.8,433.2 1524.3,437.6 1525.2,435.6 1527.7,437.6 1529.4,435.1 1531.1,437.5 1535.3,436.8 1536.9,434.9 1538.6,438.2 1546.2,438.2 1552.9,436.1 1555.4,432.4 1557.1,432.5 1558.8,437.9 1564.6,438.8 1573.0,439.2 1581.4,437.6 1589.8,437.0 1604.9,437.5 1609.6,438.5"/>
<path d="M953.6,422.3 956.4,412.2 957.2,414.8 959.5,382.3 960.4,332.8 961.3,225.4 963.0,372.0 965.3,387.7 968.8,353.0 970.2,312.9 971.3,99.6 972.6,313.7 974.5,369.8 975.3,345.3 975.6,312.2 976.4,107.4 977.3,301.8 977.8,308.2 978.6,300.6 979.1,261.8 979.7,303.4 980.4,314.6 981.1,299.5 981.6,242.4 982.8,344.8 985.6,364.3 986.3,382.0 987.9,395.0 989.4,401.7 990.8,399.7 991.7,337.4 992.6,392.8 994.2,395.9 995.5,375.2 996.4,392.5 997.8,394.0 1000.0,411.0 1000.8,413.7 1001.7,414.7 1002.9,405.8 1003.9,418.2 1004.5,420.3 1005.4,421.5 1007.6,420.1 1013.4,408.0 1015.0,411.1 1016.4,411.7 1018.3,404.5 1020.1,393.6 1023.5,360.7 1024.8,374.1 1026.1,371.0 1027.6,375.7 1029.0,373.3 1030.2,381.4 1032.7,381.5 1034.5,379.2 1036.1,369.0 1037.7,383.5 1039.0,386.2 1041.4,381.6 1042.7,375.4 1045.8,353.4 1048.5,386.1 1050.2,391.7 1052.1,393.1 1053.9,388.8 1057.7,405.1 1060.2,409.5 1062.7,399.2 1064.6,409.8 1067.1,402.0 1069.0,393.5 1070.2,391.2 1072.1,400.7 1074.0,403.2 1075.9,410.2 1079.0,413.8 1085.3,408.2 1087.8,408.1 1091.5,403.3 1093.4,386.7 1094.6,353.3 1095.5,342.4 1096.8,357.1 1098.4,386.7 1099.9,394.1 1102.2,388.1 1104.7,372.5 1105.3,364.3 1106.3,347.6 1109.3,258.5 1110.9,233.8 1112.4,265.0 1114.1,319.1 1115.2,328.0 1116.3,318.0 1118.7,269.8 1120.6,317.9 1122.0,330.4 1123.4,330.0 1125.3,406.5 1127.8,413.7 1130.3,416.1 1131.6,416.1 1133.5,415.0 1135.4,399.9 1137.5,388.7 1138.5,393.2 1140.6,357.4 1142.2,363.3 1143.5,410.9 1144.7,424.6 1147.9,429.7 1150.4,431.2 1156.0,432.6 1160.0,432.0 1162.5,427.2 1166.9,406.1 1168.2,411.4 1169.1,420.8 1170.7,428.3 1173.8,429.9 1176.9,429.7 1182.0,434.2 1185.7,433.4 1190.7,429.0 1192.6,430.6 1195.1,428.6 1196.6,428.2 1198.9,431.0 1201.4,432.8 1203.9,429.7 1205.7,428.5 1207.6,432.0 1210.4,435.6 1215.1,437.7 1220.2,438.7 1222.7,437.8 1227.7,439.1 1242.7,439.5 1250.2,438.3 1265.2,439.2 1270.2,438.5 1282.1,435.3 1285.3,436.4 1290.3,436.8 1300.3,435.9 1305.3,436.7 1309.1,436.3 1315.3,437.8 1321.6,438.4 1327.9,438.0 1330.0,437.1 1348.8,434.9 1352.5,433.4 1353.8,432.7 1356.9,427.8 1358.8,419.6 1360.4,409.2 1362.3,425.4 1363.8,425.6 1368.8,423.5 1372.6,418.7 1375.7,410.7 1378.2,399.1 1380.1,384.1 1381.3,367.0 1383.9,309.1 1386.1,221.7 1388.0,208.9 1392.0,253.8 1394.1,224.2 1396.5,131.5 1397.8,104.2 1398.9,97.0 1399.8,103.6 1401.2,137.7 1403.3,173.4 1404.5,158.1 1406.6,91.5 1408.6,212.7 1410.2,270.8 1411.8,302.4 1412.0,304.1 1413.0,305.5 1414.5,291.3 1415.5,295.7 1417.4,280.2 1419.5,293.6 1420.8,325.9 1425.2,363.8 1426.7,367.2 1428.3,392.4 1429.9,398.8 1432.7,416.7 1434.9,417.4 1435.8,424.7 1440.8,429.9 1442.7,430.8 1449.0,432.9 1461.5,434.4 1486.8,433.5 1500.8,433.5 1524.3,437.9 1525.2,435.9 1527.7,437.8 1529.4,435.4 1531.1,437.8 1535.3,437.0 1536.9,435.1 1538.6,438.2 1546.2,438.1 1552.9,435.6 1555.4,431.6 1557.1,431.6 1558.8,437.4 1564.6,438.4 1573.0,439.0 1581.4,437.5 1589.8,436.9 1604.9,436.7 1609.6,437.7"/>
<path d="M953.6,419.6 956.4,409.2 957.2,412.7 959.5,379.8 960.4,330.6 961.3,223.5 963.0,372.2 965.3,389.1 968.8,358.3 970.2,320.0 971.3,115.3 972.6,323.2 974.5,373.4 975.3,350.6 975.6,320.7 976.4,128.6 977.3,313.6 977.8,320.0 978.2,319.5 978.6,310.3 979.1,272.5 979.7,312.9 980.4,325.9 981.1,309.6 981.6,252.4 982.8,350.7 985.6,367.9 986.3,383.9 987.9,395.2 989.4,400.9 990.8,397.7 991.7,332.3 992.6,388.7 994.2,391.1 995.5,368.2 996.4,386.2 997.8,387.8 1000.0,407.5 1001.7,412.9 1002.9,403.5 1003.9,417.3 1004.5,419.1 1005.4,419.1 1007.6,417.8 1009.5,412.8 1013.4,406.0 1015.0,410.1 1016.4,411.4 1018.3,404.8 1020.1,395.3 1023.5,368.0 1024.8,379.3 1026.1,376.5 1027.6,380.2 1029.0,379.0 1030.2,386.2 1032.7,387.9 1034.5,386.8 1036.1,378.8 1037.7,389.9 1039.0,390.8 1041.4,385.6 1042.7,379.0 1045.8,353.8 1048.5,383.7 1050.2,388.2 1052.1,388.4 1053.9,382.3 1055.8,389.6 1057.7,399.8 1060.2,404.6 1062.7,392.2 1064.6,405.8 1069.0,388.6 1070.2,387.0 1072.1,398.8 1074.0,402.7 1075.9,410.9 1079.0,415.4 1082.7,413.6 1085.3,411.6 1087.8,411.5 1091.5,406.6 1093.4,390.5 1094.6,358.4 1095.5,347.2 1096.8,360.1 1098.4,387.7 1099.7,394.8 1102.2,387.3 1104.7,369.8 1105.3,360.5 1106.3,343.4 1109.3,245.2 1110.9,216.7 1112.4,244.5 1114.1,306.4 1115.2,314.3 1116.3,302.5 1118.7,249.9 1120.6,298.9 1122.0,313.8 1123.4,312.4 1125.3,404.8 1127.8,412.4 1130.3,415.2 1133.5,414.7 1135.4,399.8 1137.5,389.3 1138.5,393.9 1140.6,359.9 1142.2,366.9 1143.5,412.0 1144.7,425.0 1147.9,430.0 1150.4,431.3 1156.0,432.5 1160.0,431.3 1162.5,425.6 1166.9,400.4 1168.2,406.7 1169.1,418.2 1170.7,427.4 1173.8,429.3 1176.9,428.8 1182.0,433.7 1185.7,433.0 1190.7,428.5 1192.6,430.4 1195.1,428.2 1196.6,427.8 1198.9,430.8 1201.4,432.6 1203.9,429.4 1205.7,428.1 1207.6,431.6 1210.1,435.0 1212.0,436.0 1215.1,437.1 1220.2,437.7 1222.7,436.5 1227.7,438.4 1242.7,438.8 1250.2,438.0 1265.2,439.1 1270.2,438.4 1282.1,434.9 1285.3,436.1 1290.3,436.6 1300.3,435.9 1305.3,436.8 1309.1,436.5 1315.3,438.0 1321.6,438.7 1327.9,438.2 1330.0,437.2 1348.8,434.8 1353.8,432.8 1356.9,428.2 1358.8,420.3 1360.4,409.6 1362.3,426.2 1364.4,426.7 1367.6,425.9 1368.8,425.1 1372.6,420.4 1375.7,412.8 1378.2,401.3 1380.1,386.4 1381.3,369.5 1383.9,311.8 1386.1,224.2 1387.2,213.8 1388.0,209.7 1392.0,251.7 1394.1,221.4 1396.5,125.8 1397.8,97.4 1398.9,89.8 1399.8,95.6 1401.2,129.6 1403.3,165.1 1404.5,150.3 1406.6,84.0 1408.6,209.1 1410.2,268.1 1411.8,300.4 1412.0,302.1 1413.0,304.2 1414.5,290.5 1415.5,295.4 1417.4,280.4 1419.5,294.5 1421.4,333.1 1425.2,365.1 1426.7,368.7 1428.3,393.3 1429.9,399.6 1432.7,416.9 1434.9,417.6 1435.8,424.7 1440.8,429.8 1442.7,430.5 1449.0,432.3 1461.5,433.5 1482.0,433.6 1500.8,433.0 1510.9,434.3 1524.3,437.5 1525.2,435.4 1527.7,437.6 1529.4,435.1 1531.1,437.6 1535.3,437.0 1536.9,435.3 1538.6,438.4 1544.8,438.3 1546.2,438.3 1552.9,435.6 1555.4,431.5 1557.1,431.4 1558.8,437.2 1564.6,437.9 1573.0,438.5 1581.4,437.2 1604.9,436.8 1609.6,437.7"/>
<path d="M953.6,421.8 956.4,411.9 957.2,414.7 959.5,382.7 960.4,333.7 961.3,227.1 963.0,372.5 965.3,388.5 968.8,354.5 970.2,314.3 971.3,102.0 972.6,314.5 974.5,369.7 975.3,345.0 975.6,311.6 976.4,105.0 977.3,299.8 977.8,305.7 978.6,297.9 979.1,258.3 979.7,299.8 980.4,309.3 981.1,293.7 981.6,235.8 982.8,339.5 985.6,355.7 986.3,375.3 987.9,389.4 989.4,396.6 990.8,393.6 991.7,325.3 992.6,384.7 994.2,388.7 995.5,366.1 996.4,385.1 997.8,387.6 1000.0,408.0 1001.7,413.3 1002.9,404.2 1003.9,417.6 1004.5,419.5 1005.4,420.1 1007.6,419.1 1009.5,414.7 1013.4,408.3 1015.0,411.8 1016.4,412.6 1018.3,406.0 1020.1,397.0 1023.5,369.0 1024.8,379.4 1026.1,376.1 1027.6,379.5 1029.0,377.7 1030.2,384.8 1032.7,385.4 1034.5,383.2 1036.1,373.3 1037.7,385.7 1039.0,387.3 1041.6,380.1 1043.9,366.0 1045.8,348.3 1048.5,379.6 1050.2,385.2 1052.1,386.1 1053.9,380.2 1057.7,399.2 1060.2,404.3 1062.7,392.3 1064.6,406.0 1069.0,389.1 1070.2,387.6 1072.1,399.1 1074.0,402.9 1075.9,410.9 1079.0,415.3 1082.7,413.2 1085.3,411.1 1087.8,410.9 1091.5,406.0 1093.4,389.7 1094.6,357.4 1095.5,346.1 1096.8,359.3 1098.4,387.3 1099.7,394.5 1102.2,387.0 1104.7,369.6 1105.3,360.3 1106.3,343.2 1109.3,244.9 1110.9,216.2 1112.4,243.8 1114.1,305.7 1115.2,313.4 1116.3,301.2 1118.7,247.4 1120.6,295.7 1122.0,310.4 1123.4,307.7 1125.3,404.1 1127.8,411.7 1130.3,414.3 1133.5,413.9 1135.4,397.8 1137.5,386.7 1138.5,392.0 1140.6,355.8 1142.2,362.3 1143.5,410.8 1144.7,424.6 1147.9,429.8 1150.4,431.3 1156.0,432.5 1160.0,431.6 1162.5,425.6 1166.9,400.4 1168.2,406.7 1169.1,418.1 1170.7,427.4 1173.8,429.3 1176.9,428.7 1182.0,433.5 1185.7,432.8 1190.7,428.1 1192.6,430.2 1195.1,427.9 1196.6,427.4 1198.9,430.5 1201.4,432.3 1203.9,429.1 1205.7,427.8 1207.6,431.4 1210.8,435.2 1215.1,437.0 1220.2,437.7 1222.7,436.6 1227.7,438.5 1242.7,438.5 1250.2,437.3 1265.2,438.8 1270.2,438.2 1282.1,435.0 1285.3,436.2 1290.3,436.6 1300.3,435.8 1305.3,436.7 1309.1,436.2 1315.3,437.7 1321.6,438.3 1327.9,437.9 1330.0,437.0 1348.8,434.9 1353.8,432.7 1356.9,428.0 1358.8,420.0 1360.4,409.4 1362.3,425.7 1364.4,425.9 1368.8,424.1 1372.6,419.1 1375.7,411.0 1378.2,399.2 1380.1,383.9 1381.3,366.4 1383.9,307.4 1386.1,217.5 1388.0,204.3 1392.0,247.1 1394.1,217.9 1396.5,121.1 1397.8,92.8 1398.9,85.4 1399.8,91.1 1401.2,125.4 1403.3,161.0 1404.5,146.4 1406.6,80.0 1408.6,206.8 1410.2,265.9 1411.8,298.2 1413.0,302.4 1414.5,288.8 1415.5,294.0 1417.4,278.1 1419.5,291.7 1420.8,324.7 1425.2,363.3 1426.7,366.6 1428.3,392.1 1429.9,398.5 1432.7,416.5 1434.9,417.0 1435.8,424.5 1440.8,429.5 1442.7,430.2 1449.0,432.0 1461.5,433.0 1500.8,432.8 1510.9,434.0 1524.3,436.8 1525.2,434.5 1527.7,436.8 1529.4,434.1 1531.1,436.8 1535.3,436.2 1536.9,434.2 1538.6,437.7 1546.2,437.8 1552.9,435.4 1555.4,431.3 1557.1,431.3 1558.8,437.1 1564.6,437.9 1573.0,438.2 1581.4,436.7 1589.8,436.2 1604.9,436.3 1609.6,437.4"/>
<path d="M953.6,418.0 956.4,405.6 957.2,409.6 959.5,372.4 960.4,320.4 961.3,207.4 963.0,368.4 965.3,383.1 968.8,346.8 970.2,306.7 971.3,88.7 972.6,308.6 974.5,368.4 975.3,343.6 975.6,309.7 976.4,101.9 977.3,299.2 977.8,305.8 978.6,298.9 979.1,260.0 979.7,301.9 980.4,312.9 981.1,297.9 981.6,240.8 982.8,343.7 985.6,362.0 986.3,380.0 987.9,393.0 989.4,399.5 990.8,396.5 991.7,330.4 992.6,387.6 994.2,390.4 995.5,367.3 996.4,385.5 997.8,387.1 1000.0,407.0 1001.7,412.6 1002.9,402.9 1003.9,417.1 1004.5,418.6 1007.6,416.4 1009.5,410.8 1013.4,402.6 1015.0,407.4 1016.4,408.9 1018.3,401.4 1020.1,388.8 1023.5,354.6 1024.8,371.2 1026.1,369.1 1027.6,374.9 1029.0,373.0 1030.2,381.6 1032.7,382.5 1034.5,380.9 1036.1,371.6 1037.7,385.3 1039.0,387.5 1041.4,382.5 1042.7,375.7 1045.8,351.2 1048.5,381.8 1050.2,386.6 1052.1,386.9 1053.9,380.3 1055.8,387.6 1057.7,398.0 1060.2,402.9 1062.7,389.7 1064.6,404.1 1069.0,384.1 1070.2,381.8 1072.1,394.1 1074.0,397.8 1075.9,406.6 1079.0,412.0 1082.7,410.4 1085.3,408.5 1087.8,408.8 1091.5,404.4 1093.4,387.9 1094.6,354.8 1095.5,343.6 1096.8,357.5 1098.4,386.5 1099.7,393.7 1102.2,386.1 1104.7,368.4 1105.3,358.7 1106.3,341.7 1109.3,241.1 1110.9,212.2 1112.4,240.4 1114.1,304.4 1115.2,312.4 1116.3,300.4 1116.8,282.5 1118.7,247.1 1120.6,295.7 1122.0,310.4 1123.4,307.7 1125.3,404.1 1127.8,411.6 1130.3,414.1 1133.5,413.8 1135.4,397.6 1137.5,386.6 1138.5,391.9 1140.6,355.7 1142.2,362.1 1143.5,410.7 1144.7,424.6 1147.9,429.7 1150.4,431.1 1156.0,432.3 1160.0,430.9 1162.5,424.8 1166.9,398.0 1168.2,404.8 1169.1,417.1 1170.7,427.0 1173.8,429.1 1176.9,428.5 1182.0,433.5 1185.7,432.8 1190.7,428.2 1192.6,430.2 1195.1,428.0 1196.6,427.5 1198.9,430.6 1201.4,432.4 1203.9,429.1 1205.7,427.7 1207.6,431.4 1210.8,435.0 1215.1,436.6 1220.2,437.2 1222.7,436.0 1227.7,438.2 1242.7,438.5 1250.2,437.5 1265.2,438.8 1270.2,438.1 1282.1,434.5 1285.3,435.9 1290.3,436.4 1300.3,435.7 1305.3,436.6 1309.1,436.2 1315.3,437.7 1321.6,438.3 1327.9,437.8 1330.0,436.8 1348.8,434.4 1353.8,432.2 1356.9,427.5 1358.8,419.3 1360.4,409.1 1362.3,425.2 1364.8,425.1 1368.8,423.3 1372.6,418.2 1375.7,409.8 1378.2,397.7 1380.1,382.0 1381.3,364.1 1383.9,303.8 1386.1,212.1 1388.0,199.8 1392.0,243.2 1394.1,215.0 1396.5,117.4 1397.8,89.2 1398.9,82.1 1399.8,87.7 1401.2,122.3 1403.3,158.1 1404.5,143.7 1406.6,77.1 1408.6,205.0 1410.2,264.1 1411.8,296.3 1413.0,300.7 1414.5,287.0 1415.5,292.5 1417.4,275.5 1419.5,287.9 1420.8,321.8 1425.2,360.3 1426.7,363.1 1428.3,390.2 1429.9,396.3 1432.7,415.6 1434.9,415.9 1435.8,423.9 1437.7,425.3 1440.8,429.0 1442.7,429.7 1449.0,431.8 1461.5,433.2 1486.8,432.2 1500.8,432.3 1524.3,437.2 1525.2,435.0 1527.7,437.1 1529.4,434.4 1531.1,437.0 1535.3,436.1 1536.9,434.1 1538.6,437.6 1546.2,437.5 1552.9,434.9 1555.4,430.7 1557.1,430.8 1558.8,436.9 1564.6,437.9 1573.0,438.4 1581.4,436.9 1589.8,436.2 1604.9,436.2 1609.6,437.3"/>
<path d="M953.6,418.9 955.5,412.9 956.4,408.0 957.2,411.8 959.5,376.9 960.4,325.9 961.3,215.6 963.0,370.2 965.3,384.9 967.2,368.3 968.8,348.2 970.2,307.0 971.3,87.3 972.6,306.2 974.5,366.7 975.3,340.6 975.6,304.5 976.4,87.4 977.3,290.3 977.8,296.6 978.6,290.5 979.1,250.0 979.7,292.2 980.4,300.8 981.1,285.8 981.6,227.2 982.8,334.4 985.6,349.6 986.3,370.8 987.6,383.7 989.4,393.9 990.8,390.5 991.7,318.6 992.6,380.0 994.2,385.2 995.5,360.7 996.4,380.5 997.8,383.0 1000.0,405.9 1001.7,412.2 1002.9,402.3 1003.9,416.9 1004.4,418.3 1006.8,417.3 1007.6,416.3 1009.5,410.7 1013.4,402.9 1015.0,408.3 1015.2,407.9 1016.4,409.5 1018.0,404.0 1020.1,390.9 1023.5,358.4 1024.8,373.5 1026.1,370.5 1027.6,375.7 1029.0,373.3 1030.2,381.6 1030.8,381.2 1032.7,381.4 1034.5,378.4 1036.1,367.0 1037.7,381.3 1039.0,384.1 1041.6,376.1 1043.9,360.9 1045.8,343.6 1048.8,377.8 1050.2,382.9 1052.1,384.2 1053.9,378.1 1058.0,399.1 1058.4,399.2 1060.2,402.9 1062.7,389.6 1064.6,404.1 1067.2,393.9 1068.8,385.0 1070.2,381.9 1072.1,394.3 1074.0,397.8 1076.5,407.9 1076.8,407.5 1079.0,412.0 1079.2,411.6 1081.6,411.1 1082.0,410.2 1082.7,410.3 1083.2,409.3 1084.4,409.4 1085.3,408.0 1085.6,408.4 1086.0,407.8 1088.0,408.6 1088.4,407.6 1091.5,404.2 1093.4,388.1 1094.6,354.9 1095.6,344.0 1096.8,357.3 1098.4,387.1 1099.7,394.1 1102.2,386.8 1104.7,370.0 1106.3,343.7 1109.3,246.5 1110.9,218.1 1112.4,245.6 1114.4,309.3 1115.2,314.7 1116.3,302.1 1118.7,247.8 1120.6,295.8 1122.0,310.4 1123.4,307.5 1125.3,404.3 1127.8,411.6 1128.8,412.9 1130.0,414.0 1130.3,413.8 1130.4,414.4 1131.6,413.7 1133.5,413.6 1135.4,396.4 1137.5,384.5 1138.5,390.3 1140.6,352.0 1142.2,357.8 1143.5,409.7 1144.7,424.1 1147.2,428.8 1148.8,430.3 1150.4,430.7 1150.4,431.6 1150.8,430.3 1151.2,430.7 1151.6,430.4 1152.4,432.8 1152.8,431.3 1153.6,432.6 1154.0,431.7 1155.2,432.6 1155.6,431.7 1156.0,433.2 1156.4,432.0 1157.2,432.7 1157.6,432.0 1159.2,431.6 1159.6,431.0 1160.0,431.4 1161.2,428.4 1161.6,428.7 1164.8,414.8 1166.8,401.3 1168.0,406.3 1169.2,419.8 1170.7,428.1 1170.8,427.6 1172.8,429.4 1173.6,428.9 1174.8,429.8 1176.0,428.8 1176.4,429.3 1177.6,429.4 1179.2,431.7 1180.0,431.4 1180.8,433.4 1181.2,432.5 1182.0,434.1 1182.4,432.9 1182.8,434.0 1183.2,433.5 1184.0,433.8 1184.4,432.9 1185.2,433.4 1186.0,433.2 1187.2,431.0 1188.0,431.0 1188.4,429.7 1188.8,429.3 1188.8,429.7 1190.0,428.0 1190.1,429.3 1190.4,428.5 1190.7,428.9 1190.8,428.0 1192.0,429.7 1192.4,429.3 1192.6,430.8 1193.6,428.9 1194.0,429.7 1194.4,427.9 1194.8,429.1 1195.1,427.8 1195.6,427.5 1196.0,428.3 1196.6,427.1 1198.4,430.5 1199.2,430.3 1199.6,431.8 1200.4,431.1 1200.7,431.7 1200.8,430.8 1201.2,432.5 1201.4,431.7 1202.0,432.1 1202.4,430.3 1202.8,430.8 1203.6,428.9 1203.9,429.6 1204.4,428.4 1204.8,428.6 1205.6,427.4 1206.0,428.6 1206.4,428.1 1206.8,430.0 1207.2,429.8 1207.6,431.2 1210.0,434.9 1210.4,434.7 1211.6,435.8 1212.8,435.3 1213.2,436.3 1213.6,435.9 1214.4,436.4 1214.8,437.6 1215.1,436.5 1215.2,437.5 1215.6,435.9 1216.4,437.9 1216.4,437.1 1216.8,437.2 1217.6,436.3 1218.0,437.5 1219.2,438.3 1219.6,437.5 1220.0,437.8 1220.2,436.7 1220.4,437.4 1221.4,437.9 1222.4,436.6 1223.6,437.4 1224.4,436.5 1225.2,438.9 1226.0,437.7 1226.8,438.6 1227.6,438.6 1227.7,437.6 1229.6,439.2 1230.0,438.5 1231.2,438.9 1231.6,438.2 1232.0,439.4 1232.4,438.0 1232.8,438.8 1233.6,439.2 1234.0,438.0 1235.2,438.9 1235.6,437.4 1236.4,438.7 1238.0,438.7 1238.4,437.8 1238.8,439.0 1239.2,437.5 1239.6,438.5 1240.0,438.2 1240.4,438.8 1240.8,438.2 1241.2,439.0 1242.7,439.1 1242.8,438.5 1243.9,438.7 1244.4,437.2 1244.8,438.1 1246.0,437.7 1246.4,438.0 1246.8,437.6 1247.6,438.3 1248.0,437.7 1248.4,438.0 1248.8,437.0 1249.6,437.3 1250.0,436.9 1250.8,438.1 1251.2,437.1 1251.6,438.0 1252.0,437.0 1252.7,437.9 1253.2,436.5 1254.0,437.8 1254.4,437.0 1256.0,438.3 1256.4,437.2 1257.2,438.5 1257.7,438.6 1258.0,437.9 1258.4,438.4 1258.8,436.9 1259.0,438.2 1259.6,437.4 1260.8,438.8 1261.2,438.0 1262.0,438.8 1262.4,438.0 1263.6,438.9 1264.4,437.2 1265.2,438.8 1265.2,438.3 1266.0,438.0 1266.4,438.6 1267.6,438.3 1267.7,438.8 1268.8,437.6 1270.0,438.6 1270.4,437.7 1270.8,438.0 1271.6,437.2 1272.0,437.5 1272.4,436.7 1272.8,437.9 1274.4,436.8 1274.8,435.9 1276.4,436.9 1277.2,435.3 1277.6,435.8 1278.8,435.7 1279.2,435.1 1280.0,435.7 1280.8,434.7 1281.2,435.2 1282.0,434.2 1283.2,434.7 1283.6,435.8 1285.2,435.7 1285.3,436.1 1286.4,435.5 1286.8,436.4 1288.0,436.5 1288.4,435.0 1289.2,436.6 1290.0,435.5 1290.4,436.5 1291.2,435.7 1291.6,436.0 1292.0,434.9 1292.4,436.3 1292.8,435.8 1294.0,436.9 1294.4,435.8 1294.8,436.0 1295.2,435.2 1295.3,435.8 1295.6,435.2 1296.0,436.4 1296.8,435.7 1297.2,436.3 1297.6,435.4 1298.0,435.7 1298.8,435.2 1300.0,435.4 1300.4,434.8 1300.8,436.2 1302.4,435.4 1302.8,436.1 1303.2,435.4 1303.6,436.3 1305.2,436.3 1305.3,437.1 1306.0,435.6 1306.8,436.9 1307.2,435.9 1307.6,436.3 1307.8,435.8 1308.0,436.7 1309.1,435.7 1309.6,436.7 1310.4,435.3 1310.8,437.0 1311.6,436.0 1313.2,437.7 1314.0,436.8 1314.8,437.7 1315.2,437.8 1315.3,437.3 1315.6,438.0 1316.0,437.1 1316.4,437.9 1316.8,436.8 1317.6,438.5 1318.8,436.4 1319.6,438.2 1320.8,437.2 1322.0,437.6 1322.4,438.5 1323.2,437.4 1324.8,437.7 1325.2,436.9 1325.6,437.7 1326.0,437.3 1326.4,438.0 1326.8,437.1 1327.2,437.6 1327.6,437.1 1327.9,437.7 1328.0,436.6 1328.4,436.9 1329.2,436.1 1329.6,436.4 1330.4,435.9 1331.2,435.9 1331.6,436.7 1332.0,436.4 1333.2,436.9 1333.6,436.0 1334.8,435.7 1336.4,436.2 1336.8,435.1 1337.2,435.9 1338.0,435.2 1339.2,435.6 1339.6,435.0 1341.2,435.3 1342.4,434.1 1342.5,435.2 1342.8,434.1 1344.0,435.0 1345.2,433.1 1345.6,434.2 1346.4,433.5 1347.2,434.2 1348.4,433.3 1348.8,433.7 1349.2,433.0 1349.6,433.5 1350.0,432.6 1350.4,433.3 1350.8,432.1 1352.5,431.4 1352.8,431.8 1353.2,430.9 1353.8,431.2 1354.4,429.8 1354.8,430.0 1355.2,427.5 1355.6,427.7 1356.3,427.0 1357.2,425.0 1360.4,407.6 1362.4,423.6 1363.6,423.3 1363.8,422.2 1364.4,423.7 1364.8,422.4 1365.6,422.4 1366.3,420.8 1366.4,422.5 1366.8,421.6 1367.6,421.3 1368.0,421.3 1368.4,422.0 1368.8,420.9 1368.8,421.3 1369.2,420.6 1369.6,420.6 1370.4,418.1 1370.8,419.3 1371.6,416.7 1372.0,417.5 1375.1,408.8 1375.6,407.7 1375.7,408.4 1378.2,395.2 1379.6,383.7 1381.3,359.9 1383.9,297.8 1386.1,201.3 1387.2,193.1 1388.0,190.2 1392.0,232.1 1394.1,205.3 1396.4,103.9 1398.0,68.5 1398.8,62.9 1399.8,66.4 1401.2,100.6 1403.3,134.2 1404.5,120.8 1406.6,52.2 1408.6,190.7 1410.2,251.2 1411.8,283.9 1413.0,290.8 1414.5,277.4 1415.6,285.4 1417.4,265.3 1419.5,276.6 1420.8,313.9 1425.2,355.2 1425.6,356.1 1426.4,356.2 1426.7,358.2 1428.3,387.6 1429.9,393.5 1432.7,414.9 1432.8,414.5 1433.6,415.6 1433.9,415.3 1434.8,416.0 1434.9,415.4 1435.8,424.1 1436.4,424.6 1437.6,424.1 1438.0,425.3 1438.8,425.6 1439.2,427.4 1439.6,427.3 1440.8,428.7 1440.8,428.2 1441.2,429.2 1442.0,428.7 1442.4,429.8 1443.2,428.7 1443.6,430.4 1444.0,429.4 1444.4,429.4 1445.6,429.9 1446.4,431.2 1446.8,430.5 1448.0,431.1 1448.4,430.6 1448.8,432.0 1449.0,430.7 1449.6,432.3 1450.4,431.0 1451.2,432.5 1452.0,431.0 1452.4,431.7 1453.2,431.3 1453.6,431.8 1454.0,430.7 1454.4,431.9 1455.6,431.5 1456.0,432.5 1456.4,432.2 1456.8,432.5 1457.2,431.7 1458.0,432.8 1458.8,431.6 1461.2,432.9 1461.5,432.2 1461.6,432.6 1462.8,431.3 1463.6,433.0 1464.0,432.2 1464.8,432.6 1465.2,431.2 1466.4,432.6 1467.6,431.2 1468.0,432.1 1468.8,431.3 1469.6,431.9 1470.0,431.2 1470.4,432.0 1471.2,431.7 1471.6,432.7 1472.0,431.4 1472.8,431.5 1473.2,430.6 1473.6,432.1 1474.8,431.6 1475.2,431.0 1475.6,431.6 1477.2,432.1 1478.0,430.7 1478.8,431.9 1479.2,431.4 1480.0,432.0 1480.4,431.2 1481.2,432.3 1482.0,431.3 1482.4,431.6 1483.2,431.0 1483.6,431.9 1484.4,430.8 1484.8,432.2 1485.2,431.2 1486.0,431.8 1486.8,430.6 1487.6,431.8 1488.0,431.1 1488.8,432.3 1489.2,431.3 1489.6,433.6 1490.4,431.2 1491.6,432.4 1492.0,431.3 1492.4,432.2 1492.8,431.4 1493.6,432.6 1494.0,432.0 1494.4,432.5 1494.8,431.8 1495.2,432.4 1495.6,431.7 1496.4,432.0 1496.8,431.3 1497.6,431.8 1498.0,432.8 1498.8,431.6 1499.6,432.1 1500.0,431.6 1500.4,432.2 1500.8,431.7 1501.2,432.6 1501.6,431.4 1502.0,433.4 1502.8,431.8 1503.2,432.9 1504.0,433.3 1504.8,432.6 1506.0,433.5 1507.2,433.7 1507.6,432.4 1508.4,434.1 1508.8,433.4 1510.0,433.7 1510.8,433.0 1510.9,434.1 1512.0,433.3 1512.4,434.2 1512.8,433.9 1513.2,435.0 1514.0,434.0 1514.4,435.7 1515.2,434.7 1515.6,435.1 1516.0,434.8 1516.4,435.8 1516.8,434.9 1517.6,436.2 1518.4,435.7 1519.6,436.3 1521.2,436.0 1521.6,437.0 1522.0,436.7 1522.8,437.4 1523.2,436.4 1524.3,437.3 1525.2,433.9 1526.0,436.1 1526.8,435.7 1527.7,436.8 1528.4,436.2 1528.8,434.0 1529.6,434.3 1530.0,434.0 1530.8,436.7 1531.6,437.1 1532.0,436.0 1532.8,436.7 1533.2,438.0 1533.6,436.0 1534.4,437.0 1534.8,436.4 1535.3,436.6 1535.6,434.7 1536.0,435.3 1536.4,434.4 1536.8,434.8 1536.9,434.1 1537.6,435.4 1537.8,435.1 1538.0,436.6 1538.4,436.3 1538.6,437.4 1539.2,437.9 1540.0,437.1 1540.8,438.3 1541.2,437.0 1541.6,438.1 1542.0,437.2 1542.8,437.4 1543.2,437.0 1543.6,438.2 1544.8,436.8 1545.2,437.7 1545.6,437.0 1546.0,438.1 1546.2,436.6 1546.4,437.7 1546.8,436.4 1547.2,436.3 1548.0,437.1 1548.8,435.9 1549.2,436.4 1549.5,435.3 1550.0,435.9 1550.8,435.5 1551.2,435.9 1551.6,434.4 1552.4,435.9 1552.9,434.2 1553.2,434.8 1555.4,429.9 1555.6,431.6 1556.0,430.0 1556.8,430.1 1557.1,430.6 1558.4,436.4 1559.2,437.6 1559.6,436.2 1560.0,436.9 1560.8,436.5 1562.0,437.8 1563.2,437.0 1563.6,438.0 1564.0,436.9 1564.4,437.4 1564.8,437.0 1565.2,437.8 1565.6,437.1 1566.8,438.6 1567.2,437.2 1568.4,437.3 1568.8,438.6 1570.0,437.6 1570.4,438.5 1571.2,438.2 1572.0,438.9 1573.0,437.8 1573.2,438.9 1574.0,437.0 1574.8,438.4 1575.2,437.2 1575.6,437.2 1576.0,438.3 1576.8,437.0 1577.6,437.7 1578.0,437.1 1579.2,437.3 1579.6,438.1 1581.2,436.7 1581.4,435.9 1581.6,436.9 1582.4,436.6 1583.2,437.4 1583.6,436.0 1584.0,437.0 1585.2,436.4 1585.6,437.5 1586.0,437.0 1586.4,437.6 1587.2,436.1 1588.8,437.4 1589.6,435.8 1589.8,436.9 1590.4,436.7 1590.8,437.1 1591.6,435.7 1592.0,437.4 1592.8,436.4 1593.6,437.5 1594.0,436.6 1594.4,437.3 1594.8,436.6 1595.2,437.4 1595.6,436.6 1596.0,437.1 1596.4,436.6 1596.8,436.8 1597.6,436.4 1598.2,436.9 1598.8,436.3 1599.6,437.2 1600.4,436.0 1601.6,437.1 1602.0,435.8 1602.4,436.8 1603.2,435.9 1604.0,436.7 1604.4,435.9 1604.9,437.0 1605.2,435.8 1606.0,435.5 1606.4,436.7 1606.8,436.1 1607.6,436.3 1608.0,437.4 1608.8,437.2 1609.2,436.2 1609.6,436.7"/>
<path d="M953.6,417.7 956.4,405.1 957.2,409.4 959.5,372.5 960.4,320.6 961.3,207.4 963.0,368.1 965.3,382.9 968.8,345.5 970.2,304.6 971.3,82.8 972.6,304.2 974.5,366.2 975.3,340.5 975.6,304.6 976.4,87.6 977.3,290.8 977.8,296.6 978.6,290.6 979.1,249.8 979.7,292.6 980.4,300.5 981.1,285.4 981.6,227.2 982.8,334.5 985.6,349.2 986.3,371.2 987.9,386.1 989.4,393.5 990.8,390.5 991.7,318.7 992.6,380.3 994.2,384.3 995.5,360.4 996.4,380.6 997.8,383.2 1000.0,405.2 1001.7,411.6 1002.9,402.5 1003.9,416.8 1004.4,418.1 1006.8,417.1 1007.2,416.5 1007.6,416.7 1009.5,410.5 1012.4,405.0 1013.4,402.0 1015.0,407.6 1016.4,408.9 1018.3,401.8 1020.0,389.8 1023.5,353.5 1024.8,370.5 1026.1,367.2 1027.6,373.7 1029.0,370.8 1030.2,379.4 1032.7,378.8 1034.4,376.2 1036.1,363.8 1037.7,379.5 1039.0,382.7 1041.4,376.6 1043.9,360.8 1045.8,343.7 1047.7,362.8 1048.5,376.1 1050.2,382.9 1050.4,382.6 1050.8,383.4 1052.1,384.1 1053.9,377.9 1057.7,397.7 1060.2,402.9 1062.7,389.2 1064.6,404.0 1069.2,383.3 1070.2,381.7 1072.1,394.0 1074.0,397.6 1075.9,406.7 1078.4,411.1 1079.2,411.4 1079.6,410.8 1081.2,410.4 1082.4,409.1 1082.7,409.4 1085.2,406.6 1087.2,406.8 1087.6,406.1 1087.8,406.6 1091.5,401.5 1093.4,384.3 1094.6,349.0 1095.5,337.4 1096.8,352.7 1098.4,384.4 1099.7,391.6 1102.2,384.2 1104.8,365.3 1106.3,340.1 1109.3,240.4 1110.9,212.1 1112.4,239.8 1114.1,304.0 1115.2,312.8 1116.3,300.4 1116.8,282.4 1118.7,247.0 1120.8,298.7 1122.0,310.7 1123.4,307.9 1125.3,404.0 1127.8,411.8 1130.3,414.2 1131.6,413.6 1133.5,413.6 1135.4,396.4 1137.5,384.8 1138.5,390.4 1140.6,351.4 1142.2,356.2 1143.5,408.9 1144.7,424.0 1148.4,429.8 1148.8,429.5 1150.4,431.0 1150.4,430.0 1150.8,431.1 1151.2,431.0 1151.6,431.8 1152.0,430.5 1152.4,431.6 1153.2,431.2 1153.6,431.9 1154.0,432.0 1154.4,431.1 1154.8,432.2 1155.2,431.8 1156.8,431.9 1157.2,430.7 1157.6,432.0 1158.4,431.1 1160.0,431.2 1160.4,428.5 1160.8,429.4 1162.8,423.4 1164.4,415.1 1166.9,396.6 1168.2,404.5 1169.1,417.0 1170.1,424.1 1170.7,426.8 1171.2,426.6 1172.8,428.9 1173.2,428.2 1173.6,429.2 1174.4,429.4 1176.9,428.4 1177.6,429.7 1178.0,429.1 1178.8,430.5 1179.2,429.8 1180.0,432.2 1180.4,431.2 1181.2,433.2 1181.6,432.4 1182.0,433.4 1182.8,433.4 1183.6,432.4 1185.6,433.4 1188.0,429.5 1188.4,430.1 1188.8,428.7 1189.2,428.6 1189.6,429.4 1190.0,429.0 1190.7,427.1 1191.2,428.6 1192.0,428.7 1192.8,430.5 1193.2,429.0 1193.6,429.7 1194.0,428.2 1194.4,428.4 1195.1,427.5 1195.2,428.4 1196.0,427.4 1196.4,427.7 1196.6,426.9 1197.6,429.3 1198.0,428.6 1199.6,431.5 1200.4,431.1 1200.8,432.0 1201.2,431.5 1201.4,432.3 1202.8,429.5 1204.0,429.0 1204.8,427.5 1205.6,427.1 1210.0,435.1 1210.1,434.1 1210.4,434.9 1210.8,434.1 1212.0,435.7 1212.4,435.1 1213.2,436.3 1213.6,436.4 1214.0,435.6 1215.2,436.9 1215.6,435.9 1216.0,437.4 1216.4,435.7 1216.4,436.6 1216.8,435.8 1217.6,437.4 1218.4,437.6 1218.8,436.7 1219.6,436.5 1220.0,438.3 1220.4,436.5 1221.4,436.8 1222.0,435.3 1222.7,436.0 1223.6,435.7 1224.0,437.0 1224.8,436.4 1225.6,438.0 1226.0,437.3 1226.4,438.2 1226.8,437.7 1228.0,438.3 1228.4,437.7 1228.8,438.8 1229.6,437.8 1230.0,438.6 1230.4,437.7 1231.6,438.5 1232.0,437.4 1232.4,437.7 1232.8,437.0 1233.2,438.3 1234.8,437.8 1235.2,438.3 1235.2,437.6 1236.4,438.5 1236.8,437.5 1237.2,439.5 1238.0,437.4 1238.4,438.2 1238.8,437.7 1239.2,438.4 1239.6,438.5 1240.0,437.6 1240.4,438.3 1240.8,437.8 1241.2,438.2 1241.6,437.8 1242.7,438.6 1242.8,437.8 1243.6,438.5 1243.9,437.4 1244.0,438.3 1244.4,437.6 1245.2,437.8 1245.6,437.4 1246.0,438.1 1247.2,437.2 1248.4,437.3 1248.8,436.4 1249.2,437.2 1249.6,437.1 1250.4,436.0 1250.8,437.0 1251.6,436.7 1252.0,438.1 1252.7,436.2 1252.8,437.4 1253.2,436.3 1254.0,437.2 1254.4,436.8 1254.8,437.8 1256.4,437.0 1257.2,438.4 1257.6,437.5 1258.0,437.8 1258.4,437.3 1258.8,438.0 1259.2,437.0 1259.6,437.0 1260.4,438.7 1260.8,438.2 1261.2,438.5 1262.0,436.8 1262.4,438.9 1263.2,437.5 1263.6,438.4 1264.8,437.9 1265.2,438.7 1265.6,437.7 1266.0,438.5 1266.4,437.6 1266.8,438.5 1267.2,438.1 1267.6,438.6 1268.0,437.4 1269.6,438.4 1270.0,437.3 1270.4,438.8 1271.6,436.5 1272.0,437.4 1272.4,437.5 1272.7,436.6 1272.8,437.3 1273.6,437.3 1274.8,436.0 1275.2,436.6 1275.3,435.6 1275.6,436.8 1276.8,435.0 1277.2,435.3 1277.6,434.9 1278.4,436.4 1278.8,434.9 1279.2,434.9 1279.6,436.1 1280.4,434.7 1280.8,435.6 1281.2,434.7 1282.1,434.9 1282.8,434.3 1283.2,435.0 1284.0,434.3 1285.2,435.5 1286.0,434.9 1286.4,435.9 1287.2,436.2 1287.6,435.3 1288.8,436.1 1289.2,435.6 1289.6,436.2 1290.0,435.5 1290.3,436.3 1291.6,436.0 1292.4,436.5 1293.2,435.8 1294.4,436.0 1295.2,435.4 1295.6,436.3 1296.0,435.6 1297.6,435.5 1298.0,436.1 1298.8,435.0 1299.2,435.4 1299.6,434.9 1300.3,435.7 1300.4,434.7 1300.8,435.6 1301.2,435.4 1301.6,436.0 1302.0,435.6 1303.2,436.4 1304.0,435.6 1305.2,437.0 1305.6,435.5 1306.0,436.7 1306.8,435.3 1307.6,435.6 1308.0,436.8 1308.4,435.7 1309.1,435.9 1309.6,435.1 1310.0,436.8 1310.8,435.8 1311.2,436.5 1311.6,436.0 1312.0,436.2 1312.4,437.0 1312.8,436.4 1313.6,436.7 1314.0,437.6 1314.8,435.9 1315.6,438.6 1316.0,437.4 1317.6,437.8 1318.0,437.1 1318.8,438.2 1319.2,437.1 1320.4,438.1 1320.8,437.8 1321.6,438.2 1322.0,437.5 1322.4,438.0 1323.2,437.5 1323.6,438.3 1324.8,436.8 1325.6,437.7 1326.4,437.5 1326.8,438.4 1327.6,437.0 1328.0,437.8 1328.8,437.1 1329.2,437.4 1330.0,437.0 1330.0,436.2 1331.2,436.3 1331.6,437.0 1332.8,435.6 1333.6,436.3 1334.4,435.5 1334.8,436.2 1335.2,435.9 1335.6,436.3 1336.3,436.2 1336.4,435.4 1336.8,435.4 1337.6,436.8 1338.8,435.2 1339.2,436.2 1340.0,435.1 1340.8,434.7 1341.2,435.2 1342.4,434.0 1342.8,434.4 1343.2,433.5 1344.4,434.2 1344.8,435.1 1345.2,433.1 1345.6,433.8 1346.4,433.9 1347.2,433.3 1347.6,433.6 1348.0,433.3 1348.4,434.3 1348.8,433.1 1349.2,433.5 1351.2,431.7 1352.0,432.4 1352.5,431.0 1352.8,431.6 1354.0,430.8 1354.8,428.8 1355.2,429.1 1355.6,427.1 1356.3,427.0 1356.8,425.8 1356.9,426.6 1360.4,407.6 1362.4,423.0 1362.8,422.7 1363.2,423.5 1363.8,422.6 1364.0,423.2 1364.8,422.3 1365.2,422.9 1366.0,421.4 1366.4,421.9 1366.8,420.7 1367.2,422.0 1367.6,422.0 1367.6,421.0 1368.0,421.6 1368.8,420.4 1369.2,421.1 1370.0,418.9 1370.4,419.0 1371.2,417.2 1371.3,417.7 1371.6,417.2 1372.0,415.7 1372.4,416.0 1372.8,415.5 1374.4,410.2 1375.6,407.8 1378.0,395.8 1380.0,379.5 1381.3,358.7 1383.9,297.4 1386.1,200.8 1388.0,189.5 1392.0,232.2 1394.1,204.5 1396.5,100.5 1397.8,70.7 1398.9,63.3 1399.8,67.1 1401.2,100.7 1403.3,134.6 1404.5,121.0 1406.6,52.2 1408.6,191.0 1411.2,276.0 1412.0,285.4 1413.0,290.9 1414.5,277.8 1415.5,286.4 1417.4,264.5 1418.4,272.6 1419.2,276.0 1419.5,275.6 1420.8,314.2 1424.8,351.4 1425.6,355.3 1426.0,355.1 1426.7,357.2 1428.3,387.1 1429.9,392.5 1432.7,414.9 1432.8,413.2 1433.6,414.8 1433.9,414.1 1434.0,414.6 1434.9,413.7 1435.8,423.0 1437.2,424.8 1437.7,424.0 1438.0,425.1 1438.4,424.5 1438.8,426.5 1439.6,426.5 1440.8,428.4 1440.8,427.8 1441.2,428.4 1442.0,427.8 1442.4,428.7 1443.2,428.4 1445.6,429.3 1446.0,430.2 1446.8,430.3 1447.2,429.8 1448.0,430.5 1449.0,430.4 1450.0,431.5 1450.4,430.7 1450.8,431.2 1452.4,431.0 1453.2,431.5 1453.6,430.7 1454.4,430.8 1456.0,431.9 1456.4,431.1 1456.8,431.9 1458.4,431.4 1459.2,432.4 1460.0,431.5 1460.4,432.2 1461.2,431.4 1461.5,432.1 1461.6,431.6 1462.4,432.1 1462.8,431.5 1463.6,431.9 1464.0,431.0 1464.4,431.5 1464.8,430.8 1465.2,431.7 1466.8,430.8 1467.2,431.5 1467.6,431.1 1468.4,431.9 1469.2,431.0 1469.6,432.0 1470.0,431.2 1470.4,431.9 1470.8,431.6 1471.2,431.9 1472.0,430.6 1473.2,432.2 1473.6,431.0 1474.0,431.6 1474.0,430.7 1474.8,431.8 1476.0,431.3 1476.8,431.7 1477.2,431.2 1478.4,431.4 1478.8,430.4 1479.2,431.1 1480.4,430.9 1480.8,431.6 1481.6,431.2 1482.0,432.5 1482.4,431.5 1484.0,431.6 1484.8,430.4 1485.2,432.0 1485.6,430.3 1487.2,431.8 1488.0,430.1 1488.8,431.2 1489.6,430.2 1490.4,431.5 1491.6,430.5 1492.4,432.2 1492.8,430.7 1493.2,431.5 1494.4,430.4 1494.8,431.2 1495.6,430.8 1496.4,431.3 1496.8,432.2 1497.2,431.0 1498.0,430.6 1498.4,431.3 1499.2,431.0 1499.6,431.5 1502.0,430.8 1502.8,432.0 1503.2,431.3 1503.6,432.4 1504.0,431.0 1504.4,431.7 1505.6,431.1 1506.4,432.6 1506.8,431.7 1508.0,432.6 1508.4,431.3 1508.8,432.1 1509.2,431.5 1509.6,432.7 1510.4,433.2 1512.0,433.5 1512.4,432.8 1512.8,433.4 1513.2,433.0 1514.3,434.4 1514.4,433.7 1515.6,434.8 1516.4,434.2 1516.8,435.0 1517.6,434.7 1517.6,435.6 1518.8,434.1 1519.6,435.6 1520.0,433.8 1520.4,435.8 1520.8,434.9 1521.6,436.0 1522.0,434.9 1524.0,436.9 1524.3,435.4 1524.8,435.9 1525.2,434.0 1525.6,434.9 1526.4,434.5 1526.8,435.7 1528.0,436.7 1528.4,434.2 1529.4,432.6 1531.1,436.3 1531.2,435.9 1532.4,435.5 1532.8,435.9 1533.2,434.8 1534.4,436.0 1535.2,434.5 1535.3,435.2 1535.6,435.0 1536.9,433.3 1538.6,437.2 1538.8,436.8 1539.6,437.0 1540.0,436.0 1540.8,437.4 1541.6,436.8 1542.4,437.5 1542.8,436.7 1543.2,437.4 1543.6,436.3 1544.4,437.7 1545.2,436.3 1545.6,437.1 1546.0,436.8 1546.4,437.1 1548.4,435.2 1549.2,435.2 1549.5,435.6 1550.0,434.7 1550.8,435.2 1552.0,433.7 1552.8,434.6 1553.6,432.4 1555.6,429.2 1556.4,429.7 1556.8,428.9 1557.6,430.9 1558.4,435.8 1558.8,436.1 1558.8,435.6 1559.2,436.6 1560.0,435.7 1561.2,437.4 1562.0,436.2 1563.2,437.5 1563.6,436.4 1564.0,437.6 1564.6,436.4 1564.8,437.3 1565.6,436.4 1566.8,437.3 1567.2,436.6 1567.6,437.7 1568.4,436.8 1569.2,437.8 1569.6,437.1 1570.8,437.8 1571.2,437.2 1572.4,436.7 1572.8,437.8 1573.0,437.3 1573.2,437.9 1573.6,437.2 1574.0,437.9 1574.4,437.4 1574.8,437.6 1575.2,436.5 1576.0,436.7 1576.4,437.8 1577.6,435.7 1578.4,437.2 1578.8,436.3 1579.2,436.8 1579.6,435.7 1580.4,436.8 1581.2,435.7 1581.6,436.4 1582.4,435.4 1582.8,436.1 1583.2,435.5 1584.4,435.9 1584.8,435.4 1585.6,436.5 1589.2,435.3 1589.6,436.7 1590.0,435.1 1590.4,436.1 1592.0,436.3 1592.4,435.4 1593.6,436.4 1594.8,435.9 1596.4,436.9 1597.6,435.6 1598.2,436.2 1599.2,436.1 1599.6,436.7 1600.0,436.0 1600.4,436.6 1601.2,435.8 1602.4,436.0 1602.8,434.9 1603.6,436.3 1604.8,435.3 1604.9,436.3 1605.2,435.2 1607.2,436.9 1607.6,435.5 1608.0,436.4 1608.4,435.7 1609.6,436.7"/>
<path d="M1142.8,408.7 1144.4,433.8 1146.0,444.4 1147.1,446.9 1148.5,443.8 1150.0,435.0 1151.3,432.5"/></g>
</g>
<g id="frame">
<line x1="96.00" y1="2.30" x2="96.00" y2="484.20" stroke="#000" stroke-width="2"/>
<line x1="89.90" y1="483.20" x2="753.00" y2="483.20" stroke="#000" stroke-width="2"/>
<line x1="95.60" y1="483.20" x2="95.60" y2="493.70" stroke="#000" stroke-width="2"/>
<text transform="translate(105.90,521.60) scale(0.987,1)" font-size="31.2" text-anchor="middle" fill="#000">4000</text>
<line x1="250.04" y1="483.20" x2="250.04" y2="493.70" stroke="#000" stroke-width="2"/>
<text transform="translate(260.34,521.60) scale(0.987,1)" font-size="31.2" text-anchor="middle" fill="#000">6000</text>
<line x1="404.48" y1="483.20" x2="404.48" y2="493.70" stroke="#000" stroke-width="2"/>
<text transform="translate(414.78,521.60) scale(0.987,1)" font-size="31.2" text-anchor="middle" fill="#000">8000</text>
<line x1="558.92" y1="483.20" x2="558.92" y2="493.70" stroke="#000" stroke-width="2"/>
<text transform="translate(571.22,521.60) scale(0.987,1)" font-size="31.2" text-anchor="middle" fill="#000">10000</text>
<line x1="713.36" y1="483.20" x2="713.36" y2="493.70" stroke="#000" stroke-width="2"/>
<text transform="translate(725.66,521.60) scale(0.987,1)" font-size="31.2" text-anchor="middle" fill="#000">12000</text>
<line x1="172.82" y1="483.20" x2="172.82" y2="488.70" stroke="#000" stroke-width="2"/>
<line x1="327.26" y1="483.20" x2="327.26" y2="488.70" stroke="#000" stroke-width="2"/>
<line x1="481.70" y1="483.20" x2="481.70" y2="488.70" stroke="#000" stroke-width="2"/>
<line x1="636.14" y1="483.20" x2="636.14" y2="488.70" stroke="#000" stroke-width="2"/>
<line x1="85.40" y1="426.90" x2="96.00" y2="426.90" stroke="#000" stroke-width="2"/>
<text transform="translate(79.50,435.50) scale(0.987,1)" font-size="31.2" text-anchor="end" fill="#000">0</text>
<line x1="85.40" y1="313.85" x2="96.00" y2="313.85" stroke="#000" stroke-width="2"/>
<text transform="translate(79.50,322.45) scale(0.987,1)" font-size="31.2" text-anchor="end" fill="#000">1</text>
<line x1="85.40" y1="200.80" x2="96.00" y2="200.80" stroke="#000" stroke-width="2"/>
<text transform="translate(79.50,209.40) scale(0.987,1)" font-size="31.2" text-anchor="end" fill="#000">2</text>
<line x1="85.40" y1="87.75" x2="96.00" y2="87.75" stroke="#000" stroke-width="2"/>
<text transform="translate(79.50,96.35) scale(0.987,1)" font-size="31.2" text-anchor="end" fill="#000">3</text>
<line x1="89.80" y1="370.38" x2="96.00" y2="370.38" stroke="#000" stroke-width="2"/>
<line x1="89.80" y1="257.32" x2="96.00" y2="257.32" stroke="#000" stroke-width="2"/>
<line x1="89.80" y1="144.27" x2="96.00" y2="144.27" stroke="#000" stroke-width="2"/>
<line x1="89.80" y1="31.22" x2="96.00" y2="31.22" stroke="#000" stroke-width="2"/>
<text transform="translate(424.30,573.20) scale(0.987,1)" font-size="31.2" text-anchor="middle" fill="#000">Wavelength(cm-1)</text>
<text transform="translate(23.10,262.20) rotate(-90) scale(0.949,1)" font-size="32" text-anchor="middle" fill="#000">Absorbance</text>
<text transform="translate(360.80,645.50) scale(0.89,1)" font-size="60.5" text-anchor="start" fill="#2b2b2b">a</text>
<line x1="953.10" y1="1.30" x2="953.10" y2="482.80" stroke="#000" stroke-width="2"/>
<line x1="952.10" y1="481.80" x2="1610.40" y2="481.80" stroke="#000" stroke-width="2"/>
<line x1="1021.30" y1="481.80" x2="1021.30" y2="492.30" stroke="#000" stroke-width="2"/>
<text transform="translate(1021.30,522.30) scale(0.987,1)" font-size="31.2" text-anchor="middle" fill="#000">1000</text>
<line x1="1217.50" y1="481.80" x2="1217.50" y2="492.30" stroke="#000" stroke-width="2"/>
<text transform="translate(1217.50,522.30) scale(0.987,1)" font-size="31.2" text-anchor="middle" fill="#000">2000</text>
<line x1="1413.70" y1="481.80" x2="1413.70" y2="492.30" stroke="#000" stroke-width="2"/>
<text transform="translate(1413.70,522.30) scale(0.987,1)" font-size="31.2" text-anchor="middle" fill="#000">3000</text>
<line x1="1609.90" y1="481.80" x2="1609.90" y2="492.30" stroke="#000" stroke-width="2"/>
<text transform="translate(1609.90,522.30) scale(0.987,1)" font-size="31.2" text-anchor="middle" fill="#000">4000</text>
<line x1="1119.40" y1="481.80" x2="1119.40" y2="487.30" stroke="#000" stroke-width="2"/>
<line x1="1315.60" y1="481.80" x2="1315.60" y2="487.30" stroke="#000" stroke-width="2"/>
<line x1="1511.80" y1="481.80" x2="1511.80" y2="487.30" stroke="#000" stroke-width="2"/>
<line x1="942.50" y1="436.10" x2="953.10" y2="436.10" stroke="#000" stroke-width="2"/>
<text transform="translate(936.50,444.70) scale(0.987,1)" font-size="31.2" text-anchor="end" fill="#000">0.00</text>
<line x1="942.50" y1="321.90" x2="953.10" y2="321.90" stroke="#000" stroke-width="2"/>
<text transform="translate(936.50,330.50) scale(0.987,1)" font-size="31.2" text-anchor="end" fill="#000">0.05</text>
<line x1="942.50" y1="207.70" x2="953.10" y2="207.70" stroke="#000" stroke-width="2"/>
<text transform="translate(936.50,216.30) scale(0.987,1)" font-size="31.2" text-anchor="end" fill="#000">0.10</text>
<line x1="942.50" y1="93.50" x2="953.10" y2="93.50" stroke="#000" stroke-width="2"/>
<text transform="translate(936.50,102.10) scale(0.987,1)" font-size="31.2" text-anchor="end" fill="#000">0.15</text>
<line x1="946.90" y1="379.00" x2="953.10" y2="379.00" stroke="#000" stroke-width="2"/>
<line x1="946.90" y1="264.80" x2="953.10" y2="264.80" stroke="#000" stroke-width="2"/>
<line x1="946.90" y1="150.60" x2="953.10" y2="150.60" stroke="#000" stroke-width="2"/>
<line x1="946.90" y1="36.40" x2="953.10" y2="36.40" stroke="#000" stroke-width="2"/>
<text transform="translate(1281.80,572.00) scale(0.987,1)" font-size="31.2" text-anchor="middle" fill="#000">Wavelength(cm-1)</text>
<text transform="translate(858.10,261.80) rotate(-90) scale(0.949,1)" font-size="32" text-anchor="middle" fill="#000">Absorbance</text>
<text transform="translate(1235.80,650.50) scale(1,1)" font-size="58" text-anchor="start" fill="#2b2b2b">b</text>
<line x1="95.80" y1="665.30" x2="95.80" y2="1147.80" stroke="#000" stroke-width="2"/>
<line x1="89.90" y1="1146.80" x2="753.00" y2="1146.80" stroke="#000" stroke-width="2"/>
<line x1="95.60" y1="1146.80" x2="95.60" y2="1157.30" stroke="#000" stroke-width="2"/>
<text transform="translate(95.60,1187.00) scale(0.987,1)" font-size="31.2" text-anchor="middle" fill="#000">4000</text>
<line x1="250.04" y1="1146.80" x2="250.04" y2="1157.30" stroke="#000" stroke-width="2"/>
<text transform="translate(250.04,1187.00) scale(0.987,1)" font-size="31.2" text-anchor="middle" fill="#000">6000</text>
<line x1="404.48" y1="1146.80" x2="404.48" y2="1157.30" stroke="#000" stroke-width="2"/>
<text transform="translate(404.48,1187.00) scale(0.987,1)" font-size="31.2" text-anchor="middle" fill="#000">8000</text>
<line x1="558.92" y1="1146.80" x2="558.92" y2="1157.30" stroke="#000" stroke-width="2"/>
<text transform="translate(558.92,1187.00) scale(0.987,1)" font-size="31.2" text-anchor="middle" fill="#000">10000</text>
<line x1="713.36" y1="1146.80" x2="713.36" y2="1157.30" stroke="#000" stroke-width="2"/>
<text transform="translate(713.36,1187.00) scale(0.987,1)" font-size="31.2" text-anchor="middle" fill="#000">12000</text>
<line x1="172.82" y1="1146.80" x2="172.82" y2="1152.30" stroke="#000" stroke-width="2"/>
<line x1="327.26" y1="1146.80" x2="327.26" y2="1152.30" stroke="#000" stroke-width="2"/>
<line x1="481.70" y1="1146.80" x2="481.70" y2="1152.30" stroke="#000" stroke-width="2"/>
<line x1="636.14" y1="1146.80" x2="636.14" y2="1152.30" stroke="#000" stroke-width="2"/>
<line x1="85.20" y1="1103.20" x2="95.80" y2="1103.20" stroke="#000" stroke-width="2"/>
<text transform="translate(79.50,1111.80) scale(0.987,1)" font-size="31.2" text-anchor="end" fill="#000">0</text>
<line x1="85.20" y1="1015.82" x2="95.80" y2="1015.82" stroke="#000" stroke-width="2"/>
<text transform="translate(79.50,1024.42) scale(0.987,1)" font-size="31.2" text-anchor="end" fill="#000">1</text>
<line x1="85.20" y1="928.44" x2="95.80" y2="928.44" stroke="#000" stroke-width="2"/>
<text transform="translate(79.50,937.04) scale(0.987,1)" font-size="31.2" text-anchor="end" fill="#000">2</text>
<line x1="85.20" y1="841.06" x2="95.80" y2="841.06" stroke="#000" stroke-width="2"/>
<text transform="translate(79.50,849.66) scale(0.987,1)" font-size="31.2" text-anchor="end" fill="#000">3</text>
<line x1="85.20" y1="753.68" x2="95.80" y2="753.68" stroke="#000" stroke-width="2"/>
<text transform="translate(79.50,762.28) scale(0.987,1)" font-size="31.2" text-anchor="end" fill="#000">4</text>
<line x1="85.20" y1="666.30" x2="95.80" y2="666.30" stroke="#000" stroke-width="2"/>
<text transform="translate(79.50,674.90) scale(0.987,1)" font-size="31.2" text-anchor="end" fill="#000">5</text>
<line x1="89.60" y1="1059.51" x2="95.80" y2="1059.51" stroke="#000" stroke-width="2"/>
<line x1="89.60" y1="972.13" x2="95.80" y2="972.13" stroke="#000" stroke-width="2"/>
<line x1="89.60" y1="884.75" x2="95.80" y2="884.75" stroke="#000" stroke-width="2"/>
<line x1="89.60" y1="797.37" x2="95.80" y2="797.37" stroke="#000" stroke-width="2"/>
<line x1="89.60" y1="709.99" x2="95.80" y2="709.99" stroke="#000" stroke-width="2"/>
<text transform="translate(423.80,1232.00) scale(0.987,1)" font-size="31.2" text-anchor="middle" fill="#000">Wavelength(cm-1)</text>
<text transform="translate(31.20,918.30) rotate(-90) scale(0.949,1)" font-size="32" text-anchor="middle" fill="#000">Absorbance</text>
<text transform="translate(361.50,1302.00) scale(0.987,1)" font-size="62.8" text-anchor="start" fill="#2b2b2b">c</text>
<line x1="953.40" y1="665.30" x2="953.40" y2="1147.80" stroke="#000" stroke-width="2"/>
<line x1="952.40" y1="1146.80" x2="1610.40" y2="1146.80" stroke="#000" stroke-width="2"/>
<line x1="1021.70" y1="1146.80" x2="1021.70" y2="1157.30" stroke="#000" stroke-width="2"/>
<text transform="translate(1021.70,1187.00) scale(0.987,1)" font-size="31.2" text-anchor="middle" fill="#000">1000</text>
<line x1="1217.70" y1="1146.80" x2="1217.70" y2="1157.30" stroke="#000" stroke-width="2"/>
<text transform="translate(1217.70,1187.00) scale(0.987,1)" font-size="31.2" text-anchor="middle" fill="#000">2000</text>
<line x1="1413.70" y1="1146.80" x2="1413.70" y2="1157.30" stroke="#000" stroke-width="2"/>
<text transform="translate(1413.70,1187.00) scale(0.987,1)" font-size="31.2" text-anchor="middle" fill="#000">3000</text>
<line x1="1609.70" y1="1146.80" x2="1609.70" y2="1157.30" stroke="#000" stroke-width="2"/>
<text transform="translate(1609.70,1187.00) scale(0.987,1)" font-size="31.2" text-anchor="middle" fill="#000">4000</text>
<line x1="1119.70" y1="1146.80" x2="1119.70" y2="1152.30" stroke="#000" stroke-width="2"/>
<line x1="1315.70" y1="1146.80" x2="1315.70" y2="1152.30" stroke="#000" stroke-width="2"/>
<line x1="1511.70" y1="1146.80" x2="1511.70" y2="1152.30" stroke="#000" stroke-width="2"/>
<line x1="942.80" y1="1103.00" x2="953.40" y2="1103.00" stroke="#000" stroke-width="2"/>
<text transform="translate(936.50,1111.60) scale(0.987,1)" font-size="31.2" text-anchor="end" fill="#000">0.0</text>
<line x1="942.80" y1="928.20" x2="953.40" y2="928.20" stroke="#000" stroke-width="2"/>
<text transform="translate(936.50,936.80) scale(0.987,1)" font-size="31.2" text-anchor="end" fill="#000">0.2</text>
<line x1="942.80" y1="753.40" x2="953.40" y2="753.40" stroke="#000" stroke-width="2"/>
<text transform="translate(936.50,762.00) scale(0.987,1)" font-size="31.2" text-anchor="end" fill="#000">0.4</text>
<line x1="947.20" y1="1015.60" x2="953.40" y2="1015.60" stroke="#000" stroke-width="2"/>
<line x1="947.20" y1="840.80" x2="953.40" y2="840.80" stroke="#000" stroke-width="2"/>
<line x1="947.20" y1="666.00" x2="953.40" y2="666.00" stroke="#000" stroke-width="2"/>
<text transform="translate(1287.40,1237.50) scale(0.987,1)" font-size="31.2" text-anchor="middle" fill="#000">Wavelength(cm-1)</text>
<text transform="translate(872.80,927.30) rotate(-90) scale(0.949,1)" font-size="32" text-anchor="middle" fill="#000">Absorbance</text>
<text transform="translate(1237.00,1307.00) scale(1,1)" font-size="58" text-anchor="start" fill="#2b2b2b">d</text>
</g>
</svg>
</body></html>
